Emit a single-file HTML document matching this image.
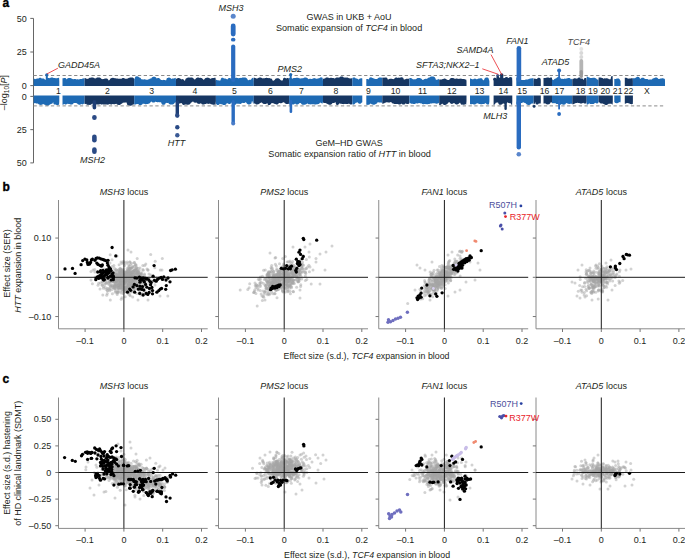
<!DOCTYPE html>
<html><head><meta charset="utf-8"><style>
html,body{margin:0;padding:0;background:#fff;width:685px;height:560px;overflow:hidden}
svg{display:block}
text{font-family:"Liberation Sans",sans-serif}
</style></head><body>
<svg width="685" height="560" viewBox="0 0 685 560" font-family="Liberation Sans, sans-serif">
<rect width="685" height="560" fill="#fff"/>
<text x="2.60" y="6.80" font-size="12" text-anchor="start" fill="#000" font-weight="bold" stroke="#000" stroke-width="0.35">a</text>
<line x1="33.50" y1="18.40" x2="33.50" y2="162.90" stroke="#666" stroke-width="1" />
<line x1="30.30" y1="85.60" x2="33.50" y2="85.60" stroke="#666" stroke-width="1" />
<line x1="30.30" y1="96.40" x2="33.50" y2="96.40" stroke="#666" stroke-width="1" />
<text x="26.80" y="88.70" font-size="9" text-anchor="end" fill="#231f20" >0</text>
<text x="26.80" y="99.50" font-size="9" text-anchor="end" fill="#231f20" >0</text>
<line x1="30.30" y1="52.00" x2="33.50" y2="52.00" stroke="#666" stroke-width="1" />
<line x1="30.30" y1="129.65" x2="33.50" y2="129.65" stroke="#666" stroke-width="1" />
<text x="26.80" y="55.10" font-size="9" text-anchor="end" fill="#231f20" >25</text>
<text x="26.80" y="132.75" font-size="9" text-anchor="end" fill="#231f20" >25</text>
<line x1="30.30" y1="18.40" x2="33.50" y2="18.40" stroke="#666" stroke-width="1" />
<line x1="30.30" y1="162.90" x2="33.50" y2="162.90" stroke="#666" stroke-width="1" />
<text x="26.80" y="21.50" font-size="9" text-anchor="end" fill="#231f20" >50</text>
<text x="26.80" y="166.00" font-size="9" text-anchor="end" fill="#231f20" >50</text>
<text transform="translate(7.4,92.5) rotate(-90)" font-size="9" text-anchor="middle" fill="#231f20">–log<tspan font-size="6.5" dy="2">10</tspan><tspan dy="-2">[</tspan><tspan font-style="italic">P</tspan>]</text>
<path d="M33.6 85.9L33.6 78.4L34.1 78.6L34.6 78.9L35.1 79.3L35.6 79.0L36.1 78.8L36.6 78.7L37.1 78.6L37.6 78.6L38.1 78.6L38.6 78.4L39.1 77.9L39.6 77.8L40.1 77.7L40.6 77.8L41.1 78.1L41.6 78.5L42.1 78.4L42.6 78.4L43.1 78.4L43.6 78.6L44.1 78.8L44.6 79.2L45.1 79.8L45.6 79.6L46.1 79.5L46.6 78.5L47.1 78.2L47.6 78.0L48.1 77.9L48.6 77.9L49.1 78.1L49.6 78.3L50.1 78.1L50.6 77.7L51.1 77.5L51.6 77.4L52.1 77.4L52.6 77.5L53.1 77.7L53.6 78.1L54.1 78.0L54.6 78.0L55.1 78.0L55.6 78.2L56.1 78.3L56.6 78.2L57.1 78.2L57.6 78.0L58.1 77.9L58.6 77.8L59.1 77.8L59.3 80.9L59.3 85.9Z" fill="#1e6ab4"/>
<path d="M33.6 95.6L33.6 103.9L34.1 103.6L34.6 103.1L35.1 103.0L35.6 103.3L36.1 103.5L36.6 103.5L37.1 103.5L37.6 103.4L38.1 103.8L38.6 104.3L39.1 104.5L39.6 104.7L40.1 104.8L40.6 104.9L41.1 104.9L41.6 104.8L42.1 104.6L42.6 104.4L43.1 104.0L43.6 104.2L44.1 104.5L44.6 104.7L45.1 104.8L45.6 105.3L46.1 105.5L46.6 105.7L47.1 105.8L47.6 105.8L48.1 105.7L48.6 105.5L49.1 105.3L49.6 104.8L50.1 104.3L50.6 104.2L51.1 104.1L51.6 103.8L52.1 103.7L52.6 103.3L53.1 102.0L53.6 103.9L54.1 104.4L54.6 104.6L55.1 104.6L55.6 104.5L56.1 104.7L56.6 104.9L57.1 105.0L57.6 105.0L58.1 104.9L58.6 104.8L59.1 104.6L59.3 101.2L59.3 95.6Z" fill="#1e6ab4"/>
<path d="M62.5 85.9L62.5 78.2L63.0 78.2L63.5 78.2L64.0 78.1L64.5 78.0L65.0 78.0L65.5 78.1L66.0 78.4L66.5 79.5L67.0 78.8L67.5 78.4L68.0 78.2L68.5 78.0L69.0 77.9L69.5 77.9L70.0 77.9L70.5 78.0L71.0 78.2L71.5 78.4L72.0 78.8L72.5 78.9L73.0 79.2L73.5 79.2L74.0 79.1L74.5 79.0L75.0 79.0L75.5 79.1L76.0 79.2L76.5 79.4L77.0 79.3L77.5 79.3L78.0 79.3L78.5 79.4L79.0 79.6L79.5 79.3L80.0 79.1L80.5 79.0L81.0 78.9L81.5 78.9L82.0 79.0L82.5 78.6L83.0 78.4L83.5 78.3L84.0 78.4L84.5 78.6L84.6 80.9L84.6 85.9Z" fill="#1e6ab4"/>
<path d="M62.5 95.6L62.5 104.8L63.0 104.7L63.5 104.5L64.0 104.1L64.5 104.1L65.0 104.4L65.5 104.5L66.0 104.4L66.5 104.3L67.0 104.0L67.5 103.7L68.0 103.8L68.5 103.9L69.0 103.9L69.5 104.0L70.0 104.3L70.5 104.5L71.0 104.6L71.5 104.6L72.0 104.5L72.5 104.3L73.0 104.0L73.5 103.3L74.0 103.0L74.5 103.1L75.0 103.1L75.5 102.9L76.0 103.0L76.5 103.2L77.0 103.2L77.5 103.9L78.0 104.3L78.5 104.6L79.0 104.7L79.5 104.7L80.0 104.7L80.5 104.5L81.0 104.3L81.5 104.0L82.0 104.3L82.5 104.4L83.0 104.3L83.5 104.1L84.0 103.6L84.5 103.8L84.6 101.2L84.6 95.6Z" fill="#1e6ab4"/>
<text x="58.30" y="94.30" font-size="8.7" text-anchor="middle" fill="#231f20" >1</text>
<path d="M84.6 85.9L84.6 78.0L85.1 78.1L85.6 78.2L86.1 78.5L86.6 78.8L87.1 78.9L87.6 78.8L88.1 78.7L88.6 78.4L89.1 78.1L89.6 77.8L90.1 77.7L90.6 77.7L91.1 77.6L91.6 77.5L92.1 77.5L92.6 77.5L93.1 77.6L93.6 77.8L94.1 78.2L94.6 78.3L95.1 78.3L95.6 78.5L96.1 78.2L96.6 77.8L97.1 77.6L97.6 77.5L98.1 77.4L98.6 77.4L99.1 77.5L99.6 77.6L100.1 77.8L100.6 78.1L101.1 78.5L101.6 79.0L102.1 79.1L102.6 79.2L103.1 79.1L103.6 79.1L104.1 78.9L104.6 78.6L105.1 78.5L105.6 78.4L106.1 78.4L106.6 78.5L107.1 78.6L107.6 78.9L108.1 79.4L108.6 80.6L109.1 80.3L109.6 79.9L110.1 79.0L110.6 78.5L111.1 78.2L111.6 78.0L112.1 77.9L112.6 77.8L113.1 77.8L113.6 77.9L114.1 78.0L114.6 78.2L115.1 78.2L115.6 78.3L116.1 78.4L116.6 78.4L117.1 78.5L117.6 78.6L118.1 78.8L118.6 78.7L119.1 78.7L119.6 78.7L120.1 78.8L120.6 78.7L121.1 78.8L121.6 78.7L122.1 78.3L122.6 78.1L123.1 78.0L123.6 78.0L124.1 78.1L124.6 78.4L125.1 78.8L125.6 78.7L126.1 78.7L126.6 78.7L127.1 78.8L127.6 78.6L128.1 78.2L128.6 77.9L129.1 77.8L129.6 77.8L130.1 77.6L130.6 77.4L131.1 77.4L131.6 77.4L132.1 77.4L132.6 77.6L133.1 77.8L133.6 78.2L134.1 78.4L134.2 80.9L134.2 85.9Z" fill="#163662"/>
<path d="M84.6 95.6L84.6 103.9L85.1 104.0L85.6 103.9L86.1 103.8L86.6 104.4L87.1 104.7L87.6 104.8L88.1 104.9L88.6 104.8L89.1 104.8L89.6 104.9L90.1 104.9L90.6 104.8L91.1 104.6L91.6 104.2L92.1 103.6L92.6 103.8L93.1 103.9L93.6 103.9L94.1 103.8L94.6 103.5L95.1 103.4L95.6 103.8L96.1 104.2L96.6 104.4L97.1 104.5L97.6 104.6L98.1 104.6L98.6 104.6L99.1 104.4L99.6 104.2L100.1 103.9L100.6 104.3L101.1 104.5L101.6 104.5L102.1 104.4L102.6 104.3L103.1 104.4L103.6 104.4L104.1 104.4L104.6 104.4L105.1 104.5L105.6 104.5L106.1 104.4L106.6 104.5L107.1 104.6L107.6 104.7L108.1 104.6L108.6 104.5L109.1 104.3L109.6 103.9L110.1 104.1L110.6 104.4L111.1 104.5L111.6 104.5L112.1 104.3L112.6 104.0L113.1 104.0L113.6 104.2L114.1 104.2L114.6 104.2L115.1 104.1L115.6 104.0L116.1 103.7L116.6 104.1L117.1 104.5L117.6 104.7L118.1 104.8L118.6 104.9L119.1 104.9L119.6 104.9L120.1 104.7L120.6 104.5L121.1 104.1L121.6 103.8L122.1 103.5L122.6 103.0L123.1 102.6L123.6 102.7L124.1 102.7L124.6 102.6L125.1 102.5L125.6 102.4L126.1 102.5L126.6 102.6L127.1 104.4L127.6 104.9L128.1 105.2L128.6 105.5L129.1 105.6L129.6 105.7L130.1 105.7L130.6 105.7L131.1 105.6L131.6 105.4L132.1 105.2L132.6 104.8L133.1 104.3L133.6 104.6L134.1 104.7L134.2 101.2L134.2 95.6Z" fill="#163662"/>
<text x="107.50" y="94.30" font-size="8.7" text-anchor="middle" fill="#231f20" >2</text>
<path d="M134.2 85.9L134.2 78.4L134.7 79.0L135.2 77.0L135.7 76.6L136.2 76.4L136.7 76.3L137.2 76.3L137.7 76.4L138.2 76.6L138.7 77.0L139.2 77.5L139.7 77.6L140.2 77.7L140.7 78.1L141.2 79.3L141.7 79.3L142.2 79.3L142.7 79.5L143.2 79.5L143.7 79.4L144.2 79.3L144.7 79.3L145.2 79.4L145.7 79.6L146.2 79.8L146.7 79.7L147.2 79.7L147.7 79.7L148.2 79.4L148.7 79.3L149.2 79.2L149.7 78.8L150.2 78.6L150.7 78.5L151.2 78.4L151.7 77.7L152.2 77.2L152.7 76.9L153.2 76.8L153.7 76.7L154.2 76.7L154.7 76.8L155.2 76.9L155.7 77.2L156.2 77.7L156.7 78.5L157.2 78.3L157.7 78.1L158.2 78.1L158.7 78.1L159.2 78.2L159.7 78.5L160.2 79.1L160.7 79.7L161.2 79.9L161.7 80.1L162.2 80.2L162.7 80.0L163.2 79.9L163.7 79.8L164.2 79.9L164.7 80.0L165.2 80.2L165.7 80.2L166.2 80.2L166.7 78.6L167.2 78.1L167.7 77.9L168.2 77.7L168.7 77.6L169.2 77.6L169.7 77.7L170.2 77.9L170.7 78.2L171.2 78.7L171.7 78.9L172.2 78.6L172.7 78.5L173.2 78.4L173.7 78.4L174.2 78.4L174.7 78.1L175.2 77.9L175.7 77.8L176.0 80.9L176.0 85.9Z" fill="#1e6ab4"/>
<path d="M134.2 95.6L134.2 104.5L134.7 104.6L135.2 104.5L135.7 104.4L136.2 104.2L136.7 104.0L137.2 104.0L137.7 104.1L138.2 104.1L138.7 104.6L139.2 104.9L139.7 105.0L140.2 105.1L140.7 105.1L141.2 105.0L141.7 104.8L142.2 104.5L142.7 103.8L143.2 103.8L143.7 103.7L144.2 103.7L144.7 104.1L145.2 104.3L145.7 104.3L146.2 104.3L146.7 104.1L147.2 103.9L147.7 103.9L148.2 103.8L148.7 103.7L149.2 103.5L149.7 103.2L150.2 102.8L150.7 102.1L151.2 101.4L151.7 101.8L152.2 102.2L152.7 102.4L153.2 102.5L153.7 102.5L154.2 102.4L154.7 102.2L155.2 101.9L155.7 101.6L156.2 101.9L156.7 102.1L157.2 102.2L157.7 102.2L158.2 102.2L158.7 102.1L159.2 102.2L159.7 102.3L160.2 102.2L160.7 102.3L161.2 102.4L161.7 104.0L162.2 104.5L162.7 104.7L163.2 104.8L163.7 104.8L164.2 104.8L164.7 104.6L165.2 104.2L165.7 102.9L166.2 102.7L166.7 102.9L167.2 103.0L167.7 103.0L168.2 102.8L168.7 103.4L169.2 103.9L169.7 104.2L170.2 104.4L170.7 104.6L171.2 104.6L171.7 104.6L172.2 104.6L172.7 104.5L173.2 104.3L173.7 104.0L174.2 103.6L174.7 102.7L175.2 102.6L175.7 102.5L176.0 101.2L176.0 95.6Z" fill="#1e6ab4"/>
<text x="151.60" y="94.30" font-size="8.7" text-anchor="middle" fill="#231f20" >3</text>
<path d="M176.0 85.9L176.0 79.1L176.5 78.7L177.0 78.4L177.5 78.2L178.0 78.1L178.5 78.1L179.0 78.1L179.5 78.2L180.0 78.4L180.5 78.7L181.0 79.1L181.5 79.5L182.0 79.2L182.5 79.1L183.0 79.2L183.5 79.4L184.0 79.9L184.5 80.7L185.0 80.7L185.5 78.9L186.0 78.4L186.5 78.2L187.0 78.1L187.5 77.8L188.0 77.5L188.5 77.4L189.0 77.4L189.5 77.5L190.0 77.7L190.5 77.6L191.0 77.5L191.5 77.6L192.0 77.6L192.5 77.8L193.0 78.0L193.5 78.4L194.0 79.0L194.5 79.6L195.0 79.4L195.5 79.1L196.0 78.3L196.5 77.9L197.0 77.7L197.5 77.5L198.0 77.5L198.5 77.6L199.0 77.7L199.5 77.9L200.0 77.8L200.5 77.8L201.0 77.9L201.5 78.0L202.0 78.3L202.5 78.7L203.0 79.3L203.5 79.8L204.0 79.8L204.5 78.9L205.0 78.4L205.5 78.1L206.0 77.9L206.5 77.7L207.0 77.7L207.5 77.6L208.0 77.7L208.5 77.8L209.0 78.0L209.5 78.2L210.0 78.6L210.5 79.1L211.0 78.6L211.5 78.3L212.0 78.2L212.5 78.1L213.0 78.0L213.5 78.1L214.0 78.0L214.5 77.8L215.0 77.8L215.5 77.8L215.9 80.9L215.9 85.9Z" fill="#163662"/>
<path d="M176.0 95.6L176.0 103.6L176.5 104.1L177.0 104.3L177.5 104.4L178.0 104.4L178.5 104.3L179.0 104.0L179.5 103.5L180.0 103.3L180.5 103.3L181.0 103.2L181.5 102.9L182.0 103.6L182.5 104.5L183.0 104.8L183.5 104.9L184.0 104.9L184.5 104.8L185.0 104.6L185.5 104.5L186.0 104.6L186.5 104.6L187.0 104.8L187.5 104.8L188.0 104.8L188.5 104.8L189.0 104.6L189.5 104.4L190.0 104.1L190.5 103.5L191.0 102.5L191.5 102.4L192.0 102.2L192.5 101.8L193.0 101.3L193.5 102.0L194.0 102.4L194.5 102.6L195.0 102.7L195.5 102.7L196.0 102.5L196.5 102.4L197.0 103.1L197.5 103.5L198.0 103.7L198.5 103.8L199.0 103.9L199.5 103.8L200.0 103.7L200.5 103.5L201.0 103.1L201.5 103.9L202.0 104.3L202.5 104.5L203.0 104.6L203.5 104.6L204.0 104.5L204.5 104.3L205.0 104.1L205.5 104.1L206.0 103.9L206.5 103.4L207.0 103.4L207.5 103.7L208.0 103.8L208.5 103.9L209.0 103.8L209.5 103.7L210.0 103.5L210.5 103.9L211.0 104.2L211.5 104.3L212.0 104.4L212.5 104.6L213.0 104.8L213.5 104.8L214.0 104.8L214.5 104.6L215.0 104.8L215.5 104.8L215.9 101.2L215.9 95.6Z" fill="#163662"/>
<text x="195.00" y="94.30" font-size="8.7" text-anchor="middle" fill="#231f20" >4</text>
<path d="M215.9 85.9L215.9 79.9L216.4 79.8L216.9 79.9L217.4 80.2L217.9 80.2L218.4 80.2L218.9 80.4L219.4 80.6L219.9 80.6L220.4 80.6L220.9 78.7L221.4 78.1L221.9 77.8L222.4 77.8L222.9 77.8L223.4 78.0L223.9 78.5L224.4 78.4L224.9 78.5L225.4 78.6L225.9 78.8L226.4 79.1L226.9 79.2L227.4 79.4L227.9 78.7L228.4 78.3L228.9 78.1L229.4 78.0L229.9 78.0L230.4 78.2L230.9 78.4L231.4 78.9L231.9 79.0L232.4 79.2L232.9 79.1L233.4 78.6L233.9 78.4L234.4 78.4L234.9 78.1L235.4 77.9L235.9 77.8L236.4 77.8L236.9 77.8L237.4 77.9L237.9 78.1L238.4 78.3L238.9 78.3L239.4 78.1L239.9 77.9L240.4 77.9L240.9 77.8L241.4 77.9L241.9 77.7L242.4 77.5L242.9 77.4L243.4 77.4L243.9 77.5L244.4 77.5L244.9 77.5L245.4 77.6L245.9 77.8L246.4 78.0L246.9 78.4L247.4 79.1L247.9 80.2L248.4 80.2L248.9 79.9L249.4 79.7L249.9 79.7L250.4 79.7L250.9 79.8L251.4 78.9L251.9 78.3L252.4 78.0L252.9 77.8L253.4 77.7L253.8 80.9L253.8 85.9Z" fill="#1e6ab4"/>
<path d="M215.9 95.6L215.9 103.6L216.4 104.3L216.9 104.7L217.4 104.9L217.9 105.0L218.4 104.9L218.9 104.7L219.4 104.2L219.9 103.8L220.4 104.1L220.9 104.2L221.4 104.3L221.9 104.2L222.4 104.5L222.9 104.7L223.4 104.9L223.9 104.9L224.4 104.9L224.9 104.9L225.4 104.7L225.9 104.4L226.4 104.0L226.9 103.1L227.4 103.3L227.9 103.4L228.4 103.7L228.9 103.9L229.4 103.9L229.9 103.9L230.4 103.7L230.9 103.3L231.4 102.8L231.9 102.6L232.4 102.2L232.9 103.6L233.4 104.4L233.9 104.7L234.4 104.8L234.9 104.8L235.4 104.7L235.9 104.4L236.4 103.8L236.9 103.6L237.4 103.7L237.9 103.8L238.4 103.8L238.9 103.7L239.4 103.8L239.9 103.9L240.4 103.9L240.9 103.7L241.4 103.5L241.9 103.1L242.4 102.8L242.9 103.0L243.4 103.0L243.9 103.0L244.4 102.9L244.9 102.8L245.4 102.5L245.9 101.9L246.4 102.9L246.9 103.6L247.4 104.0L247.9 104.2L248.4 104.4L248.9 104.4L249.4 104.4L249.9 104.3L250.4 104.1L250.9 103.8L251.4 103.4L251.9 101.2L252.4 101.2L252.9 103.3L253.4 103.7L253.8 101.2L253.8 95.6Z" fill="#1e6ab4"/>
<text x="234.30" y="94.30" font-size="8.7" text-anchor="middle" fill="#231f20" >5</text>
<path d="M253.8 85.9L253.8 77.8L254.3 77.8L254.8 77.8L255.3 78.0L255.8 78.3L256.3 78.6L256.8 78.4L257.3 78.4L257.8 78.2L258.3 77.9L258.8 77.7L259.3 77.5L259.8 77.5L260.3 77.5L260.8 77.6L261.3 77.7L261.8 78.0L262.3 78.3L262.8 78.4L263.3 78.3L263.8 78.2L264.3 78.2L264.8 78.3L265.3 78.0L265.8 77.9L266.3 77.8L266.8 77.8L267.3 77.9L267.8 78.1L268.3 78.2L268.8 78.1L269.3 78.1L269.8 78.3L270.3 78.4L270.8 78.5L271.3 78.6L271.8 78.9L272.3 79.8L272.8 80.7L273.3 80.7L273.8 80.6L274.3 80.3L274.8 79.8L275.3 79.0L275.8 78.6L276.3 78.4L276.8 78.3L277.3 78.2L277.8 78.2L278.3 78.3L278.8 78.5L279.3 78.8L279.8 79.3L280.3 79.8L280.8 80.3L281.3 80.5L281.8 80.6L282.3 80.4L282.8 80.3L283.3 78.2L283.8 77.9L284.3 77.8L284.8 77.8L285.3 77.9L285.8 78.3L286.3 78.4L286.8 78.2L287.3 78.1L287.8 78.0L288.3 78.1L288.8 78.4L289.1 80.9L289.1 85.9Z" fill="#163662"/>
<path d="M253.8 95.6L253.8 103.7L254.3 103.5L254.8 103.5L255.3 103.7L255.8 104.2L256.3 104.4L256.8 104.4L257.3 104.4L257.8 104.3L258.3 104.2L258.8 104.0L259.3 103.7L259.8 103.2L260.3 102.9L260.8 102.7L261.3 102.6L261.8 102.6L262.3 103.1L262.8 103.5L263.3 103.8L263.8 103.9L264.3 104.0L264.8 104.0L265.3 104.0L265.8 103.9L266.3 103.7L266.8 103.4L267.3 103.0L267.8 104.5L268.3 104.9L268.8 105.0L269.3 105.1L269.8 105.0L270.3 104.7L270.8 104.1L271.3 103.3L271.8 103.2L272.3 103.1L272.8 103.2L273.3 103.3L273.8 103.6L274.3 103.8L274.8 103.9L275.3 103.9L275.8 104.3L276.3 104.5L276.8 104.5L277.3 104.4L277.8 104.2L278.3 103.8L278.8 103.2L279.3 103.1L279.8 103.0L280.3 103.2L280.8 103.2L281.3 103.2L281.8 103.0L282.3 102.7L282.8 102.6L283.3 102.4L283.8 102.0L284.3 102.6L284.8 103.2L285.3 103.6L285.8 103.8L286.3 104.0L286.8 104.1L287.3 104.1L287.8 104.1L288.3 104.1L288.8 103.9L289.1 101.2L289.1 95.6Z" fill="#163662"/>
<text x="270.50" y="94.30" font-size="8.7" text-anchor="middle" fill="#231f20" >6</text>
<path d="M289.1 85.9L289.1 78.1L289.6 78.0L290.1 77.9L290.6 77.9L291.1 78.1L291.6 78.3L292.1 78.7L292.6 78.4L293.1 78.2L293.6 78.1L294.1 78.1L294.6 78.1L295.1 78.1L295.6 77.9L296.1 77.8L296.6 77.7L297.1 77.7L297.6 77.7L298.1 77.8L298.6 78.0L299.1 78.3L299.6 78.3L300.1 78.4L300.6 78.4L301.1 78.4L301.6 78.3L302.1 78.2L302.6 78.2L303.1 78.2L303.6 78.1L304.1 77.8L304.6 77.6L305.1 77.5L305.6 77.5L306.1 77.5L306.6 77.7L307.1 77.9L307.6 78.2L308.1 78.7L308.6 79.3L309.1 79.0L309.6 78.8L310.1 78.7L310.6 78.7L311.1 78.9L311.6 78.9L312.1 78.8L312.6 78.7L313.1 78.4L313.6 78.2L314.1 78.1L314.6 78.2L315.1 78.2L315.6 78.4L316.1 78.7L316.6 78.8L317.1 78.8L317.6 78.6L318.1 78.4L318.6 78.3L319.1 78.3L319.6 78.0L320.1 77.6L320.6 77.4L321.1 77.3L321.6 77.4L322.1 77.6L322.6 78.0L323.0 80.9L323.0 85.9Z" fill="#1e6ab4"/>
<path d="M289.1 95.6L289.1 104.4L289.6 104.4L290.1 104.4L290.6 104.3L291.1 104.1L291.6 104.1L292.1 104.3L292.6 104.4L293.1 104.4L293.6 104.4L294.1 104.2L294.6 104.0L295.1 103.6L295.6 104.1L296.1 104.4L296.6 104.5L297.1 104.5L297.6 104.5L298.1 104.3L298.6 104.0L299.1 103.4L299.6 102.9L300.1 102.9L300.6 103.1L301.1 103.6L301.6 104.2L302.1 104.5L302.6 104.7L303.1 104.8L303.6 104.8L304.1 104.7L304.6 104.7L305.1 104.6L305.6 104.5L306.1 104.3L306.6 103.9L307.1 103.5L307.6 103.6L308.1 104.0L308.6 104.2L309.1 104.3L309.6 104.3L310.1 104.3L310.6 104.4L311.1 104.3L311.6 104.2L312.1 104.2L312.6 104.3L313.1 104.3L313.6 104.3L314.1 104.3L314.6 104.4L315.1 104.5L315.6 104.5L316.1 104.4L316.6 104.3L317.1 104.2L317.6 104.2L318.1 104.1L318.6 104.0L319.1 103.7L319.6 103.3L320.1 102.5L320.6 102.8L321.1 103.1L321.6 103.3L322.1 103.4L322.6 103.4L323.0 101.2L323.0 95.6Z" fill="#1e6ab4"/>
<text x="301.50" y="94.30" font-size="8.7" text-anchor="middle" fill="#231f20" >7</text>
<path d="M323.0 85.9L323.0 78.4L323.5 78.9L324.0 78.6L324.5 78.5L325.0 78.5L325.5 78.0L326.0 77.6L326.5 77.4L327.0 77.4L327.5 77.4L328.0 77.5L328.5 77.7L329.0 78.2L329.5 78.1L330.0 77.9L330.5 77.7L331.0 77.7L331.5 77.8L332.0 77.9L332.5 78.0L333.0 78.0L333.5 78.1L334.0 78.3L334.5 78.6L335.0 78.6L335.5 78.0L336.0 77.7L336.5 77.5L337.0 77.4L337.5 77.4L338.0 77.4L338.5 77.6L339.0 77.8L339.5 77.2L340.0 76.9L340.5 76.6L341.0 76.5L341.5 76.5L342.0 76.5L342.5 76.6L343.0 76.8L343.5 77.2L344.0 77.7L344.5 77.6L345.0 77.5L345.5 77.6L346.0 77.7L346.5 77.6L347.0 77.6L347.5 77.6L348.0 77.7L348.5 77.9L349.0 78.2L349.5 78.2L350.0 78.4L350.5 78.4L351.0 78.3L351.5 78.3L352.0 78.5L352.3 80.9L352.3 85.9Z" fill="#163662"/>
<path d="M323.0 95.6L323.0 102.5L323.5 102.7L324.0 103.0L324.5 103.1L325.0 103.1L325.5 103.1L326.0 103.2L326.5 103.6L327.0 103.8L327.5 103.9L328.0 104.2L328.5 104.5L329.0 104.7L329.5 104.7L330.0 104.7L330.5 104.7L331.0 104.5L331.5 104.2L332.0 103.7L332.5 103.0L333.0 103.1L333.5 103.1L334.0 103.0L334.5 102.8L335.0 102.5L335.5 102.0L336.0 104.3L336.5 104.7L337.0 104.9L337.5 104.9L338.0 104.8L338.5 104.6L339.0 104.1L339.5 103.3L340.0 103.5L340.5 103.7L341.0 103.7L341.5 103.7L342.0 103.9L342.5 104.1L343.0 104.1L343.5 104.2L344.0 104.1L344.5 104.0L345.0 103.8L345.5 103.9L346.0 104.1L346.5 104.1L347.0 104.1L347.5 104.1L348.0 104.0L348.5 103.8L349.0 103.5L349.5 104.0L350.0 104.3L350.5 104.5L351.0 104.6L351.5 104.5L352.0 104.3L352.3 101.2L352.3 95.6Z" fill="#163662"/>
<text x="336.00" y="94.30" font-size="8.7" text-anchor="middle" fill="#231f20" >8</text>
<path d="M352.3 85.9L352.3 77.9L352.8 77.8L353.3 77.5L353.8 77.4L354.3 77.4L354.8 77.5L355.3 77.9L355.8 78.5L356.3 78.5L356.8 78.5L357.3 78.7L357.8 78.9L358.3 79.5L358.8 79.5L359.3 79.0L359.8 78.6L360.3 78.4L360.8 78.3L361.3 78.2L361.8 78.3L362.3 78.5L362.3 80.9L362.3 85.9Z" fill="#1e6ab4"/>
<path d="M352.3 95.6L352.3 104.3L352.8 104.5L353.3 104.5L353.8 104.5L354.3 104.3L354.8 104.0L355.3 103.2L355.8 102.8L356.3 102.7L356.8 102.6L357.3 102.3L357.8 102.4L358.3 103.2L358.8 103.6L359.3 103.7L359.8 103.7L360.3 103.7L360.8 103.5L361.3 103.1L361.8 102.5L362.3 102.3L362.3 101.2L362.3 95.6Z" fill="#1e6ab4"/>
<path d="M366.3 85.9L366.3 78.9L366.8 78.9L367.3 79.0L367.8 79.1L368.3 79.4L368.8 79.3L369.3 78.3L369.8 77.6L370.3 77.4L370.8 77.3L371.3 77.4L371.8 77.6L372.3 77.9L372.8 78.0L373.3 78.2L373.8 78.5L374.3 78.7L374.8 78.8L375.3 79.1L375.8 78.9L376.3 78.9L376.8 78.9L377.3 78.9L377.8 78.3L378.3 77.9L378.8 77.7L379.3 77.5L379.8 77.4L380.3 77.4L380.8 77.5L381.3 77.6L381.8 77.7L382.3 77.7L382.3 80.9L382.3 85.9Z" fill="#1e6ab4"/>
<path d="M366.3 95.6L366.3 104.8L366.8 104.7L367.3 104.8L367.8 104.9L368.3 104.8L368.8 104.7L369.3 104.5L369.8 104.2L370.3 103.7L370.8 103.4L371.3 103.9L371.8 104.3L372.3 104.5L372.8 104.6L373.3 104.7L373.8 104.7L374.3 104.7L374.8 104.5L375.3 104.3L375.8 104.0L376.3 103.7L376.8 103.4L377.3 102.9L377.8 102.0L378.3 102.3L378.8 102.5L379.3 102.6L379.8 102.6L380.3 102.6L380.8 102.5L381.3 102.6L381.8 102.7L382.3 102.7L382.3 101.2L382.3 95.6Z" fill="#1e6ab4"/>
<text x="368.50" y="94.30" font-size="8.7" text-anchor="middle" fill="#231f20" >9</text>
<path d="M382.3 85.9L382.3 77.6L382.8 77.8L383.3 77.7L383.8 77.6L384.3 77.6L384.8 77.7L385.3 77.6L385.8 77.5L386.3 77.6L386.8 77.8L387.3 78.2L387.8 79.4L388.3 79.4L388.8 79.2L389.3 78.9L389.8 78.8L390.3 78.7L390.8 78.7L391.3 78.7L391.8 78.8L392.3 79.0L392.8 79.1L393.3 79.1L393.8 79.2L394.3 78.7L394.8 78.1L395.3 77.8L395.8 77.6L396.3 77.6L396.8 77.6L397.3 77.8L397.8 77.9L398.3 77.7L398.8 77.6L399.3 77.7L399.8 77.8L400.3 77.6L400.8 77.4L401.3 77.3L401.8 77.3L402.3 77.4L402.8 77.6L403.3 78.0L403.8 79.6L404.3 79.6L404.8 79.6L405.3 79.2L405.8 79.0L406.3 78.8L406.8 78.8L407.3 78.7L407.8 78.8L408.3 78.9L408.8 78.4L409.3 78.1L409.4 80.9L409.4 85.9Z" fill="#163662"/>
<path d="M382.3 95.6L382.3 103.7L382.8 103.7L383.3 103.6L383.8 103.4L384.3 103.2L384.8 102.8L385.3 102.7L385.8 102.6L386.3 102.4L386.8 102.1L387.3 102.2L387.8 102.4L388.3 102.5L388.8 102.5L389.3 102.5L389.8 102.4L390.3 102.2L390.8 102.1L391.3 102.1L391.8 102.9L392.3 103.3L392.8 103.4L393.3 103.4L393.8 103.8L394.3 104.0L394.8 104.1L395.3 104.1L395.8 103.9L396.3 103.9L396.8 104.1L397.3 104.1L397.8 104.0L398.3 104.2L398.8 104.5L399.3 104.6L399.8 104.6L400.3 104.4L400.8 104.0L401.3 103.5L401.8 103.9L402.3 104.3L402.8 104.5L403.3 104.6L403.8 104.6L404.3 104.5L404.8 104.2L405.3 103.6L405.8 103.5L406.3 103.8L406.8 104.0L407.3 104.1L407.8 104.1L408.3 104.0L408.8 103.8L409.3 103.5L409.4 101.2L409.4 95.6Z" fill="#163662"/>
<text x="395.50" y="94.30" font-size="8.7" text-anchor="middle" fill="#231f20" >10</text>
<path d="M409.4 85.9L409.4 78.2L409.9 78.1L410.4 78.1L410.9 78.1L411.4 78.2L411.9 78.5L412.4 78.9L412.9 79.2L413.4 79.3L413.9 79.4L414.4 79.2L414.9 79.2L415.4 79.2L415.9 79.2L416.4 78.7L416.9 78.4L417.4 78.1L417.9 78.0L418.4 77.9L418.9 77.9L419.4 77.9L419.9 78.0L420.4 78.2L420.9 78.4L421.4 78.7L421.9 79.3L422.4 79.9L422.9 79.8L423.4 79.7L423.9 79.5L424.4 79.1L424.9 78.9L425.4 78.8L425.9 78.7L426.4 78.8L426.9 79.0L427.4 78.6L427.9 78.1L428.4 77.8L428.9 77.6L429.4 77.5L429.9 77.2L430.4 76.8L430.9 76.6L431.4 76.4L431.9 76.4L432.4 76.4L432.9 76.4L433.4 76.5L433.9 76.7L434.4 77.0L434.9 77.4L435.4 78.2L435.9 79.7L436.4 79.7L436.9 79.7L437.4 79.6L437.9 79.6L438.4 79.2L438.9 78.8L439.2 80.9L439.2 85.9Z" fill="#1e6ab4"/>
<path d="M409.4 95.6L409.4 102.5L409.9 103.0L410.4 103.3L410.9 103.5L411.4 103.7L411.9 103.8L412.4 103.8L412.9 103.7L413.4 103.9L413.9 104.1L414.4 104.1L414.9 104.0L415.4 103.8L415.9 103.3L416.4 103.3L416.9 103.4L417.4 103.4L417.9 103.4L418.4 103.2L418.9 102.9L419.4 103.0L419.9 103.2L420.4 103.3L420.9 103.4L421.4 103.3L421.9 103.8L422.4 104.1L422.9 104.2L423.4 104.3L423.9 104.2L424.4 104.1L424.9 103.9L425.4 104.1L425.9 104.2L426.4 104.2L426.9 104.1L427.4 104.2L427.9 104.2L428.4 104.1L428.9 104.0L429.4 103.9L429.9 103.8L430.4 103.6L430.9 103.4L431.4 103.4L431.9 103.4L432.4 103.3L432.9 103.2L433.4 103.3L433.9 103.3L434.4 103.2L434.9 103.2L435.4 103.4L435.9 103.6L436.4 103.7L436.9 103.7L437.4 103.6L437.9 103.5L438.4 103.3L438.9 103.1L439.2 101.2L439.2 95.6Z" fill="#1e6ab4"/>
<text x="422.50" y="94.30" font-size="8.7" text-anchor="middle" fill="#231f20" >11</text>
<path d="M439.2 85.9L439.2 79.6L439.7 79.6L440.2 79.5L440.7 79.4L441.2 79.5L441.7 79.4L442.2 79.2L442.7 79.1L443.2 79.0L443.7 78.8L444.2 78.6L444.7 78.6L445.2 78.7L445.7 78.8L446.2 79.3L446.7 79.5L447.2 79.7L447.7 79.9L448.2 79.9L448.7 79.9L449.2 79.9L449.7 79.1L450.2 78.6L450.7 78.3L451.2 78.1L451.7 78.0L452.2 78.0L452.7 78.0L453.2 78.0L453.7 78.2L454.2 78.4L454.7 78.7L455.2 78.8L455.7 78.7L456.2 78.6L456.7 78.5L457.2 78.6L457.7 78.7L458.2 78.9L458.7 78.8L459.2 78.7L459.7 78.8L460.2 78.7L460.7 78.6L461.2 78.7L461.7 78.8L462.2 79.0L462.7 78.9L463.2 78.9L463.7 78.9L464.2 79.0L464.7 79.2L465.2 79.4L465.7 79.4L466.2 79.5L466.5 80.9L466.5 85.9Z" fill="#163662"/>
<path d="M439.2 95.6L439.2 105.0L439.7 105.0L440.2 104.9L440.7 104.7L441.2 104.5L441.7 104.1L442.2 103.4L442.7 103.9L443.2 104.5L443.7 104.8L444.2 104.9L444.7 105.0L445.2 104.9L445.7 104.8L446.2 104.5L446.7 104.2L447.2 104.0L447.7 103.6L448.2 102.6L448.7 102.5L449.2 102.2L449.7 102.2L450.2 103.3L450.7 103.6L451.2 103.8L451.7 103.9L452.2 103.8L452.7 103.7L453.2 103.4L453.7 103.0L454.2 103.1L454.7 103.5L455.2 104.0L455.7 104.2L456.2 104.4L456.7 104.4L457.2 104.4L457.7 104.3L458.2 104.1L458.7 103.8L459.2 103.2L459.7 102.7L460.2 102.8L460.7 104.1L461.2 104.5L461.7 104.7L462.2 104.7L462.7 104.6L463.2 104.7L463.7 104.8L464.2 104.7L464.7 104.6L465.2 104.3L465.7 104.3L466.2 104.6L466.5 101.2L466.5 95.6Z" fill="#163662"/>
<text x="451.80" y="94.30" font-size="8.7" text-anchor="middle" fill="#231f20" >12</text>
<path d="M470.0 85.9L470.0 78.2L470.5 78.4L471.0 78.7L471.5 78.9L472.0 79.0L472.5 79.2L473.0 79.4L473.5 79.0L474.0 78.8L474.5 78.7L475.0 78.6L475.5 78.7L476.0 78.9L476.5 79.2L477.0 79.2L477.5 79.1L478.0 78.7L478.5 78.5L479.0 78.4L479.5 78.5L480.0 78.3L480.5 78.2L481.0 78.2L481.5 78.3L482.0 78.6L482.5 79.3L483.0 80.3L483.5 80.2L484.0 80.1L484.5 78.7L485.0 78.0L485.5 77.7L486.0 77.5L486.5 77.4L487.0 77.4L487.5 77.6L488.0 77.8L488.5 78.2L489.0 79.8L489.4 80.9L489.4 85.9Z" fill="#1e6ab4"/>
<path d="M470.0 95.6L470.0 104.0L470.5 104.2L471.0 104.3L471.5 104.3L472.0 104.2L472.5 103.9L473.0 104.0L473.5 104.4L474.0 104.5L474.5 104.5L475.0 104.5L475.5 104.2L476.0 103.8L476.5 103.6L477.0 103.5L477.5 103.3L478.0 103.2L478.5 103.8L479.0 104.0L479.5 104.1L480.0 104.1L480.5 104.2L481.0 104.3L481.5 104.3L482.0 104.2L482.5 104.1L483.0 103.9L483.5 103.9L484.0 103.9L484.5 103.7L485.0 103.4L485.5 103.1L486.0 103.6L486.5 104.1L487.0 104.4L487.5 104.5L488.0 104.5L488.5 104.4L489.0 104.2L489.4 101.2L489.4 95.6Z" fill="#1e6ab4"/>
<text x="479.60" y="94.30" font-size="8.7" text-anchor="middle" fill="#231f20" >13</text>
<path d="M493.6 85.9L493.6 78.2L494.1 77.9L494.6 77.8L495.1 77.8L495.6 77.9L496.1 78.1L496.6 78.6L497.1 79.1L497.6 78.1L498.1 77.9L498.6 77.8L499.1 77.8L499.6 77.8L500.1 77.7L500.6 77.8L501.1 78.0L501.6 78.1L502.1 78.1L502.6 78.0L503.1 78.1L503.6 78.2L504.1 78.1L504.6 78.0L505.1 77.7L505.6 77.5L506.1 77.5L506.6 77.5L507.1 77.7L507.6 78.2L508.1 78.1L508.6 78.1L509.1 78.1L509.6 78.2L510.1 78.4L510.6 78.0L511.1 77.7L511.6 77.6L512.1 77.5L512.3 80.9L512.3 85.9Z" fill="#163662"/>
<path d="M493.6 95.6L493.6 104.9L494.1 104.7L494.6 104.5L495.1 104.1L495.6 103.0L496.1 102.6L496.6 102.7L497.1 102.6L497.6 102.4L498.1 102.4L498.6 104.0L499.1 104.4L499.6 104.7L500.1 104.8L500.6 104.8L501.1 104.7L501.6 104.6L502.1 104.3L502.6 103.8L503.1 103.5L503.6 103.5L504.1 103.7L504.6 103.7L505.1 103.7L505.6 103.6L506.1 103.5L506.6 103.2L507.1 102.8L507.6 102.3L508.1 102.7L508.6 103.0L509.1 103.1L509.6 103.2L510.1 103.2L510.6 103.1L511.1 104.2L511.6 104.7L512.1 104.9L512.3 101.2L512.3 95.6Z" fill="#163662"/>
<text x="503.40" y="94.30" font-size="8.7" text-anchor="middle" fill="#231f20" >14</text>
<path d="M516.3 85.9L516.3 77.5L516.8 77.6L517.3 77.9L517.8 78.4L518.3 78.3L518.8 78.4L519.3 78.5L519.8 78.7L520.3 78.9L520.8 79.3L521.3 80.0L521.8 80.0L522.3 80.0L522.8 80.1L523.3 80.1L523.8 80.1L524.3 80.0L524.8 79.9L525.3 79.7L525.8 79.5L526.3 79.4L526.8 79.4L527.3 79.5L527.8 79.5L528.3 79.3L528.8 79.0L529.3 78.8L529.8 78.7L530.3 78.6L530.8 78.6L531.3 78.4L531.8 78.2L532.3 78.2L532.8 78.2L533.3 78.3L533.7 80.9L533.7 85.9Z" fill="#1e6ab4"/>
<path d="M516.3 95.6L516.3 104.8L516.8 104.6L517.3 104.5L517.8 104.5L518.3 104.5L518.8 104.4L519.3 104.2L519.8 103.9L520.3 103.7L520.8 103.4L521.3 103.1L521.8 103.0L522.3 102.8L522.8 102.4L523.3 102.3L523.8 102.6L524.3 102.8L524.8 102.9L525.3 103.1L525.8 103.6L526.3 104.1L526.8 104.5L527.3 104.7L527.8 104.8L528.3 104.9L528.8 104.9L529.3 104.9L529.8 104.7L530.3 104.5L530.8 104.2L531.3 103.8L531.8 103.5L532.3 103.6L532.8 103.6L533.3 103.5L533.7 101.2L533.7 95.6Z" fill="#1e6ab4"/>
<text x="522.20" y="94.30" font-size="8.7" text-anchor="middle" fill="#231f20" >15</text>
<path d="M533.7 85.9L533.7 78.3L534.2 78.5L534.7 78.8L535.2 78.7L535.7 78.8L536.2 78.9L536.7 79.1L537.2 78.7L537.7 78.1L538.2 77.8L538.7 77.7L539.2 77.7L539.7 77.9L540.2 78.2L540.7 78.9L540.8 80.9L540.8 85.9Z" fill="#163662"/>
<path d="M533.7 95.6L533.7 104.4L534.2 104.2L534.7 103.8L535.2 101.9L535.7 103.9L536.2 104.3L536.7 104.4L537.2 104.5L537.7 104.4L538.2 104.2L538.7 103.6L539.2 103.5L539.7 103.4L540.2 103.4L540.7 103.6L540.8 101.2L540.8 95.6Z" fill="#163662"/>
<path d="M543.5 85.9L543.5 78.1L544.0 78.1L544.5 78.1L545.0 78.0L545.5 77.9L546.0 77.8L546.5 77.7L547.0 77.5L547.5 77.5L548.0 77.5L548.5 77.5L549.0 77.7L549.5 77.9L550.0 77.8L550.5 77.6L551.0 77.5L551.5 77.6L552.0 77.7L552.0 80.9L552.0 85.9Z" fill="#163662"/>
<path d="M543.5 95.6L543.5 103.6L544.0 103.6L544.5 103.5L545.0 103.2L545.5 103.5L546.0 103.9L546.5 104.2L547.0 104.3L547.5 104.4L548.0 104.4L548.5 104.3L549.0 104.2L549.5 103.9L550.0 103.5L550.5 102.8L551.0 101.9L551.5 102.4L552.0 102.7L552.0 101.2L552.0 95.6Z" fill="#163662"/>
<text x="544.50" y="94.30" font-size="8.7" text-anchor="middle" fill="#231f20" >16</text>
<path d="M552.0 85.9L552.0 79.4L552.5 79.5L553.0 79.7L553.5 80.2L554.0 79.4L554.5 79.0L555.0 78.7L555.5 78.6L556.0 78.6L556.5 78.0L557.0 77.5L557.5 77.3L558.0 77.1L558.5 77.0L559.0 77.1L559.5 77.2L560.0 77.4L560.5 77.8L561.0 78.9L561.5 78.8L562.0 78.7L562.5 78.8L563.0 78.9L563.5 79.0L564.0 78.8L564.5 78.6L565.0 78.7L565.5 78.7L566.0 78.6L566.5 78.4L567.0 78.4L567.5 78.2L568.0 78.0L568.5 77.9L569.0 77.9L569.5 78.1L570.0 78.3L570.5 78.8L571.0 79.5L571.5 79.0L572.0 78.7L572.3 80.9L572.3 85.9Z" fill="#1e6ab4"/>
<path d="M552.0 95.6L552.0 103.3L552.5 103.2L553.0 103.1L553.5 103.2L554.0 103.2L554.5 103.2L555.0 103.1L555.5 103.3L556.0 103.8L556.5 104.0L557.0 104.1L557.5 104.1L558.0 104.1L558.5 104.4L559.0 104.6L559.5 104.7L560.0 104.8L560.5 104.7L561.0 104.5L561.5 104.1L562.0 104.2L562.5 104.5L563.0 104.6L563.5 104.7L564.0 104.7L564.5 104.6L565.0 104.4L565.5 104.0L566.0 103.2L566.5 102.9L567.0 103.2L567.5 103.5L568.0 103.7L568.5 103.8L569.0 103.9L569.5 103.9L570.0 103.8L570.5 103.7L571.0 103.7L571.5 103.7L572.0 103.7L572.3 101.2L572.3 95.6Z" fill="#1e6ab4"/>
<text x="559.40" y="94.30" font-size="8.7" text-anchor="middle" fill="#231f20" >17</text>
<path d="M572.3 85.9L572.3 78.4L572.8 79.2L573.3 78.7L573.8 78.4L574.3 78.3L574.8 78.3L575.3 78.3L575.8 78.4L576.3 78.7L576.8 78.6L577.3 78.5L577.8 78.2L578.3 77.7L578.8 77.6L579.3 77.5L579.8 77.6L580.3 77.9L580.8 78.7L581.3 78.5L581.8 78.5L582.3 78.5L582.8 78.8L583.3 79.4L583.8 80.1L584.3 78.3L584.8 78.0L585.3 77.9L585.8 77.9L586.3 78.0L586.7 80.9L586.7 85.9Z" fill="#163662"/>
<path d="M572.3 95.6L572.3 104.3L572.8 104.3L573.3 104.2L573.8 104.0L574.3 103.8L574.8 103.4L575.3 103.2L575.8 103.1L576.3 102.9L576.8 102.9L577.3 102.8L577.8 102.8L578.3 102.9L578.8 102.9L579.3 103.0L579.8 103.3L580.3 103.5L580.8 103.6L581.3 103.6L581.8 103.5L582.3 103.3L582.8 103.0L583.3 102.8L583.8 103.2L584.3 103.4L584.8 103.5L585.3 103.6L585.8 103.6L586.3 103.6L586.7 101.2L586.7 95.6Z" fill="#163662"/>
<text x="580.50" y="94.30" font-size="8.7" text-anchor="middle" fill="#231f20" >18</text>
<path d="M586.7 85.9L586.7 76.6L587.2 76.6L587.7 76.7L588.2 77.0L588.7 77.5L589.2 77.5L589.7 77.7L590.2 77.9L590.7 78.0L591.2 78.0L591.7 78.1L592.2 78.0L592.7 77.8L593.2 77.7L593.7 77.7L594.2 77.7L594.7 77.8L595.2 77.9L595.7 78.2L596.2 78.5L596.7 79.1L597.2 79.8L597.7 79.5L598.2 79.0L598.6 80.9L598.6 85.9Z" fill="#1e6ab4"/>
<path d="M586.7 95.6L586.7 104.5L587.2 104.6L587.7 104.5L588.2 104.3L588.7 103.8L589.2 103.3L589.7 103.7L590.2 103.9L590.7 104.0L591.2 104.0L591.7 104.1L592.2 104.1L592.7 104.1L593.2 104.0L593.7 103.9L594.2 103.6L594.7 103.3L595.2 102.7L595.7 102.9L596.2 103.3L596.7 103.4L597.2 103.4L597.7 103.2L598.2 102.9L598.6 101.2L598.6 95.6Z" fill="#1e6ab4"/>
<text x="592.90" y="94.30" font-size="8.7" text-anchor="middle" fill="#231f20" >19</text>
<path d="M598.6 85.9L598.6 77.6L599.1 77.6L599.6 77.5L600.1 77.6L600.6 77.6L601.1 77.7L601.6 77.7L602.1 77.9L602.6 78.1L603.1 78.4L603.6 78.7L604.1 78.4L604.6 78.2L605.1 78.2L605.6 78.4L606.1 78.3L606.6 78.2L607.1 78.2L607.6 78.4L608.1 78.5L608.6 78.9L609.1 79.2L609.6 79.2L610.1 79.3L610.6 79.2L611.1 76.6L611.6 76.3L612.1 76.1L612.6 76.1L612.8 80.9L612.8 85.9Z" fill="#163662"/>
<path d="M598.6 95.6L598.6 102.3L599.1 102.0L599.6 102.7L600.1 103.1L600.6 103.4L601.1 103.5L601.6 103.5L602.1 103.5L602.6 103.4L603.1 103.7L603.6 104.1L604.1 104.2L604.6 104.6L605.1 104.8L605.6 104.9L606.1 105.0L606.6 105.0L607.1 104.8L607.6 104.6L608.1 104.3L608.6 103.7L609.1 103.7L609.6 103.8L610.1 103.8L610.6 103.7L611.1 103.5L611.6 104.0L612.1 104.4L612.6 104.6L612.8 101.2L612.8 95.6Z" fill="#163662"/>
<text x="605.30" y="94.30" font-size="8.7" text-anchor="middle" fill="#231f20" >20</text>
<path d="M614.3 85.9L614.3 78.8L614.8 78.9L615.3 79.1L615.8 79.1L616.3 78.7L616.8 78.5L617.3 78.4L617.8 78.4L618.3 78.4L618.8 78.6L619.3 78.9L619.8 79.4L620.3 80.6L620.6 80.9L620.6 85.9Z" fill="#1e6ab4"/>
<path d="M614.3 95.6L614.3 102.1L614.8 102.6L615.3 102.9L615.8 103.1L616.3 103.2L616.8 103.2L617.3 103.2L617.8 103.0L618.3 102.8L618.8 102.5L619.3 102.1L619.8 102.3L620.3 102.4L620.6 101.2L620.6 95.6Z" fill="#1e6ab4"/>
<text x="617.70" y="94.30" font-size="8.7" text-anchor="middle" fill="#231f20" >21</text>
<path d="M624.8 85.9L624.8 77.8L625.3 77.7L625.8 77.7L626.3 77.8L626.8 78.0L627.3 78.3L627.8 78.5L628.3 78.7L628.8 78.5L629.3 78.4L629.8 78.4L630.3 78.4L630.8 78.5L631.3 78.3L631.8 78.2L632.3 78.2L632.8 78.2L632.9 80.9L632.9 85.9Z" fill="#163662"/>
<path d="M624.8 95.6L624.8 103.7L625.3 103.7L625.8 103.5L626.3 103.2L626.8 103.1L627.3 103.0L627.8 103.0L628.3 103.2L628.8 103.3L629.3 103.4L629.8 103.7L630.3 104.0L630.8 104.1L631.3 104.2L631.8 104.2L632.3 104.1L632.8 103.9L632.9 101.2L632.9 95.6Z" fill="#163662"/>
<text x="628.60" y="94.30" font-size="8.7" text-anchor="middle" fill="#231f20" >22</text>
<path d="M632.9 85.9L632.9 78.3L633.4 78.3L633.9 78.3L634.4 78.2L634.9 78.2L635.4 78.0L635.9 77.6L636.4 77.2L636.9 76.9L637.4 76.8L637.9 76.8L638.4 76.9L638.9 77.1L639.4 77.4L639.9 78.4L640.4 79.0L640.9 78.4L641.4 78.0L641.9 77.8L642.4 77.7L642.9 77.7L643.4 77.8L643.9 78.0L644.4 78.4L644.9 78.8L645.4 78.9L645.9 79.0L646.4 78.9L646.9 78.9L647.4 79.0L647.9 79.2L648.4 79.5L648.9 79.9L649.4 79.6L649.9 79.5L650.4 79.5L650.9 79.5L651.4 79.5L651.9 79.4L652.4 78.8L652.9 78.4L653.4 78.2L653.9 78.2L654.4 77.9L654.9 77.7L655.4 77.5L655.9 77.5L656.4 77.5L656.9 77.6L657.4 77.9L657.9 78.3L658.4 79.1L658.9 79.1L659.4 78.9L659.9 78.7L660.4 78.6L660.9 78.6L661.4 78.5L661.9 78.3L662.4 78.3L662.9 78.3L663.4 78.4L663.9 78.6L664.4 78.8L664.9 79.3L665.0 80.9L665.0 85.9Z" fill="#1e6ab4"/>
<text x="647.00" y="94.30" font-size="8.7" text-anchor="middle" fill="#231f20" >X</text>
<line x1="33.50" y1="75.50" x2="665.00" y2="75.50" stroke="#8a8a8a" stroke-width="1" stroke-dasharray="3.3 2.5"/>
<line x1="33.50" y1="105.90" x2="665.00" y2="105.90" stroke="#8a8a8a" stroke-width="1" stroke-dasharray="3.3 2.5"/>
<rect x="230.80" y="23.50" width="4.8" height="12.90" rx="2.4" fill="#2a6cc0"/>
<rect x="231.10" y="44.50" width="4.2" height="37.50" rx="2.1" fill="#2a6cc0"/>
<circle cx="233.2" cy="16.3" r="2.5" fill="#5a86cc" fill-opacity="1"/>
<rect x="230.90" y="37.80" width="4.6" height="3.70" rx="2.3" fill="#2a6cc0"/>
<rect x="516.60" y="46.00" width="4.6" height="36.00" rx="2.3" fill="#2a6cc0"/>
<circle cx="559.1" cy="70.5" r="2.0" fill="#2a6cc0" fill-opacity="1"/>
<rect x="558.20" y="70.50" width="1.8" height="9.50" rx="0.9" fill="#2a6cc0"/>
<circle cx="581.3" cy="49.0" r="2.0" fill="#e4e4e4" fill-opacity="1"/>
<circle cx="581.3" cy="53.0" r="2.0" fill="#d8d8d8" fill-opacity="1"/>
<circle cx="581.3" cy="57.0" r="2.0" fill="#d8d8d8" fill-opacity="1"/>
<rect x="579.40" y="59.00" width="3.8" height="17.00" rx="1.9" fill="#b5b5b5"/>
<rect x="579.70" y="70.00" width="3.2" height="8.00" rx="1.6" fill="#9a9a9a"/>
<circle cx="46.8" cy="74.8" r="1.6" fill="#1e6ab4" fill-opacity="1"/>
<rect x="45.80" y="74.80" width="2" height="5.20" rx="1.0" fill="#1e6ab4"/>
<circle cx="290.7" cy="74.6" r="1.6" fill="#1e6ab4" fill-opacity="1"/>
<rect x="289.70" y="74.60" width="2" height="5.40" rx="1.0" fill="#1e6ab4"/>
<circle cx="501.7" cy="75.0" r="1.7" fill="#163662" fill-opacity="1"/>
<rect x="500.10" y="75.00" width="3.2" height="5.00" rx="1.6" fill="#163662"/>
<circle cx="497.6" cy="75.4" r="1.5" fill="#3d5a92" fill-opacity="1"/>
<rect x="496.50" y="76.00" width="2.6" height="4.00" rx="1.3" fill="#163662"/>
<circle cx="506.6" cy="78.6" r="1.7" fill="#163662" fill-opacity="1"/>
<circle cx="510.3" cy="78.6" r="1.7" fill="#163662" fill-opacity="1"/>
<circle cx="494.8" cy="79.3" r="1.5" fill="#163662" fill-opacity="1"/>
<rect x="92.60" y="100.00" width="3.6" height="9.50" rx="1.8" fill="#1e3e75"/>
<rect x="92.10" y="115.00" width="4.6" height="5.00" rx="2.3" fill="#2a4a85"/>
<rect x="92.10" y="134.50" width="4.6" height="8.00" rx="2.3" fill="#2a4a85"/>
<rect x="92.10" y="147.20" width="4.6" height="6.80" rx="2.3" fill="#2a4a85"/>
<rect x="175.60" y="100.00" width="3.4" height="17.50" rx="1.7" fill="#1e3e75"/>
<circle cx="177.3" cy="115.5" r="2.2" fill="#2a4a85" fill-opacity="1"/>
<rect x="175.10" y="125.00" width="4.4" height="4.50" rx="2.2" fill="#2a4a85"/>
<circle cx="177.3" cy="135.3" r="2.2" fill="#3a5a95" fill-opacity="1"/>
<rect x="231.50" y="100.00" width="3.4" height="24.00" rx="1.7" fill="#2a6cc0"/>
<circle cx="233.2" cy="123.5" r="2.0" fill="#4a7cc8" fill-opacity="1"/>
<rect x="289.60" y="100.00" width="2.6" height="13.00" rx="1.3" fill="#2a6cc0"/>
<rect x="516.60" y="100.00" width="4.4" height="49.50" rx="2.2" fill="#2a6cc0"/>
<rect x="517.20" y="100.00" width="3.2" height="30.00" rx="1.6" fill="#2a6cc0"/>
<circle cx="518.8" cy="154.3" r="2.3" fill="#5a86cc" fill-opacity="1"/>
<rect x="558.20" y="100.00" width="1.8" height="9.60" rx="0.9" fill="#2a6cc0"/>
<circle cx="559.1" cy="114.0" r="1.9" fill="#2a6cc0" fill-opacity="1"/>
<circle cx="534.1" cy="106.4" r="1.4" fill="#163662" fill-opacity="1"/>
<rect x="504.40" y="100.00" width="2.4" height="9.90" rx="1.2" fill="#163662"/>
<line x1="46.80" y1="74.00" x2="57.90" y2="68.20" stroke="#e8232a" stroke-width="0.8" />
<line x1="491.00" y1="54.60" x2="502.00" y2="75.00" stroke="#e8232a" stroke-width="0.8" />
<line x1="482.30" y1="68.80" x2="498.30" y2="74.30" stroke="#e8232a" stroke-width="0.8" />
<text x="57.90" y="67.80" font-size="9" text-anchor="start" fill="#231f20" ><tspan font-style="italic">GADD45A</tspan></text>
<text x="231.00" y="10.70" font-size="9" text-anchor="middle" fill="#231f20" ><tspan font-style="italic">MSH3</tspan></text>
<text x="289.70" y="71.60" font-size="9" text-anchor="middle" fill="#231f20" ><tspan font-style="italic">PMS2</tspan></text>
<text x="475.10" y="52.80" font-size="9" text-anchor="middle" fill="#231f20" ><tspan font-style="italic">SAMD4A</tspan></text>
<text x="447.80" y="68.20" font-size="9" text-anchor="middle" fill="#231f20" ><tspan font-style="italic">SFTA3;NKX2–1</tspan></text>
<text x="517.40" y="43.90" font-size="9" text-anchor="middle" fill="#231f20" ><tspan font-style="italic">FAN1</tspan></text>
<text x="555.50" y="64.80" font-size="9" text-anchor="middle" fill="#231f20" ><tspan font-style="italic">ATAD5</tspan></text>
<text x="578.80" y="44.50" font-size="9" text-anchor="middle" fill="#4a4a4a" ><tspan font-style="italic">TCF4</tspan></text>
<text x="349.00" y="20.20" font-size="9" text-anchor="middle" fill="#231f20" >GWAS in UKB + AoU</text>
<text x="349.10" y="31.20" font-size="9" text-anchor="middle" fill="#231f20" textLength="146.2" lengthAdjust="spacingAndGlyphs">Somatic expansion of <tspan font-style="italic">TCF4</tspan> in blood</text>
<text x="349.10" y="145.90" font-size="9" text-anchor="middle" fill="#231f20" >GeM–HD GWAS</text>
<text x="349.60" y="156.90" font-size="9" text-anchor="middle" fill="#231f20" textLength="162.5" lengthAdjust="spacingAndGlyphs">Somatic expansion ratio of <tspan font-style="italic">HTT</tspan> in blood</text>
<text x="80.00" y="163.30" font-size="9" text-anchor="start" fill="#231f20" ><tspan font-style="italic">MSH2</tspan></text>
<text x="167.70" y="145.90" font-size="9" text-anchor="start" fill="#231f20" ><tspan font-style="italic">HTT</tspan></text>
<text x="483.30" y="119.10" font-size="9" text-anchor="start" fill="#231f20" ><tspan font-style="italic">MLH3</tspan></text>
<text x="2.60" y="190.60" font-size="12" text-anchor="start" fill="#000" font-weight="bold" stroke="#000" stroke-width="0.35">b</text>
<line x1="58.50" y1="200.00" x2="58.50" y2="328.80" stroke="#8a8a8a" stroke-width="1" />
<line x1="58.50" y1="328.80" x2="207.70" y2="328.80" stroke="#8a8a8a" stroke-width="1" />
<line x1="55.30" y1="238.05" x2="58.50" y2="238.05" stroke="#777" stroke-width="1" />
<line x1="55.30" y1="277.30" x2="58.50" y2="277.30" stroke="#777" stroke-width="1" />
<line x1="55.30" y1="316.55" x2="58.50" y2="316.55" stroke="#777" stroke-width="1" />
<line x1="85.10" y1="328.80" x2="85.10" y2="332.00" stroke="#777" stroke-width="1" />
<line x1="123.90" y1="328.80" x2="123.90" y2="332.00" stroke="#777" stroke-width="1" />
<line x1="162.70" y1="328.80" x2="162.70" y2="332.00" stroke="#777" stroke-width="1" />
<line x1="201.50" y1="328.80" x2="201.50" y2="332.00" stroke="#777" stroke-width="1" />
<text x="85.10" y="343.70" font-size="9" text-anchor="middle" fill="#231f20" >–0.1</text>
<text x="123.90" y="343.70" font-size="9" text-anchor="middle" fill="#231f20" >0</text>
<text x="162.70" y="343.70" font-size="9" text-anchor="middle" fill="#231f20" >0.1</text>
<text x="201.50" y="343.70" font-size="9" text-anchor="middle" fill="#231f20" >0.2</text>
<text x="51.20" y="241.15" font-size="9" text-anchor="end" fill="#231f20" >0.10</text>
<text x="51.20" y="280.40" font-size="9" text-anchor="end" fill="#231f20" >0</text>
<text x="51.20" y="319.65" font-size="9" text-anchor="end" fill="#231f20" >–0.10</text>
<text x="123.90" y="195.10" font-size="9" text-anchor="middle" fill="#231f20" ><tspan font-style="italic">MSH3</tspan> locus</text>
<line x1="218.50" y1="200.00" x2="218.50" y2="328.80" stroke="#8a8a8a" stroke-width="1" />
<line x1="218.50" y1="328.80" x2="368.00" y2="328.80" stroke="#8a8a8a" stroke-width="1" />
<line x1="215.30" y1="238.05" x2="218.50" y2="238.05" stroke="#777" stroke-width="1" />
<line x1="215.30" y1="277.30" x2="218.50" y2="277.30" stroke="#777" stroke-width="1" />
<line x1="215.30" y1="316.55" x2="218.50" y2="316.55" stroke="#777" stroke-width="1" />
<line x1="245.40" y1="328.80" x2="245.40" y2="332.00" stroke="#777" stroke-width="1" />
<line x1="284.20" y1="328.80" x2="284.20" y2="332.00" stroke="#777" stroke-width="1" />
<line x1="323.00" y1="328.80" x2="323.00" y2="332.00" stroke="#777" stroke-width="1" />
<line x1="361.80" y1="328.80" x2="361.80" y2="332.00" stroke="#777" stroke-width="1" />
<text x="245.40" y="343.70" font-size="9" text-anchor="middle" fill="#231f20" >–0.1</text>
<text x="284.20" y="343.70" font-size="9" text-anchor="middle" fill="#231f20" >0</text>
<text x="323.00" y="343.70" font-size="9" text-anchor="middle" fill="#231f20" >0.1</text>
<text x="361.80" y="343.70" font-size="9" text-anchor="middle" fill="#231f20" >0.2</text>
<text x="284.20" y="195.10" font-size="9" text-anchor="middle" fill="#231f20" ><tspan font-style="italic">PMS2</tspan> locus</text>
<line x1="378.75" y1="200.00" x2="378.75" y2="328.80" stroke="#8a8a8a" stroke-width="1" />
<line x1="378.75" y1="328.80" x2="528.20" y2="328.80" stroke="#8a8a8a" stroke-width="1" />
<line x1="375.55" y1="238.05" x2="378.75" y2="238.05" stroke="#777" stroke-width="1" />
<line x1="375.55" y1="277.30" x2="378.75" y2="277.30" stroke="#777" stroke-width="1" />
<line x1="375.55" y1="316.55" x2="378.75" y2="316.55" stroke="#777" stroke-width="1" />
<line x1="405.60" y1="328.80" x2="405.60" y2="332.00" stroke="#777" stroke-width="1" />
<line x1="444.40" y1="328.80" x2="444.40" y2="332.00" stroke="#777" stroke-width="1" />
<line x1="483.20" y1="328.80" x2="483.20" y2="332.00" stroke="#777" stroke-width="1" />
<line x1="522.00" y1="328.80" x2="522.00" y2="332.00" stroke="#777" stroke-width="1" />
<text x="405.60" y="343.70" font-size="9" text-anchor="middle" fill="#231f20" >–0.1</text>
<text x="444.40" y="343.70" font-size="9" text-anchor="middle" fill="#231f20" >0</text>
<text x="483.20" y="343.70" font-size="9" text-anchor="middle" fill="#231f20" >0.1</text>
<text x="522.00" y="343.70" font-size="9" text-anchor="middle" fill="#231f20" >0.2</text>
<text x="444.40" y="195.10" font-size="9" text-anchor="middle" fill="#231f20" ><tspan font-style="italic">FAN1</tspan> locus</text>
<line x1="536.00" y1="200.00" x2="536.00" y2="328.80" stroke="#8a8a8a" stroke-width="1" />
<line x1="536.00" y1="328.80" x2="685.10" y2="328.80" stroke="#8a8a8a" stroke-width="1" />
<line x1="532.80" y1="238.05" x2="536.00" y2="238.05" stroke="#777" stroke-width="1" />
<line x1="532.80" y1="277.30" x2="536.00" y2="277.30" stroke="#777" stroke-width="1" />
<line x1="532.80" y1="316.55" x2="536.00" y2="316.55" stroke="#777" stroke-width="1" />
<line x1="562.50" y1="328.80" x2="562.50" y2="332.00" stroke="#777" stroke-width="1" />
<line x1="601.30" y1="328.80" x2="601.30" y2="332.00" stroke="#777" stroke-width="1" />
<line x1="640.10" y1="328.80" x2="640.10" y2="332.00" stroke="#777" stroke-width="1" />
<line x1="678.90" y1="328.80" x2="678.90" y2="332.00" stroke="#777" stroke-width="1" />
<text x="562.50" y="343.70" font-size="9" text-anchor="middle" fill="#231f20" >–0.1</text>
<text x="601.30" y="343.70" font-size="9" text-anchor="middle" fill="#231f20" >0</text>
<text x="640.10" y="343.70" font-size="9" text-anchor="middle" fill="#231f20" >0.1</text>
<text x="678.90" y="343.70" font-size="9" text-anchor="middle" fill="#231f20" >0.2</text>
<text x="601.30" y="195.10" font-size="9" text-anchor="middle" fill="#231f20" ><tspan font-style="italic">ATAD5</tspan> locus</text>
<text transform="translate(9.9,263.5) rotate(-90)" font-size="9" text-anchor="middle" fill="#231f20">Effect size (SER)</text>
<text transform="translate(20.6,265.3) rotate(-90)" font-size="9" text-anchor="middle" fill="#231f20"><tspan font-style="italic">HTT</tspan> expansion in blood</text>
<text x="366.50" y="358.60" font-size="9" text-anchor="middle" fill="#231f20" textLength="166" lengthAdjust="spacingAndGlyphs">Effect size (s.d.), <tspan font-style="italic">TCF4</tspan> expansion in blood</text>
<g fill="#a5a5a5" fill-opacity="0.5">
<circle cx="137.7" cy="287.2" r="1.5"/>
<circle cx="126.1" cy="275.3" r="1.5"/>
<circle cx="115.1" cy="281.5" r="1.5"/>
<circle cx="115.8" cy="272.5" r="1.5"/>
<circle cx="127.4" cy="280.6" r="1.5"/>
<circle cx="130.7" cy="273.8" r="1.5"/>
<circle cx="125.5" cy="279.6" r="1.5"/>
<circle cx="111.2" cy="285.1" r="1.5"/>
<circle cx="128.5" cy="294.1" r="1.5"/>
<circle cx="127.4" cy="278.9" r="1.5"/>
<circle cx="137.2" cy="279.7" r="1.5"/>
<circle cx="134.1" cy="276.7" r="1.5"/>
<circle cx="127.6" cy="286.0" r="1.5"/>
<circle cx="132.1" cy="279.9" r="1.5"/>
<circle cx="115.2" cy="284.0" r="1.5"/>
<circle cx="126.2" cy="284.3" r="1.5"/>
<circle cx="127.6" cy="286.3" r="1.5"/>
<circle cx="125.0" cy="281.3" r="1.5"/>
<circle cx="131.8" cy="272.6" r="1.5"/>
<circle cx="121.7" cy="277.5" r="1.5"/>
<circle cx="144.3" cy="277.0" r="1.5"/>
<circle cx="131.7" cy="283.0" r="1.5"/>
<circle cx="122.8" cy="270.9" r="1.5"/>
<circle cx="134.7" cy="276.3" r="1.5"/>
<circle cx="132.3" cy="271.2" r="1.5"/>
<circle cx="121.3" cy="288.2" r="1.5"/>
<circle cx="139.1" cy="270.3" r="1.5"/>
<circle cx="112.8" cy="281.4" r="1.5"/>
<circle cx="132.4" cy="280.1" r="1.5"/>
<circle cx="128.4" cy="273.6" r="1.5"/>
<circle cx="131.1" cy="286.1" r="1.5"/>
<circle cx="121.4" cy="271.8" r="1.5"/>
<circle cx="118.3" cy="285.6" r="1.5"/>
<circle cx="109.0" cy="281.6" r="1.5"/>
<circle cx="116.1" cy="280.4" r="1.5"/>
<circle cx="123.2" cy="280.4" r="1.5"/>
<circle cx="139.8" cy="280.7" r="1.5"/>
<circle cx="138.2" cy="277.5" r="1.5"/>
<circle cx="120.9" cy="282.9" r="1.5"/>
<circle cx="98.6" cy="283.3" r="1.5"/>
<circle cx="127.0" cy="272.3" r="1.5"/>
<circle cx="129.9" cy="276.0" r="1.5"/>
<circle cx="102.1" cy="281.8" r="1.5"/>
<circle cx="116.2" cy="278.1" r="1.5"/>
<circle cx="124.1" cy="287.8" r="1.5"/>
<circle cx="126.5" cy="279.7" r="1.5"/>
<circle cx="129.2" cy="268.5" r="1.5"/>
<circle cx="137.3" cy="271.9" r="1.5"/>
<circle cx="129.7" cy="272.6" r="1.5"/>
<circle cx="116.2" cy="278.8" r="1.5"/>
<circle cx="143.5" cy="281.9" r="1.5"/>
<circle cx="119.8" cy="279.0" r="1.5"/>
<circle cx="114.6" cy="281.2" r="1.5"/>
<circle cx="120.1" cy="285.1" r="1.5"/>
<circle cx="112.6" cy="279.6" r="1.5"/>
<circle cx="117.5" cy="276.7" r="1.5"/>
<circle cx="132.3" cy="279.9" r="1.5"/>
<circle cx="131.1" cy="286.5" r="1.5"/>
<circle cx="136.4" cy="270.2" r="1.5"/>
<circle cx="130.6" cy="268.6" r="1.5"/>
<circle cx="124.9" cy="291.7" r="1.5"/>
<circle cx="123.7" cy="278.0" r="1.5"/>
<circle cx="127.1" cy="279.9" r="1.5"/>
<circle cx="125.8" cy="275.4" r="1.5"/>
<circle cx="135.8" cy="284.1" r="1.5"/>
<circle cx="123.5" cy="282.2" r="1.5"/>
<circle cx="131.8" cy="285.5" r="1.5"/>
<circle cx="129.2" cy="283.7" r="1.5"/>
<circle cx="123.0" cy="273.8" r="1.5"/>
<circle cx="120.8" cy="286.8" r="1.5"/>
<circle cx="134.8" cy="279.7" r="1.5"/>
<circle cx="120.1" cy="282.6" r="1.5"/>
<circle cx="141.3" cy="286.2" r="1.5"/>
<circle cx="119.0" cy="280.6" r="1.5"/>
<circle cx="111.7" cy="274.9" r="1.5"/>
<circle cx="127.3" cy="279.9" r="1.5"/>
<circle cx="134.7" cy="286.5" r="1.5"/>
<circle cx="133.4" cy="287.0" r="1.5"/>
<circle cx="120.3" cy="273.8" r="1.5"/>
<circle cx="130.3" cy="295.7" r="1.5"/>
<circle cx="128.9" cy="272.6" r="1.5"/>
<circle cx="127.8" cy="288.4" r="1.5"/>
<circle cx="115.7" cy="286.2" r="1.5"/>
<circle cx="119.7" cy="288.5" r="1.5"/>
<circle cx="133.0" cy="280.9" r="1.5"/>
<circle cx="144.5" cy="275.0" r="1.5"/>
<circle cx="119.0" cy="292.1" r="1.5"/>
<circle cx="117.2" cy="294.4" r="1.5"/>
<circle cx="125.1" cy="273.8" r="1.5"/>
<circle cx="125.5" cy="280.8" r="1.5"/>
<circle cx="127.4" cy="278.6" r="1.5"/>
<circle cx="135.8" cy="264.6" r="1.5"/>
<circle cx="120.2" cy="279.1" r="1.5"/>
<circle cx="142.8" cy="265.6" r="1.5"/>
<circle cx="122.3" cy="273.5" r="1.5"/>
<circle cx="119.2" cy="284.7" r="1.5"/>
<circle cx="129.4" cy="288.2" r="1.5"/>
<circle cx="119.8" cy="282.4" r="1.5"/>
<circle cx="136.6" cy="284.0" r="1.5"/>
<circle cx="122.3" cy="287.3" r="1.5"/>
<circle cx="116.7" cy="292.1" r="1.5"/>
<circle cx="127.0" cy="279.1" r="1.5"/>
<circle cx="128.1" cy="284.8" r="1.5"/>
<circle cx="142.0" cy="277.0" r="1.5"/>
<circle cx="122.0" cy="284.0" r="1.5"/>
<circle cx="117.2" cy="270.8" r="1.5"/>
<circle cx="133.4" cy="276.7" r="1.5"/>
<circle cx="136.2" cy="272.4" r="1.5"/>
<circle cx="98.0" cy="285.3" r="1.5"/>
<circle cx="127.0" cy="289.5" r="1.5"/>
<circle cx="130.5" cy="281.2" r="1.5"/>
<circle cx="131.1" cy="277.0" r="1.5"/>
<circle cx="126.2" cy="271.7" r="1.5"/>
<circle cx="130.4" cy="274.5" r="1.5"/>
<circle cx="121.3" cy="284.8" r="1.5"/>
<circle cx="134.2" cy="272.7" r="1.5"/>
<circle cx="144.5" cy="273.9" r="1.5"/>
<circle cx="133.4" cy="284.7" r="1.5"/>
<circle cx="127.6" cy="280.8" r="1.5"/>
<circle cx="142.6" cy="283.2" r="1.5"/>
<circle cx="129.7" cy="268.4" r="1.5"/>
<circle cx="118.4" cy="288.0" r="1.5"/>
<circle cx="127.3" cy="274.0" r="1.5"/>
<circle cx="119.4" cy="278.9" r="1.5"/>
<circle cx="132.0" cy="281.5" r="1.5"/>
<circle cx="135.0" cy="273.8" r="1.5"/>
<circle cx="134.9" cy="275.7" r="1.5"/>
<circle cx="122.7" cy="290.9" r="1.5"/>
<circle cx="126.2" cy="279.1" r="1.5"/>
<circle cx="123.5" cy="277.9" r="1.5"/>
<circle cx="140.3" cy="286.4" r="1.5"/>
<circle cx="132.3" cy="280.2" r="1.5"/>
<circle cx="135.4" cy="278.2" r="1.5"/>
<circle cx="129.8" cy="281.9" r="1.5"/>
<circle cx="126.3" cy="289.9" r="1.5"/>
<circle cx="142.2" cy="285.9" r="1.5"/>
<circle cx="107.3" cy="293.5" r="1.5"/>
<circle cx="132.2" cy="276.4" r="1.5"/>
<circle cx="125.3" cy="286.9" r="1.5"/>
<circle cx="136.7" cy="283.7" r="1.5"/>
<circle cx="126.8" cy="280.0" r="1.5"/>
<circle cx="133.4" cy="278.4" r="1.5"/>
<circle cx="117.0" cy="277.3" r="1.5"/>
<circle cx="124.2" cy="282.2" r="1.5"/>
<circle cx="147.0" cy="268.9" r="1.5"/>
<circle cx="130.0" cy="278.9" r="1.5"/>
<circle cx="128.4" cy="287.9" r="1.5"/>
<circle cx="137.3" cy="277.5" r="1.5"/>
<circle cx="120.2" cy="272.4" r="1.5"/>
<circle cx="124.8" cy="287.7" r="1.5"/>
<circle cx="123.0" cy="284.6" r="1.5"/>
<circle cx="132.2" cy="281.5" r="1.5"/>
<circle cx="135.8" cy="278.0" r="1.5"/>
<circle cx="117.6" cy="273.9" r="1.5"/>
<circle cx="134.3" cy="276.7" r="1.5"/>
<circle cx="122.5" cy="285.5" r="1.5"/>
<circle cx="118.0" cy="291.7" r="1.5"/>
<circle cx="131.8" cy="276.0" r="1.5"/>
<circle cx="119.5" cy="287.4" r="1.5"/>
<circle cx="114.3" cy="277.6" r="1.5"/>
<circle cx="125.6" cy="281.2" r="1.5"/>
<circle cx="125.6" cy="282.3" r="1.5"/>
<circle cx="122.0" cy="279.7" r="1.5"/>
<circle cx="137.5" cy="282.4" r="1.5"/>
<circle cx="121.2" cy="291.0" r="1.5"/>
<circle cx="106.6" cy="283.0" r="1.5"/>
<circle cx="131.8" cy="285.1" r="1.5"/>
<circle cx="126.6" cy="277.5" r="1.5"/>
<circle cx="131.1" cy="278.1" r="1.5"/>
<circle cx="130.0" cy="262.1" r="1.5"/>
<circle cx="129.1" cy="274.7" r="1.5"/>
<circle cx="134.4" cy="283.4" r="1.5"/>
<circle cx="132.4" cy="276.6" r="1.5"/>
<circle cx="129.6" cy="277.4" r="1.5"/>
<circle cx="127.5" cy="278.9" r="1.5"/>
<circle cx="117.2" cy="293.1" r="1.5"/>
<circle cx="132.4" cy="266.6" r="1.5"/>
<circle cx="134.0" cy="270.4" r="1.5"/>
<circle cx="123.3" cy="276.8" r="1.5"/>
<circle cx="120.4" cy="282.1" r="1.5"/>
<circle cx="122.4" cy="271.6" r="1.5"/>
<circle cx="125.4" cy="282.2" r="1.5"/>
<circle cx="142.3" cy="275.3" r="1.5"/>
<circle cx="114.2" cy="279.2" r="1.5"/>
<circle cx="131.7" cy="273.8" r="1.5"/>
<circle cx="118.7" cy="284.3" r="1.5"/>
<circle cx="125.4" cy="281.4" r="1.5"/>
<circle cx="119.5" cy="275.8" r="1.5"/>
<circle cx="122.4" cy="279.5" r="1.5"/>
<circle cx="122.3" cy="283.0" r="1.5"/>
<circle cx="130.7" cy="282.7" r="1.5"/>
<circle cx="130.1" cy="274.0" r="1.5"/>
<circle cx="114.9" cy="286.3" r="1.5"/>
<circle cx="125.6" cy="280.7" r="1.5"/>
<circle cx="114.5" cy="280.2" r="1.5"/>
<circle cx="119.4" cy="275.5" r="1.5"/>
<circle cx="119.5" cy="271.7" r="1.5"/>
<circle cx="126.3" cy="287.0" r="1.5"/>
<circle cx="118.8" cy="281.5" r="1.5"/>
<circle cx="115.1" cy="285.4" r="1.5"/>
<circle cx="143.2" cy="270.2" r="1.5"/>
<circle cx="123.3" cy="288.9" r="1.5"/>
<circle cx="129.0" cy="280.2" r="1.5"/>
<circle cx="106.1" cy="281.6" r="1.5"/>
<circle cx="134.2" cy="287.6" r="1.5"/>
<circle cx="131.6" cy="275.7" r="1.5"/>
<circle cx="119.0" cy="269.8" r="1.5"/>
<circle cx="115.3" cy="288.2" r="1.5"/>
<circle cx="124.4" cy="272.0" r="1.5"/>
<circle cx="138.0" cy="268.2" r="1.5"/>
<circle cx="137.5" cy="276.5" r="1.5"/>
<circle cx="128.7" cy="283.7" r="1.5"/>
<circle cx="128.0" cy="287.4" r="1.5"/>
<circle cx="125.7" cy="278.0" r="1.5"/>
<circle cx="119.2" cy="272.0" r="1.5"/>
<circle cx="118.9" cy="286.8" r="1.5"/>
<circle cx="133.3" cy="287.4" r="1.5"/>
<circle cx="151.4" cy="281.0" r="1.5"/>
<circle cx="130.3" cy="271.4" r="1.5"/>
<circle cx="123.2" cy="293.6" r="1.5"/>
<circle cx="130.5" cy="278.5" r="1.5"/>
<circle cx="128.4" cy="268.1" r="1.5"/>
<circle cx="117.6" cy="273.1" r="1.5"/>
<circle cx="105.2" cy="287.3" r="1.5"/>
<circle cx="134.7" cy="277.7" r="1.5"/>
<circle cx="128.8" cy="273.5" r="1.5"/>
<circle cx="129.8" cy="284.1" r="1.5"/>
<circle cx="140.1" cy="287.6" r="1.5"/>
<circle cx="130.1" cy="278.6" r="1.5"/>
<circle cx="117.7" cy="277.3" r="1.5"/>
<circle cx="131.4" cy="282.7" r="1.5"/>
<circle cx="125.7" cy="290.1" r="1.5"/>
<circle cx="131.7" cy="279.3" r="1.5"/>
<circle cx="123.7" cy="280.7" r="1.5"/>
<circle cx="116.5" cy="275.2" r="1.5"/>
<circle cx="128.8" cy="276.0" r="1.5"/>
<circle cx="122.9" cy="287.8" r="1.5"/>
<circle cx="123.7" cy="288.2" r="1.5"/>
<circle cx="125.4" cy="289.2" r="1.5"/>
<circle cx="129.9" cy="268.7" r="1.5"/>
<circle cx="137.3" cy="277.2" r="1.5"/>
<circle cx="106.8" cy="283.1" r="1.5"/>
<circle cx="127.0" cy="272.0" r="1.5"/>
<circle cx="119.7" cy="284.1" r="1.5"/>
<circle cx="138.9" cy="285.2" r="1.5"/>
<circle cx="137.1" cy="285.3" r="1.5"/>
<circle cx="101.9" cy="278.7" r="1.5"/>
<circle cx="127.3" cy="263.4" r="1.5"/>
<circle cx="132.8" cy="284.5" r="1.5"/>
<circle cx="118.1" cy="278.7" r="1.5"/>
<circle cx="116.6" cy="281.1" r="1.5"/>
<circle cx="125.1" cy="280.0" r="1.5"/>
<circle cx="115.8" cy="283.6" r="1.5"/>
<circle cx="122.3" cy="286.2" r="1.5"/>
<circle cx="128.5" cy="270.6" r="1.5"/>
<circle cx="111.8" cy="282.2" r="1.5"/>
<circle cx="120.9" cy="283.5" r="1.5"/>
<circle cx="133.2" cy="279.1" r="1.5"/>
<circle cx="109.5" cy="274.8" r="1.5"/>
<circle cx="130.9" cy="272.9" r="1.5"/>
<circle cx="136.0" cy="278.1" r="1.5"/>
<circle cx="130.4" cy="274.0" r="1.5"/>
<circle cx="124.6" cy="262.1" r="1.5"/>
<circle cx="123.5" cy="283.7" r="1.5"/>
<circle cx="117.0" cy="276.0" r="1.5"/>
<circle cx="125.0" cy="280.5" r="1.5"/>
<circle cx="117.8" cy="285.1" r="1.5"/>
<circle cx="109.9" cy="288.8" r="1.5"/>
<circle cx="112.2" cy="276.7" r="1.5"/>
<circle cx="138.2" cy="272.3" r="1.5"/>
<circle cx="109.8" cy="282.5" r="1.5"/>
<circle cx="116.8" cy="274.4" r="1.5"/>
<circle cx="118.8" cy="276.4" r="1.5"/>
<circle cx="116.2" cy="275.0" r="1.5"/>
<circle cx="140.8" cy="273.9" r="1.5"/>
<circle cx="134.7" cy="270.3" r="1.5"/>
<circle cx="130.7" cy="271.7" r="1.5"/>
<circle cx="121.1" cy="284.4" r="1.5"/>
<circle cx="120.5" cy="268.7" r="1.5"/>
<circle cx="120.3" cy="279.7" r="1.5"/>
<circle cx="130.9" cy="273.2" r="1.5"/>
<circle cx="122.7" cy="280.7" r="1.5"/>
<circle cx="109.8" cy="281.4" r="1.5"/>
<circle cx="117.6" cy="283.7" r="1.5"/>
<circle cx="124.5" cy="279.1" r="1.5"/>
<circle cx="102.6" cy="282.3" r="1.5"/>
<circle cx="122.0" cy="274.7" r="1.5"/>
<circle cx="120.7" cy="273.0" r="1.5"/>
<circle cx="127.2" cy="283.8" r="1.5"/>
<circle cx="131.2" cy="276.1" r="1.5"/>
<circle cx="141.5" cy="283.1" r="1.5"/>
<circle cx="116.5" cy="280.3" r="1.5"/>
<circle cx="110.0" cy="281.3" r="1.5"/>
<circle cx="132.3" cy="286.8" r="1.5"/>
<circle cx="121.5" cy="269.7" r="1.5"/>
<circle cx="123.9" cy="288.5" r="1.5"/>
<circle cx="126.9" cy="287.6" r="1.5"/>
<circle cx="133.4" cy="288.5" r="1.5"/>
<circle cx="131.2" cy="275.2" r="1.5"/>
<circle cx="129.7" cy="294.9" r="1.5"/>
<circle cx="120.6" cy="269.4" r="1.5"/>
<circle cx="145.5" cy="279.9" r="1.5"/>
<circle cx="119.5" cy="277.1" r="1.5"/>
<circle cx="110.9" cy="286.2" r="1.5"/>
<circle cx="126.9" cy="276.0" r="1.5"/>
<circle cx="121.5" cy="277.9" r="1.5"/>
<circle cx="135.6" cy="277.6" r="1.5"/>
<circle cx="138.6" cy="273.2" r="1.5"/>
<circle cx="119.7" cy="277.8" r="1.5"/>
<circle cx="120.4" cy="280.1" r="1.5"/>
<circle cx="135.2" cy="286.1" r="1.5"/>
<circle cx="115.3" cy="289.1" r="1.5"/>
<circle cx="126.4" cy="289.5" r="1.5"/>
<circle cx="123.9" cy="275.1" r="1.5"/>
<circle cx="133.0" cy="282.8" r="1.5"/>
<circle cx="121.1" cy="280.7" r="1.5"/>
<circle cx="126.7" cy="281.7" r="1.5"/>
<circle cx="109.2" cy="274.8" r="1.5"/>
<circle cx="126.0" cy="281.5" r="1.5"/>
<circle cx="120.5" cy="270.0" r="1.5"/>
<circle cx="138.3" cy="276.5" r="1.5"/>
<circle cx="115.6" cy="291.0" r="1.5"/>
<circle cx="136.3" cy="284.9" r="1.5"/>
<circle cx="133.4" cy="282.4" r="1.5"/>
<circle cx="116.2" cy="281.4" r="1.5"/>
<circle cx="128.9" cy="283.4" r="1.5"/>
<circle cx="130.0" cy="273.3" r="1.5"/>
<circle cx="119.8" cy="278.7" r="1.5"/>
<circle cx="123.6" cy="274.9" r="1.5"/>
<circle cx="108.2" cy="274.9" r="1.5"/>
<circle cx="128.4" cy="279.6" r="1.5"/>
<circle cx="131.0" cy="267.8" r="1.5"/>
<circle cx="121.5" cy="285.9" r="1.5"/>
<circle cx="106.9" cy="275.9" r="1.5"/>
<circle cx="109.7" cy="289.4" r="1.5"/>
<circle cx="125.8" cy="276.5" r="1.5"/>
<circle cx="126.9" cy="279.3" r="1.5"/>
<circle cx="134.1" cy="286.0" r="1.5"/>
<circle cx="134.2" cy="281.0" r="1.5"/>
<circle cx="132.8" cy="284.0" r="1.5"/>
<circle cx="136.6" cy="267.4" r="1.5"/>
<circle cx="128.8" cy="280.0" r="1.5"/>
<circle cx="127.0" cy="278.3" r="1.5"/>
<circle cx="124.8" cy="283.1" r="1.5"/>
<circle cx="127.4" cy="280.5" r="1.5"/>
<circle cx="115.3" cy="273.7" r="1.5"/>
<circle cx="118.4" cy="270.1" r="1.5"/>
<circle cx="120.6" cy="275.5" r="1.5"/>
<circle cx="108.4" cy="270.4" r="1.5"/>
<circle cx="121.0" cy="277.1" r="1.5"/>
<circle cx="146.2" cy="282.6" r="1.5"/>
<circle cx="118.1" cy="277.9" r="1.5"/>
<circle cx="115.9" cy="276.5" r="1.5"/>
<circle cx="122.2" cy="280.1" r="1.5"/>
<circle cx="119.6" cy="285.8" r="1.5"/>
<circle cx="131.6" cy="291.1" r="1.5"/>
<circle cx="113.1" cy="285.7" r="1.5"/>
<circle cx="121.9" cy="270.7" r="1.5"/>
<circle cx="122.6" cy="270.4" r="1.5"/>
<circle cx="125.2" cy="296.7" r="1.5"/>
<circle cx="137.9" cy="289.4" r="1.5"/>
<circle cx="136.8" cy="269.1" r="1.5"/>
<circle cx="129.4" cy="280.4" r="1.5"/>
<circle cx="129.6" cy="273.2" r="1.5"/>
<circle cx="106.7" cy="295.2" r="1.5"/>
<circle cx="136.8" cy="280.4" r="1.5"/>
<circle cx="120.8" cy="281.7" r="1.5"/>
<circle cx="113.7" cy="287.4" r="1.5"/>
<circle cx="127.1" cy="278.9" r="1.5"/>
<circle cx="121.4" cy="280.1" r="1.5"/>
<circle cx="126.8" cy="277.4" r="1.5"/>
<circle cx="134.6" cy="280.1" r="1.5"/>
<circle cx="124.6" cy="274.9" r="1.5"/>
<circle cx="137.1" cy="286.4" r="1.5"/>
<circle cx="132.0" cy="267.9" r="1.5"/>
<circle cx="122.2" cy="286.5" r="1.5"/>
<circle cx="125.9" cy="287.7" r="1.5"/>
<circle cx="121.3" cy="285.4" r="1.5"/>
<circle cx="130.5" cy="264.5" r="1.5"/>
<circle cx="121.6" cy="279.1" r="1.5"/>
<circle cx="119.5" cy="275.4" r="1.5"/>
<circle cx="140.6" cy="277.3" r="1.5"/>
<circle cx="133.0" cy="270.9" r="1.5"/>
<circle cx="105.8" cy="279.7" r="1.5"/>
<circle cx="129.4" cy="275.1" r="1.5"/>
<circle cx="130.5" cy="284.2" r="1.5"/>
<circle cx="121.2" cy="280.2" r="1.5"/>
<circle cx="118.5" cy="287.5" r="1.5"/>
<circle cx="142.3" cy="280.8" r="1.5"/>
<circle cx="120.7" cy="276.3" r="1.5"/>
<circle cx="122.9" cy="285.8" r="1.5"/>
<circle cx="118.3" cy="289.9" r="1.5"/>
<circle cx="113.9" cy="281.5" r="1.5"/>
<circle cx="138.0" cy="289.2" r="1.5"/>
<circle cx="121.6" cy="285.3" r="1.5"/>
<circle cx="149.5" cy="284.0" r="1.5"/>
<circle cx="104.7" cy="284.4" r="1.5"/>
<circle cx="148.1" cy="270.0" r="1.5"/>
<circle cx="134.2" cy="266.2" r="1.5"/>
<circle cx="140.6" cy="272.9" r="1.5"/>
<circle cx="133.2" cy="284.5" r="1.5"/>
<circle cx="99.1" cy="274.8" r="1.5"/>
<circle cx="128.6" cy="270.3" r="1.5"/>
<circle cx="125.3" cy="274.3" r="1.5"/>
<circle cx="138.3" cy="275.2" r="1.5"/>
<circle cx="116.8" cy="285.0" r="1.5"/>
<circle cx="137.1" cy="277.5" r="1.5"/>
<circle cx="128.2" cy="282.6" r="1.5"/>
<circle cx="120.8" cy="273.4" r="1.5"/>
<circle cx="130.6" cy="277.2" r="1.5"/>
<circle cx="112.5" cy="286.9" r="1.5"/>
<circle cx="129.6" cy="280.3" r="1.5"/>
<circle cx="118.3" cy="279.6" r="1.5"/>
<circle cx="131.3" cy="282.2" r="1.5"/>
<circle cx="117.7" cy="275.5" r="1.5"/>
<circle cx="128.8" cy="280.7" r="1.5"/>
<circle cx="133.6" cy="271.9" r="1.5"/>
<circle cx="134.3" cy="289.6" r="1.5"/>
<circle cx="134.5" cy="279.6" r="1.5"/>
<circle cx="134.1" cy="271.1" r="1.5"/>
<circle cx="121.3" cy="293.1" r="1.5"/>
<circle cx="110.0" cy="275.0" r="1.5"/>
<circle cx="133.3" cy="275.0" r="1.5"/>
<circle cx="120.1" cy="273.9" r="1.5"/>
<circle cx="141.5" cy="274.2" r="1.5"/>
<circle cx="122.9" cy="269.3" r="1.5"/>
<circle cx="132.8" cy="279.0" r="1.5"/>
<circle cx="130.2" cy="289.0" r="1.5"/>
<circle cx="127.0" cy="272.6" r="1.5"/>
<circle cx="115.9" cy="281.8" r="1.5"/>
<circle cx="138.0" cy="271.1" r="1.5"/>
<circle cx="123.2" cy="279.4" r="1.5"/>
<circle cx="131.7" cy="273.8" r="1.5"/>
<circle cx="128.5" cy="284.4" r="1.5"/>
<circle cx="125.1" cy="279.5" r="1.5"/>
<circle cx="131.4" cy="282.8" r="1.5"/>
<circle cx="137.5" cy="271.9" r="1.5"/>
<circle cx="137.2" cy="277.1" r="1.5"/>
<circle cx="114.7" cy="278.1" r="1.5"/>
<circle cx="113.8" cy="280.3" r="1.5"/>
<circle cx="135.3" cy="265.1" r="1.5"/>
<circle cx="114.3" cy="286.1" r="1.5"/>
<circle cx="122.6" cy="285.2" r="1.5"/>
<circle cx="112.9" cy="281.3" r="1.5"/>
<circle cx="100.7" cy="278.1" r="1.5"/>
<circle cx="132.5" cy="286.5" r="1.5"/>
<circle cx="141.0" cy="277.6" r="1.5"/>
<circle cx="117.2" cy="278.7" r="1.5"/>
<circle cx="107.3" cy="290.6" r="1.5"/>
<circle cx="136.7" cy="273.0" r="1.5"/>
<circle cx="142.9" cy="269.5" r="1.5"/>
<circle cx="130.8" cy="274.4" r="1.5"/>
<circle cx="109.0" cy="284.6" r="1.5"/>
<circle cx="114.5" cy="288.7" r="1.5"/>
<circle cx="117.0" cy="281.8" r="1.5"/>
<circle cx="120.9" cy="281.4" r="1.5"/>
<circle cx="119.5" cy="285.8" r="1.5"/>
<circle cx="131.3" cy="279.7" r="1.5"/>
<circle cx="124.3" cy="292.1" r="1.5"/>
<circle cx="118.9" cy="278.2" r="1.5"/>
<circle cx="132.8" cy="279.0" r="1.5"/>
<circle cx="110.0" cy="281.2" r="1.5"/>
<circle cx="121.8" cy="274.4" r="1.5"/>
<circle cx="127.3" cy="272.9" r="1.5"/>
<circle cx="123.1" cy="273.4" r="1.5"/>
<circle cx="140.3" cy="276.3" r="1.5"/>
<circle cx="129.7" cy="281.2" r="1.5"/>
<circle cx="132.2" cy="278.2" r="1.5"/>
<circle cx="132.7" cy="279.8" r="1.5"/>
<circle cx="102.3" cy="284.9" r="1.5"/>
<circle cx="113.2" cy="287.4" r="1.5"/>
<circle cx="127.6" cy="277.5" r="1.5"/>
<circle cx="101.5" cy="270.1" r="1.5"/>
<circle cx="114.3" cy="279.2" r="1.5"/>
<circle cx="112.4" cy="293.8" r="1.5"/>
<circle cx="129.9" cy="278.9" r="1.5"/>
<circle cx="116.1" cy="279.2" r="1.5"/>
<circle cx="123.2" cy="277.6" r="1.5"/>
<circle cx="124.8" cy="285.0" r="1.5"/>
<circle cx="108.8" cy="283.6" r="1.5"/>
<circle cx="136.0" cy="270.3" r="1.5"/>
<circle cx="123.7" cy="277.9" r="1.5"/>
<circle cx="114.6" cy="287.2" r="1.5"/>
<circle cx="122.4" cy="287.4" r="1.5"/>
<circle cx="129.4" cy="277.8" r="1.5"/>
<circle cx="128.2" cy="277.4" r="1.5"/>
<circle cx="109.9" cy="290.7" r="1.5"/>
<circle cx="129.0" cy="286.6" r="1.5"/>
<circle cx="108.3" cy="288.6" r="1.5"/>
<circle cx="133.3" cy="278.7" r="1.5"/>
<circle cx="105.4" cy="283.2" r="1.5"/>
<circle cx="119.2" cy="279.7" r="1.5"/>
<circle cx="126.0" cy="274.4" r="1.5"/>
<circle cx="124.3" cy="280.2" r="1.5"/>
<circle cx="139.4" cy="277.6" r="1.5"/>
<circle cx="147.8" cy="269.9" r="1.5"/>
<circle cx="124.2" cy="287.7" r="1.5"/>
<circle cx="110.6" cy="285.7" r="1.5"/>
<circle cx="129.3" cy="275.9" r="1.5"/>
<circle cx="123.2" cy="289.7" r="1.5"/>
<circle cx="121.2" cy="282.2" r="1.5"/>
<circle cx="129.6" cy="286.8" r="1.5"/>
<circle cx="105.9" cy="273.6" r="1.5"/>
<circle cx="112.8" cy="280.0" r="1.5"/>
<circle cx="131.3" cy="284.3" r="1.5"/>
<circle cx="122.8" cy="289.6" r="1.5"/>
<circle cx="124.8" cy="284.3" r="1.5"/>
<circle cx="118.3" cy="286.0" r="1.5"/>
<circle cx="118.7" cy="287.9" r="1.5"/>
<circle cx="133.7" cy="290.3" r="1.5"/>
<circle cx="121.5" cy="273.5" r="1.5"/>
<circle cx="133.4" cy="280.9" r="1.5"/>
<circle cx="120.5" cy="272.5" r="1.5"/>
<circle cx="133.1" cy="267.2" r="1.5"/>
<circle cx="121.1" cy="287.1" r="1.5"/>
<circle cx="123.1" cy="283.1" r="1.5"/>
<circle cx="130.2" cy="283.0" r="1.5"/>
<circle cx="135.6" cy="282.7" r="1.5"/>
<circle cx="121.9" cy="273.0" r="1.5"/>
<circle cx="122.8" cy="276.4" r="1.5"/>
<circle cx="129.3" cy="287.0" r="1.5"/>
<circle cx="132.9" cy="274.8" r="1.5"/>
<circle cx="127.4" cy="279.8" r="1.5"/>
<circle cx="121.0" cy="288.5" r="1.5"/>
<circle cx="131.3" cy="281.4" r="1.5"/>
<circle cx="113.9" cy="265.6" r="1.5"/>
<circle cx="118.5" cy="287.8" r="1.5"/>
<circle cx="123.5" cy="280.1" r="1.5"/>
<circle cx="123.0" cy="283.2" r="1.5"/>
<circle cx="125.4" cy="290.4" r="1.5"/>
<circle cx="124.3" cy="278.6" r="1.5"/>
<circle cx="139.0" cy="282.8" r="1.5"/>
<circle cx="132.1" cy="282.3" r="1.5"/>
<circle cx="125.1" cy="282.0" r="1.5"/>
<circle cx="130.6" cy="280.0" r="1.5"/>
<circle cx="107.7" cy="290.7" r="1.5"/>
<circle cx="120.9" cy="277.1" r="1.5"/>
<circle cx="122.3" cy="276.0" r="1.5"/>
<circle cx="117.2" cy="280.6" r="1.5"/>
<circle cx="133.9" cy="277.1" r="1.5"/>
<circle cx="130.0" cy="271.2" r="1.5"/>
<circle cx="132.7" cy="272.2" r="1.5"/>
<circle cx="132.1" cy="274.6" r="1.5"/>
<circle cx="119.8" cy="273.1" r="1.5"/>
<circle cx="113.4" cy="280.2" r="1.5"/>
<circle cx="116.2" cy="279.9" r="1.5"/>
<circle cx="136.3" cy="273.5" r="1.5"/>
<circle cx="122.5" cy="279.8" r="1.5"/>
<circle cx="119.6" cy="280.6" r="1.5"/>
<circle cx="127.7" cy="286.0" r="1.5"/>
<circle cx="118.6" cy="279.6" r="1.5"/>
<circle cx="124.0" cy="287.6" r="1.5"/>
<circle cx="116.0" cy="282.3" r="1.5"/>
<circle cx="132.8" cy="282.6" r="1.5"/>
<circle cx="118.8" cy="274.6" r="1.5"/>
<circle cx="107.9" cy="279.0" r="1.5"/>
<circle cx="123.1" cy="271.2" r="1.5"/>
<circle cx="133.5" cy="279.9" r="1.5"/>
<circle cx="123.2" cy="277.1" r="1.5"/>
<circle cx="130.0" cy="277.7" r="1.5"/>
<circle cx="130.3" cy="276.5" r="1.5"/>
<circle cx="135.5" cy="268.8" r="1.5"/>
<circle cx="115.3" cy="292.3" r="1.5"/>
<circle cx="135.4" cy="288.7" r="1.5"/>
<circle cx="118.0" cy="285.4" r="1.5"/>
<circle cx="135.0" cy="284.3" r="1.5"/>
<circle cx="123.8" cy="289.2" r="1.5"/>
<circle cx="129.4" cy="271.6" r="1.5"/>
<circle cx="148.9" cy="277.7" r="1.5"/>
<circle cx="137.4" cy="274.2" r="1.5"/>
<circle cx="116.6" cy="286.5" r="1.5"/>
<circle cx="133.3" cy="274.5" r="1.5"/>
<circle cx="127.8" cy="271.6" r="1.5"/>
<circle cx="106.0" cy="289.2" r="1.5"/>
<circle cx="114.6" cy="285.9" r="1.5"/>
<circle cx="135.6" cy="280.9" r="1.5"/>
<circle cx="139.9" cy="280.3" r="1.5"/>
<circle cx="128.3" cy="279.6" r="1.5"/>
<circle cx="129.5" cy="281.6" r="1.5"/>
<circle cx="116.6" cy="280.9" r="1.5"/>
<circle cx="121.9" cy="297.7" r="1.5"/>
<circle cx="137.2" cy="273.7" r="1.5"/>
<circle cx="131.2" cy="268.6" r="1.5"/>
<circle cx="126.0" cy="291.0" r="1.5"/>
<circle cx="126.3" cy="287.7" r="1.5"/>
<circle cx="122.0" cy="283.2" r="1.5"/>
<circle cx="129.1" cy="266.2" r="1.5"/>
<circle cx="117.9" cy="292.5" r="1.5"/>
<circle cx="117.6" cy="288.3" r="1.5"/>
<circle cx="141.8" cy="277.6" r="1.5"/>
<circle cx="135.0" cy="281.0" r="1.5"/>
<circle cx="119.8" cy="284.3" r="1.5"/>
<circle cx="129.6" cy="273.5" r="1.5"/>
<circle cx="121.3" cy="272.4" r="1.5"/>
<circle cx="122.3" cy="280.2" r="1.5"/>
<circle cx="116.2" cy="269.9" r="1.5"/>
<circle cx="131.9" cy="286.9" r="1.5"/>
<circle cx="116.9" cy="281.6" r="1.5"/>
<circle cx="119.1" cy="264.8" r="1.5"/>
<circle cx="145.6" cy="279.1" r="1.5"/>
<circle cx="112.1" cy="289.5" r="1.5"/>
<circle cx="132.4" cy="287.7" r="1.5"/>
<circle cx="132.5" cy="282.3" r="1.5"/>
<circle cx="139.1" cy="276.5" r="1.5"/>
<circle cx="127.8" cy="273.1" r="1.5"/>
<circle cx="114.6" cy="282.7" r="1.5"/>
<circle cx="127.7" cy="270.1" r="1.5"/>
<circle cx="129.0" cy="285.7" r="1.5"/>
<circle cx="113.6" cy="279.5" r="1.5"/>
<circle cx="141.8" cy="272.7" r="1.5"/>
<circle cx="130.9" cy="284.1" r="1.5"/>
<circle cx="127.2" cy="280.7" r="1.5"/>
<circle cx="130.9" cy="281.0" r="1.5"/>
<circle cx="126.9" cy="270.8" r="1.5"/>
<circle cx="127.8" cy="274.9" r="1.5"/>
<circle cx="139.7" cy="291.6" r="1.5"/>
<circle cx="136.1" cy="265.6" r="1.5"/>
<circle cx="135.0" cy="279.5" r="1.5"/>
<circle cx="115.2" cy="274.0" r="1.5"/>
<circle cx="135.6" cy="274.7" r="1.5"/>
<circle cx="124.7" cy="280.5" r="1.5"/>
<circle cx="134.5" cy="262.6" r="1.5"/>
<circle cx="137.2" cy="273.5" r="1.5"/>
<circle cx="121.6" cy="284.3" r="1.5"/>
<circle cx="129.0" cy="265.5" r="1.5"/>
<circle cx="131.2" cy="278.3" r="1.5"/>
<circle cx="115.7" cy="277.6" r="1.5"/>
<circle cx="110.3" cy="286.7" r="1.5"/>
<circle cx="139.5" cy="274.3" r="1.5"/>
<circle cx="121.0" cy="271.7" r="1.5"/>
<circle cx="118.8" cy="274.7" r="1.5"/>
<circle cx="125.7" cy="290.5" r="1.5"/>
<circle cx="135.5" cy="284.6" r="1.5"/>
<circle cx="116.3" cy="286.3" r="1.5"/>
<circle cx="118.7" cy="275.5" r="1.5"/>
<circle cx="132.5" cy="278.5" r="1.5"/>
<circle cx="149.1" cy="278.1" r="1.5"/>
<circle cx="122.6" cy="284.9" r="1.5"/>
<circle cx="114.5" cy="285.6" r="1.5"/>
<circle cx="140.3" cy="277.2" r="1.5"/>
<circle cx="120.6" cy="287.5" r="1.5"/>
<circle cx="114.9" cy="283.7" r="1.5"/>
<circle cx="120.5" cy="282.5" r="1.5"/>
<circle cx="118.0" cy="284.7" r="1.5"/>
<circle cx="130.8" cy="290.0" r="1.5"/>
<circle cx="122.0" cy="283.1" r="1.5"/>
<circle cx="108.8" cy="277.4" r="1.5"/>
<circle cx="128.0" cy="271.4" r="1.5"/>
<circle cx="124.5" cy="274.7" r="1.5"/>
<circle cx="130.1" cy="283.0" r="1.5"/>
</g>
<g fill="#a5a5a5" fill-opacity="0.5">
<circle cx="118.5" cy="283.9" r="1.5"/>
<circle cx="144.8" cy="294.5" r="1.5"/>
<circle cx="105.4" cy="273.6" r="1.5"/>
<circle cx="112.1" cy="276.7" r="1.5"/>
<circle cx="124.6" cy="265.5" r="1.5"/>
<circle cx="131.6" cy="263.3" r="1.5"/>
<circle cx="136.2" cy="267.9" r="1.5"/>
<circle cx="132.1" cy="282.0" r="1.5"/>
<circle cx="125.4" cy="272.4" r="1.5"/>
<circle cx="114.4" cy="268.3" r="1.5"/>
<circle cx="153.1" cy="281.0" r="1.5"/>
<circle cx="158.4" cy="278.1" r="1.5"/>
<circle cx="133.0" cy="271.5" r="1.5"/>
<circle cx="123.1" cy="262.8" r="1.5"/>
<circle cx="143.8" cy="286.2" r="1.5"/>
<circle cx="152.2" cy="290.0" r="1.5"/>
<circle cx="110.2" cy="254.7" r="1.5"/>
<circle cx="140.2" cy="279.2" r="1.5"/>
<circle cx="111.0" cy="270.8" r="1.5"/>
<circle cx="140.8" cy="294.9" r="1.5"/>
<circle cx="134.7" cy="270.2" r="1.5"/>
<circle cx="141.4" cy="287.7" r="1.5"/>
<circle cx="107.3" cy="288.4" r="1.5"/>
<circle cx="111.0" cy="280.4" r="1.5"/>
<circle cx="135.5" cy="277.6" r="1.5"/>
<circle cx="102.1" cy="285.2" r="1.5"/>
<circle cx="103.4" cy="288.2" r="1.5"/>
<circle cx="95.1" cy="277.0" r="1.5"/>
<circle cx="119.1" cy="271.8" r="1.5"/>
<circle cx="130.8" cy="280.3" r="1.5"/>
<circle cx="157.9" cy="278.9" r="1.5"/>
<circle cx="145.8" cy="264.1" r="1.5"/>
<circle cx="145.2" cy="284.9" r="1.5"/>
<circle cx="150.3" cy="289.9" r="1.5"/>
<circle cx="112.1" cy="266.4" r="1.5"/>
<circle cx="114.1" cy="273.2" r="1.5"/>
<circle cx="150.7" cy="254.6" r="1.5"/>
<circle cx="127.9" cy="288.4" r="1.5"/>
<circle cx="124.5" cy="263.6" r="1.5"/>
<circle cx="112.2" cy="285.6" r="1.5"/>
<circle cx="139.6" cy="274.8" r="1.5"/>
<circle cx="132.8" cy="291.8" r="1.5"/>
<circle cx="121.2" cy="299.3" r="1.5"/>
<circle cx="110.3" cy="299.9" r="1.5"/>
<circle cx="102.8" cy="295.0" r="1.5"/>
<circle cx="127.2" cy="262.1" r="1.5"/>
<circle cx="129.1" cy="283.5" r="1.5"/>
<circle cx="136.9" cy="278.0" r="1.5"/>
<circle cx="124.1" cy="275.3" r="1.5"/>
<circle cx="128.7" cy="290.4" r="1.5"/>
<circle cx="135.0" cy="284.2" r="1.5"/>
<circle cx="130.3" cy="292.2" r="1.5"/>
<circle cx="167.8" cy="295.9" r="1.5"/>
<circle cx="106.4" cy="271.6" r="1.5"/>
<circle cx="109.2" cy="276.5" r="1.5"/>
<circle cx="160.3" cy="270.0" r="1.5"/>
<circle cx="128.7" cy="275.6" r="1.5"/>
<circle cx="94.7" cy="269.6" r="1.5"/>
<circle cx="114.6" cy="270.6" r="1.5"/>
<circle cx="121.1" cy="273.8" r="1.5"/>
<circle cx="123.1" cy="261.5" r="1.5"/>
<circle cx="144.2" cy="280.9" r="1.5"/>
<circle cx="114.7" cy="274.4" r="1.5"/>
<circle cx="112.0" cy="259.8" r="1.5"/>
<circle cx="138.4" cy="271.9" r="1.5"/>
<circle cx="145.2" cy="291.4" r="1.5"/>
<circle cx="104.0" cy="268.9" r="1.5"/>
<circle cx="135.8" cy="271.1" r="1.5"/>
<circle cx="115.4" cy="275.1" r="1.5"/>
<circle cx="134.2" cy="262.7" r="1.5"/>
<circle cx="128.3" cy="289.3" r="1.5"/>
<circle cx="117.3" cy="275.2" r="1.5"/>
<circle cx="134.5" cy="287.2" r="1.5"/>
<circle cx="143.8" cy="280.9" r="1.5"/>
<circle cx="154.8" cy="267.8" r="1.5"/>
<circle cx="155.2" cy="280.6" r="1.5"/>
<circle cx="121.7" cy="263.6" r="1.5"/>
<circle cx="153.6" cy="277.4" r="1.5"/>
<circle cx="136.7" cy="293.4" r="1.5"/>
<circle cx="120.3" cy="287.3" r="1.5"/>
<circle cx="142.1" cy="293.5" r="1.5"/>
<circle cx="132.7" cy="296.9" r="1.5"/>
<circle cx="118.0" cy="278.6" r="1.5"/>
<circle cx="116.0" cy="269.4" r="1.5"/>
<circle cx="156.4" cy="277.4" r="1.5"/>
<circle cx="126.5" cy="280.2" r="1.5"/>
<circle cx="129.6" cy="262.0" r="1.5"/>
<circle cx="119.3" cy="283.1" r="1.5"/>
<circle cx="106.0" cy="278.4" r="1.5"/>
<circle cx="120.1" cy="268.3" r="1.5"/>
<circle cx="103.7" cy="274.4" r="1.5"/>
<circle cx="130.7" cy="283.3" r="1.5"/>
<circle cx="100.3" cy="282.9" r="1.5"/>
<circle cx="137.2" cy="258.6" r="1.5"/>
<circle cx="103.5" cy="286.7" r="1.5"/>
<circle cx="139.5" cy="282.5" r="1.5"/>
<circle cx="154.8" cy="282.1" r="1.5"/>
<circle cx="150.8" cy="275.0" r="1.5"/>
<circle cx="127.2" cy="268.5" r="1.5"/>
<circle cx="128.9" cy="273.8" r="1.5"/>
<circle cx="116.8" cy="285.9" r="1.5"/>
<circle cx="133.5" cy="272.6" r="1.5"/>
<circle cx="130.7" cy="281.1" r="1.5"/>
<circle cx="134.7" cy="269.9" r="1.5"/>
<circle cx="138.4" cy="271.7" r="1.5"/>
<circle cx="132.5" cy="271.8" r="1.5"/>
<circle cx="162.3" cy="258.4" r="1.5"/>
<circle cx="144.7" cy="265.4" r="1.5"/>
<circle cx="155.2" cy="261.3" r="1.5"/>
<circle cx="139.5" cy="274.7" r="1.5"/>
</g>
<g fill="#a5a5a5" fill-opacity="0.5">
<circle cx="93.0" cy="270.0" r="1.5"/>
<circle cx="91.0" cy="271.5" r="1.5"/>
<circle cx="92.4" cy="283.7" r="1.5"/>
<circle cx="91.0" cy="280.0" r="1.5"/>
<circle cx="94.9" cy="271.9" r="1.5"/>
<circle cx="117.0" cy="256.0" r="1.5"/>
<circle cx="128.0" cy="250.0" r="1.5"/>
<circle cx="131.0" cy="252.0" r="1.5"/>
<circle cx="121.0" cy="262.0" r="1.5"/>
<circle cx="110.0" cy="263.0" r="1.5"/>
<circle cx="140.0" cy="268.0" r="1.5"/>
<circle cx="149.0" cy="274.0" r="1.5"/>
<circle cx="162.0" cy="270.0" r="1.5"/>
<circle cx="155.0" cy="285.0" r="1.5"/>
<circle cx="160.0" cy="296.0" r="1.5"/>
<circle cx="138.0" cy="300.0" r="1.5"/>
<circle cx="148.0" cy="300.0" r="1.5"/>
<circle cx="100.0" cy="289.0" r="1.5"/>
</g>
<g fill="#a5a5a5" fill-opacity="0.5">
<circle cx="308.9" cy="265.3" r="1.5"/>
<circle cx="286.5" cy="278.1" r="1.5"/>
<circle cx="291.6" cy="265.5" r="1.5"/>
<circle cx="277.2" cy="274.6" r="1.5"/>
<circle cx="269.6" cy="276.3" r="1.5"/>
<circle cx="276.1" cy="278.3" r="1.5"/>
<circle cx="271.6" cy="284.8" r="1.5"/>
<circle cx="275.7" cy="257.6" r="1.5"/>
<circle cx="295.7" cy="271.4" r="1.5"/>
<circle cx="273.5" cy="283.1" r="1.5"/>
<circle cx="284.6" cy="278.0" r="1.5"/>
<circle cx="272.2" cy="282.9" r="1.5"/>
<circle cx="264.3" cy="294.3" r="1.5"/>
<circle cx="267.4" cy="281.6" r="1.5"/>
<circle cx="282.2" cy="280.0" r="1.5"/>
<circle cx="279.2" cy="282.8" r="1.5"/>
<circle cx="240.2" cy="289.9" r="1.5"/>
<circle cx="278.7" cy="275.5" r="1.5"/>
<circle cx="298.1" cy="265.6" r="1.5"/>
<circle cx="279.5" cy="263.8" r="1.5"/>
<circle cx="283.6" cy="265.4" r="1.5"/>
<circle cx="262.4" cy="300.6" r="1.5"/>
<circle cx="288.6" cy="275.4" r="1.5"/>
<circle cx="282.5" cy="267.0" r="1.5"/>
<circle cx="268.3" cy="284.9" r="1.5"/>
<circle cx="255.9" cy="287.7" r="1.5"/>
<circle cx="260.3" cy="285.2" r="1.5"/>
<circle cx="267.5" cy="294.8" r="1.5"/>
<circle cx="292.3" cy="270.6" r="1.5"/>
<circle cx="258.4" cy="279.2" r="1.5"/>
<circle cx="279.8" cy="271.0" r="1.5"/>
<circle cx="283.8" cy="284.2" r="1.5"/>
<circle cx="279.8" cy="275.1" r="1.5"/>
<circle cx="289.6" cy="273.0" r="1.5"/>
<circle cx="290.4" cy="272.6" r="1.5"/>
<circle cx="299.4" cy="270.1" r="1.5"/>
<circle cx="268.1" cy="282.6" r="1.5"/>
<circle cx="273.1" cy="273.5" r="1.5"/>
<circle cx="279.0" cy="283.9" r="1.5"/>
<circle cx="255.3" cy="285.6" r="1.5"/>
<circle cx="278.7" cy="277.5" r="1.5"/>
<circle cx="289.9" cy="265.6" r="1.5"/>
<circle cx="288.3" cy="274.0" r="1.5"/>
<circle cx="281.9" cy="276.1" r="1.5"/>
<circle cx="276.7" cy="275.5" r="1.5"/>
<circle cx="285.4" cy="291.9" r="1.5"/>
<circle cx="293.0" cy="280.4" r="1.5"/>
<circle cx="287.2" cy="272.6" r="1.5"/>
<circle cx="287.8" cy="291.0" r="1.5"/>
<circle cx="265.8" cy="288.8" r="1.5"/>
<circle cx="292.7" cy="276.5" r="1.5"/>
<circle cx="290.1" cy="285.4" r="1.5"/>
<circle cx="306.8" cy="279.6" r="1.5"/>
<circle cx="300.4" cy="274.6" r="1.5"/>
<circle cx="290.8" cy="276.5" r="1.5"/>
<circle cx="284.6" cy="273.8" r="1.5"/>
<circle cx="289.1" cy="286.3" r="1.5"/>
<circle cx="279.4" cy="280.7" r="1.5"/>
<circle cx="288.6" cy="276.2" r="1.5"/>
<circle cx="292.3" cy="276.8" r="1.5"/>
<circle cx="267.8" cy="275.1" r="1.5"/>
<circle cx="289.9" cy="280.3" r="1.5"/>
<circle cx="294.3" cy="276.1" r="1.5"/>
<circle cx="283.9" cy="266.2" r="1.5"/>
<circle cx="297.8" cy="266.6" r="1.5"/>
<circle cx="293.7" cy="266.4" r="1.5"/>
<circle cx="273.9" cy="281.9" r="1.5"/>
<circle cx="276.7" cy="274.9" r="1.5"/>
<circle cx="292.0" cy="280.0" r="1.5"/>
<circle cx="286.2" cy="274.5" r="1.5"/>
<circle cx="272.1" cy="278.0" r="1.5"/>
<circle cx="275.6" cy="280.1" r="1.5"/>
<circle cx="290.6" cy="274.4" r="1.5"/>
<circle cx="272.6" cy="276.8" r="1.5"/>
<circle cx="296.6" cy="275.0" r="1.5"/>
<circle cx="284.5" cy="279.6" r="1.5"/>
<circle cx="288.7" cy="277.3" r="1.5"/>
<circle cx="295.5" cy="280.0" r="1.5"/>
<circle cx="249.1" cy="287.7" r="1.5"/>
<circle cx="316.0" cy="258.6" r="1.5"/>
<circle cx="283.4" cy="285.8" r="1.5"/>
<circle cx="281.9" cy="288.1" r="1.5"/>
<circle cx="267.3" cy="274.1" r="1.5"/>
<circle cx="279.8" cy="273.9" r="1.5"/>
<circle cx="269.6" cy="286.5" r="1.5"/>
<circle cx="285.1" cy="277.6" r="1.5"/>
<circle cx="277.3" cy="281.9" r="1.5"/>
<circle cx="280.6" cy="273.7" r="1.5"/>
<circle cx="287.9" cy="279.3" r="1.5"/>
<circle cx="282.9" cy="283.2" r="1.5"/>
<circle cx="269.3" cy="281.5" r="1.5"/>
<circle cx="276.0" cy="289.9" r="1.5"/>
<circle cx="287.9" cy="291.8" r="1.5"/>
<circle cx="300.1" cy="270.2" r="1.5"/>
<circle cx="269.4" cy="285.9" r="1.5"/>
<circle cx="278.7" cy="278.4" r="1.5"/>
<circle cx="269.8" cy="286.6" r="1.5"/>
<circle cx="284.1" cy="280.7" r="1.5"/>
<circle cx="285.6" cy="270.9" r="1.5"/>
<circle cx="256.2" cy="284.6" r="1.5"/>
<circle cx="274.7" cy="277.0" r="1.5"/>
<circle cx="293.0" cy="274.3" r="1.5"/>
<circle cx="299.4" cy="274.4" r="1.5"/>
<circle cx="289.9" cy="279.6" r="1.5"/>
<circle cx="291.3" cy="266.6" r="1.5"/>
<circle cx="294.5" cy="275.3" r="1.5"/>
<circle cx="270.8" cy="286.4" r="1.5"/>
<circle cx="286.0" cy="286.5" r="1.5"/>
<circle cx="290.4" cy="278.5" r="1.5"/>
<circle cx="263.2" cy="296.4" r="1.5"/>
<circle cx="299.1" cy="278.7" r="1.5"/>
<circle cx="287.3" cy="285.5" r="1.5"/>
<circle cx="272.0" cy="286.6" r="1.5"/>
<circle cx="282.3" cy="271.3" r="1.5"/>
<circle cx="286.2" cy="279.7" r="1.5"/>
<circle cx="301.6" cy="279.1" r="1.5"/>
<circle cx="263.6" cy="270.3" r="1.5"/>
<circle cx="281.1" cy="277.3" r="1.5"/>
<circle cx="271.2" cy="271.5" r="1.5"/>
<circle cx="279.8" cy="270.9" r="1.5"/>
<circle cx="274.0" cy="287.1" r="1.5"/>
<circle cx="284.7" cy="272.2" r="1.5"/>
<circle cx="269.1" cy="281.2" r="1.5"/>
<circle cx="301.9" cy="268.6" r="1.5"/>
<circle cx="301.9" cy="266.6" r="1.5"/>
<circle cx="279.6" cy="284.2" r="1.5"/>
<circle cx="273.1" cy="281.7" r="1.5"/>
<circle cx="266.4" cy="288.1" r="1.5"/>
<circle cx="295.3" cy="269.7" r="1.5"/>
<circle cx="284.1" cy="274.9" r="1.5"/>
<circle cx="257.2" cy="305.9" r="1.5"/>
<circle cx="289.2" cy="282.1" r="1.5"/>
<circle cx="286.5" cy="278.3" r="1.5"/>
<circle cx="309.3" cy="256.9" r="1.5"/>
<circle cx="278.4" cy="276.6" r="1.5"/>
<circle cx="279.6" cy="284.2" r="1.5"/>
<circle cx="273.7" cy="271.6" r="1.5"/>
<circle cx="269.0" cy="285.8" r="1.5"/>
<circle cx="292.9" cy="280.8" r="1.5"/>
<circle cx="300.4" cy="269.0" r="1.5"/>
<circle cx="293.4" cy="279.8" r="1.5"/>
<circle cx="280.1" cy="273.7" r="1.5"/>
<circle cx="292.1" cy="270.5" r="1.5"/>
<circle cx="278.6" cy="272.6" r="1.5"/>
<circle cx="302.1" cy="271.8" r="1.5"/>
<circle cx="276.2" cy="278.5" r="1.5"/>
<circle cx="279.4" cy="280.0" r="1.5"/>
<circle cx="262.4" cy="276.3" r="1.5"/>
<circle cx="287.8" cy="284.4" r="1.5"/>
<circle cx="270.4" cy="282.9" r="1.5"/>
<circle cx="275.4" cy="264.3" r="1.5"/>
<circle cx="278.4" cy="271.9" r="1.5"/>
<circle cx="292.0" cy="273.9" r="1.5"/>
<circle cx="281.5" cy="268.2" r="1.5"/>
<circle cx="283.6" cy="264.1" r="1.5"/>
<circle cx="284.5" cy="287.5" r="1.5"/>
<circle cx="268.0" cy="289.0" r="1.5"/>
<circle cx="298.2" cy="272.0" r="1.5"/>
<circle cx="294.8" cy="275.1" r="1.5"/>
<circle cx="276.3" cy="265.9" r="1.5"/>
<circle cx="269.6" cy="271.8" r="1.5"/>
<circle cx="309.4" cy="271.8" r="1.5"/>
<circle cx="280.0" cy="269.5" r="1.5"/>
<circle cx="301.8" cy="264.0" r="1.5"/>
<circle cx="299.1" cy="280.9" r="1.5"/>
<circle cx="282.8" cy="273.5" r="1.5"/>
<circle cx="281.4" cy="269.2" r="1.5"/>
<circle cx="289.5" cy="288.2" r="1.5"/>
<circle cx="292.3" cy="282.8" r="1.5"/>
<circle cx="273.9" cy="283.2" r="1.5"/>
<circle cx="270.2" cy="279.0" r="1.5"/>
<circle cx="290.4" cy="293.8" r="1.5"/>
<circle cx="282.8" cy="278.5" r="1.5"/>
<circle cx="260.2" cy="286.6" r="1.5"/>
<circle cx="271.5" cy="271.7" r="1.5"/>
<circle cx="264.8" cy="284.9" r="1.5"/>
<circle cx="277.4" cy="284.8" r="1.5"/>
<circle cx="279.3" cy="279.3" r="1.5"/>
<circle cx="298.9" cy="279.0" r="1.5"/>
<circle cx="290.8" cy="286.3" r="1.5"/>
<circle cx="284.5" cy="270.6" r="1.5"/>
<circle cx="272.8" cy="270.2" r="1.5"/>
<circle cx="286.1" cy="274.3" r="1.5"/>
<circle cx="287.9" cy="282.6" r="1.5"/>
<circle cx="272.6" cy="282.8" r="1.5"/>
<circle cx="296.7" cy="274.5" r="1.5"/>
<circle cx="292.8" cy="273.7" r="1.5"/>
<circle cx="271.0" cy="280.3" r="1.5"/>
<circle cx="260.2" cy="290.4" r="1.5"/>
<circle cx="276.0" cy="290.0" r="1.5"/>
<circle cx="267.8" cy="283.9" r="1.5"/>
<circle cx="286.0" cy="275.8" r="1.5"/>
<circle cx="286.4" cy="271.7" r="1.5"/>
<circle cx="269.6" cy="272.3" r="1.5"/>
<circle cx="275.4" cy="274.7" r="1.5"/>
<circle cx="284.7" cy="275.0" r="1.5"/>
<circle cx="274.3" cy="275.6" r="1.5"/>
<circle cx="260.0" cy="282.7" r="1.5"/>
<circle cx="286.8" cy="267.4" r="1.5"/>
<circle cx="279.0" cy="284.3" r="1.5"/>
<circle cx="273.9" cy="282.4" r="1.5"/>
<circle cx="277.0" cy="297.8" r="1.5"/>
<circle cx="298.2" cy="282.0" r="1.5"/>
<circle cx="274.1" cy="285.7" r="1.5"/>
<circle cx="280.1" cy="281.7" r="1.5"/>
<circle cx="275.3" cy="281.7" r="1.5"/>
<circle cx="273.1" cy="283.4" r="1.5"/>
<circle cx="302.5" cy="262.2" r="1.5"/>
<circle cx="266.6" cy="286.9" r="1.5"/>
<circle cx="291.2" cy="272.9" r="1.5"/>
<circle cx="288.9" cy="279.4" r="1.5"/>
<circle cx="288.4" cy="286.5" r="1.5"/>
<circle cx="274.4" cy="285.6" r="1.5"/>
<circle cx="284.3" cy="272.8" r="1.5"/>
<circle cx="287.9" cy="267.2" r="1.5"/>
<circle cx="264.7" cy="291.7" r="1.5"/>
<circle cx="269.1" cy="294.8" r="1.5"/>
<circle cx="294.1" cy="270.9" r="1.5"/>
<circle cx="271.7" cy="265.5" r="1.5"/>
<circle cx="281.1" cy="266.9" r="1.5"/>
<circle cx="300.4" cy="260.5" r="1.5"/>
<circle cx="282.7" cy="258.4" r="1.5"/>
<circle cx="277.9" cy="289.4" r="1.5"/>
<circle cx="276.7" cy="274.1" r="1.5"/>
<circle cx="276.4" cy="283.0" r="1.5"/>
<circle cx="292.4" cy="273.5" r="1.5"/>
<circle cx="257.9" cy="288.3" r="1.5"/>
<circle cx="293.4" cy="291.7" r="1.5"/>
<circle cx="283.9" cy="279.1" r="1.5"/>
<circle cx="275.6" cy="285.9" r="1.5"/>
<circle cx="302.7" cy="264.7" r="1.5"/>
<circle cx="282.9" cy="270.6" r="1.5"/>
<circle cx="273.8" cy="279.7" r="1.5"/>
<circle cx="287.7" cy="270.6" r="1.5"/>
<circle cx="278.5" cy="289.5" r="1.5"/>
<circle cx="287.9" cy="281.7" r="1.5"/>
<circle cx="286.6" cy="275.6" r="1.5"/>
<circle cx="286.9" cy="280.7" r="1.5"/>
<circle cx="281.9" cy="286.0" r="1.5"/>
<circle cx="282.0" cy="285.0" r="1.5"/>
<circle cx="282.2" cy="283.7" r="1.5"/>
<circle cx="274.0" cy="276.9" r="1.5"/>
<circle cx="268.3" cy="291.5" r="1.5"/>
<circle cx="287.9" cy="278.1" r="1.5"/>
<circle cx="289.2" cy="270.1" r="1.5"/>
<circle cx="283.1" cy="274.4" r="1.5"/>
<circle cx="260.0" cy="283.4" r="1.5"/>
<circle cx="271.7" cy="292.1" r="1.5"/>
<circle cx="273.1" cy="276.7" r="1.5"/>
<circle cx="293.5" cy="274.8" r="1.5"/>
<circle cx="266.2" cy="285.1" r="1.5"/>
<circle cx="273.1" cy="293.7" r="1.5"/>
<circle cx="269.5" cy="276.9" r="1.5"/>
<circle cx="249.7" cy="283.7" r="1.5"/>
<circle cx="304.0" cy="270.7" r="1.5"/>
<circle cx="270.6" cy="284.1" r="1.5"/>
<circle cx="278.5" cy="279.3" r="1.5"/>
<circle cx="311.2" cy="284.0" r="1.5"/>
<circle cx="300.8" cy="284.8" r="1.5"/>
<circle cx="271.1" cy="267.6" r="1.5"/>
<circle cx="290.7" cy="278.6" r="1.5"/>
<circle cx="282.5" cy="277.4" r="1.5"/>
<circle cx="290.4" cy="280.0" r="1.5"/>
<circle cx="285.0" cy="281.1" r="1.5"/>
<circle cx="279.6" cy="276.5" r="1.5"/>
<circle cx="298.4" cy="271.5" r="1.5"/>
<circle cx="305.4" cy="275.9" r="1.5"/>
<circle cx="282.7" cy="286.5" r="1.5"/>
<circle cx="276.1" cy="278.9" r="1.5"/>
<circle cx="277.9" cy="279.7" r="1.5"/>
<circle cx="290.0" cy="291.2" r="1.5"/>
<circle cx="288.1" cy="268.8" r="1.5"/>
<circle cx="272.3" cy="268.3" r="1.5"/>
<circle cx="290.5" cy="282.2" r="1.5"/>
<circle cx="285.9" cy="279.9" r="1.5"/>
<circle cx="288.2" cy="279.7" r="1.5"/>
<circle cx="289.6" cy="277.8" r="1.5"/>
<circle cx="270.4" cy="289.0" r="1.5"/>
<circle cx="297.7" cy="261.6" r="1.5"/>
<circle cx="279.2" cy="271.0" r="1.5"/>
<circle cx="287.9" cy="274.5" r="1.5"/>
<circle cx="298.7" cy="281.4" r="1.5"/>
<circle cx="276.5" cy="276.7" r="1.5"/>
<circle cx="275.1" cy="284.9" r="1.5"/>
<circle cx="271.0" cy="285.1" r="1.5"/>
<circle cx="265.5" cy="291.3" r="1.5"/>
<circle cx="287.6" cy="268.2" r="1.5"/>
<circle cx="272.7" cy="282.4" r="1.5"/>
<circle cx="285.3" cy="256.5" r="1.5"/>
<circle cx="284.3" cy="288.8" r="1.5"/>
<circle cx="276.7" cy="270.2" r="1.5"/>
<circle cx="296.3" cy="275.8" r="1.5"/>
<circle cx="284.2" cy="282.3" r="1.5"/>
<circle cx="267.5" cy="278.1" r="1.5"/>
<circle cx="268.6" cy="274.3" r="1.5"/>
<circle cx="278.2" cy="271.9" r="1.5"/>
<circle cx="300.9" cy="276.2" r="1.5"/>
<circle cx="291.7" cy="263.3" r="1.5"/>
<circle cx="279.4" cy="278.2" r="1.5"/>
<circle cx="283.8" cy="281.2" r="1.5"/>
<circle cx="272.5" cy="274.7" r="1.5"/>
<circle cx="293.2" cy="291.4" r="1.5"/>
<circle cx="306.4" cy="268.7" r="1.5"/>
<circle cx="272.7" cy="282.7" r="1.5"/>
<circle cx="287.5" cy="289.7" r="1.5"/>
<circle cx="279.2" cy="273.9" r="1.5"/>
<circle cx="294.2" cy="269.3" r="1.5"/>
<circle cx="271.8" cy="285.5" r="1.5"/>
<circle cx="279.7" cy="271.5" r="1.5"/>
<circle cx="278.8" cy="276.4" r="1.5"/>
<circle cx="279.3" cy="273.9" r="1.5"/>
<circle cx="288.8" cy="273.7" r="1.5"/>
<circle cx="274.9" cy="288.4" r="1.5"/>
<circle cx="271.0" cy="287.4" r="1.5"/>
<circle cx="288.8" cy="274.2" r="1.5"/>
<circle cx="284.5" cy="266.9" r="1.5"/>
<circle cx="284.8" cy="270.0" r="1.5"/>
<circle cx="271.8" cy="283.5" r="1.5"/>
<circle cx="273.3" cy="282.1" r="1.5"/>
<circle cx="286.7" cy="284.6" r="1.5"/>
<circle cx="286.6" cy="284.6" r="1.5"/>
<circle cx="273.1" cy="278.5" r="1.5"/>
<circle cx="289.5" cy="284.7" r="1.5"/>
<circle cx="287.2" cy="273.0" r="1.5"/>
<circle cx="269.4" cy="275.5" r="1.5"/>
<circle cx="295.0" cy="267.3" r="1.5"/>
<circle cx="279.2" cy="283.9" r="1.5"/>
<circle cx="287.0" cy="271.8" r="1.5"/>
<circle cx="305.2" cy="272.4" r="1.5"/>
<circle cx="285.2" cy="283.4" r="1.5"/>
<circle cx="278.3" cy="284.6" r="1.5"/>
<circle cx="280.3" cy="272.6" r="1.5"/>
<circle cx="270.8" cy="284.7" r="1.5"/>
<circle cx="283.1" cy="277.0" r="1.5"/>
<circle cx="276.6" cy="278.4" r="1.5"/>
<circle cx="291.2" cy="283.5" r="1.5"/>
<circle cx="279.0" cy="281.3" r="1.5"/>
<circle cx="260.3" cy="277.0" r="1.5"/>
<circle cx="273.8" cy="274.5" r="1.5"/>
<circle cx="290.0" cy="260.9" r="1.5"/>
<circle cx="287.6" cy="281.6" r="1.5"/>
<circle cx="307.6" cy="266.9" r="1.5"/>
<circle cx="287.2" cy="287.5" r="1.5"/>
<circle cx="292.8" cy="268.3" r="1.5"/>
<circle cx="277.9" cy="271.5" r="1.5"/>
<circle cx="282.8" cy="283.2" r="1.5"/>
<circle cx="297.8" cy="277.6" r="1.5"/>
<circle cx="292.3" cy="282.9" r="1.5"/>
<circle cx="272.5" cy="286.3" r="1.5"/>
<circle cx="293.3" cy="273.7" r="1.5"/>
<circle cx="270.9" cy="283.1" r="1.5"/>
<circle cx="283.8" cy="282.9" r="1.5"/>
<circle cx="261.2" cy="282.3" r="1.5"/>
<circle cx="305.4" cy="280.5" r="1.5"/>
<circle cx="280.3" cy="276.9" r="1.5"/>
<circle cx="278.9" cy="272.5" r="1.5"/>
<circle cx="276.7" cy="279.9" r="1.5"/>
<circle cx="268.1" cy="282.3" r="1.5"/>
<circle cx="285.1" cy="268.3" r="1.5"/>
<circle cx="276.8" cy="269.0" r="1.5"/>
<circle cx="282.5" cy="279.9" r="1.5"/>
<circle cx="276.0" cy="280.9" r="1.5"/>
<circle cx="288.4" cy="281.4" r="1.5"/>
<circle cx="266.5" cy="281.0" r="1.5"/>
<circle cx="265.3" cy="270.1" r="1.5"/>
<circle cx="293.8" cy="280.3" r="1.5"/>
<circle cx="296.7" cy="279.4" r="1.5"/>
<circle cx="276.2" cy="281.8" r="1.5"/>
<circle cx="275.7" cy="290.2" r="1.5"/>
<circle cx="254.7" cy="289.9" r="1.5"/>
<circle cx="275.6" cy="285.7" r="1.5"/>
<circle cx="295.9" cy="269.6" r="1.5"/>
<circle cx="297.8" cy="281.4" r="1.5"/>
<circle cx="263.7" cy="297.3" r="1.5"/>
<circle cx="268.3" cy="273.0" r="1.5"/>
<circle cx="292.9" cy="269.9" r="1.5"/>
<circle cx="284.6" cy="277.4" r="1.5"/>
<circle cx="270.2" cy="293.7" r="1.5"/>
<circle cx="299.2" cy="273.7" r="1.5"/>
<circle cx="300.2" cy="272.7" r="1.5"/>
<circle cx="285.0" cy="275.4" r="1.5"/>
<circle cx="266.7" cy="280.8" r="1.5"/>
<circle cx="271.0" cy="284.9" r="1.5"/>
<circle cx="283.7" cy="273.8" r="1.5"/>
<circle cx="296.8" cy="276.5" r="1.5"/>
<circle cx="303.1" cy="269.1" r="1.5"/>
<circle cx="277.5" cy="274.6" r="1.5"/>
<circle cx="284.7" cy="276.5" r="1.5"/>
<circle cx="282.4" cy="290.9" r="1.5"/>
<circle cx="291.2" cy="271.2" r="1.5"/>
<circle cx="286.7" cy="275.2" r="1.5"/>
<circle cx="278.5" cy="278.1" r="1.5"/>
<circle cx="282.8" cy="282.9" r="1.5"/>
<circle cx="293.7" cy="275.1" r="1.5"/>
<circle cx="272.7" cy="281.4" r="1.5"/>
<circle cx="279.8" cy="277.3" r="1.5"/>
<circle cx="268.0" cy="281.9" r="1.5"/>
<circle cx="261.1" cy="294.1" r="1.5"/>
<circle cx="290.5" cy="281.2" r="1.5"/>
<circle cx="271.2" cy="283.6" r="1.5"/>
<circle cx="296.8" cy="272.3" r="1.5"/>
<circle cx="269.7" cy="281.6" r="1.5"/>
<circle cx="255.9" cy="293.4" r="1.5"/>
<circle cx="287.0" cy="267.1" r="1.5"/>
<circle cx="290.1" cy="284.2" r="1.5"/>
<circle cx="289.4" cy="281.0" r="1.5"/>
<circle cx="299.8" cy="274.5" r="1.5"/>
<circle cx="298.2" cy="272.0" r="1.5"/>
<circle cx="274.1" cy="278.7" r="1.5"/>
<circle cx="270.0" cy="285.1" r="1.5"/>
<circle cx="273.9" cy="283.7" r="1.5"/>
<circle cx="285.7" cy="289.0" r="1.5"/>
<circle cx="302.4" cy="268.2" r="1.5"/>
<circle cx="280.0" cy="277.9" r="1.5"/>
<circle cx="274.9" cy="293.7" r="1.5"/>
<circle cx="296.3" cy="272.5" r="1.5"/>
<circle cx="266.1" cy="278.9" r="1.5"/>
<circle cx="282.3" cy="289.7" r="1.5"/>
<circle cx="267.3" cy="293.5" r="1.5"/>
<circle cx="265.5" cy="286.2" r="1.5"/>
<circle cx="268.6" cy="279.6" r="1.5"/>
<circle cx="254.5" cy="291.4" r="1.5"/>
<circle cx="282.4" cy="270.9" r="1.5"/>
<circle cx="257.4" cy="285.7" r="1.5"/>
<circle cx="281.7" cy="268.2" r="1.5"/>
<circle cx="287.6" cy="275.9" r="1.5"/>
<circle cx="268.9" cy="276.8" r="1.5"/>
<circle cx="253.6" cy="292.5" r="1.5"/>
<circle cx="293.2" cy="273.5" r="1.5"/>
<circle cx="267.4" cy="274.9" r="1.5"/>
<circle cx="278.4" cy="273.2" r="1.5"/>
<circle cx="285.2" cy="271.2" r="1.5"/>
<circle cx="292.3" cy="283.7" r="1.5"/>
<circle cx="275.0" cy="274.8" r="1.5"/>
<circle cx="247.8" cy="289.4" r="1.5"/>
<circle cx="286.2" cy="270.4" r="1.5"/>
<circle cx="294.7" cy="269.6" r="1.5"/>
<circle cx="268.3" cy="288.6" r="1.5"/>
<circle cx="287.1" cy="262.0" r="1.5"/>
<circle cx="273.8" cy="271.8" r="1.5"/>
<circle cx="279.3" cy="280.5" r="1.5"/>
<circle cx="276.6" cy="281.2" r="1.5"/>
<circle cx="292.2" cy="272.9" r="1.5"/>
<circle cx="267.2" cy="276.0" r="1.5"/>
<circle cx="291.4" cy="287.7" r="1.5"/>
<circle cx="279.8" cy="281.8" r="1.5"/>
<circle cx="272.6" cy="277.2" r="1.5"/>
<circle cx="292.9" cy="271.3" r="1.5"/>
<circle cx="283.8" cy="278.7" r="1.5"/>
<circle cx="295.2" cy="276.0" r="1.5"/>
<circle cx="281.2" cy="276.5" r="1.5"/>
<circle cx="275.7" cy="287.6" r="1.5"/>
<circle cx="306.4" cy="259.5" r="1.5"/>
<circle cx="293.6" cy="267.7" r="1.5"/>
<circle cx="274.7" cy="278.5" r="1.5"/>
<circle cx="276.7" cy="277.4" r="1.5"/>
<circle cx="274.9" cy="293.4" r="1.5"/>
<circle cx="265.2" cy="279.0" r="1.5"/>
<circle cx="272.9" cy="282.6" r="1.5"/>
<circle cx="267.0" cy="283.0" r="1.5"/>
<circle cx="283.2" cy="291.9" r="1.5"/>
<circle cx="289.2" cy="275.7" r="1.5"/>
<circle cx="283.0" cy="291.2" r="1.5"/>
<circle cx="280.6" cy="273.9" r="1.5"/>
<circle cx="274.7" cy="278.1" r="1.5"/>
<circle cx="292.0" cy="268.2" r="1.5"/>
<circle cx="275.2" cy="280.3" r="1.5"/>
<circle cx="271.2" cy="286.4" r="1.5"/>
<circle cx="277.3" cy="283.4" r="1.5"/>
<circle cx="287.7" cy="287.2" r="1.5"/>
<circle cx="301.7" cy="266.1" r="1.5"/>
<circle cx="266.8" cy="274.9" r="1.5"/>
<circle cx="287.3" cy="280.5" r="1.5"/>
<circle cx="281.8" cy="278.2" r="1.5"/>
<circle cx="299.3" cy="279.3" r="1.5"/>
<circle cx="284.4" cy="282.1" r="1.5"/>
<circle cx="264.7" cy="292.2" r="1.5"/>
<circle cx="305.5" cy="272.1" r="1.5"/>
<circle cx="276.9" cy="288.8" r="1.5"/>
<circle cx="276.2" cy="280.9" r="1.5"/>
<circle cx="288.9" cy="275.2" r="1.5"/>
<circle cx="290.0" cy="262.2" r="1.5"/>
<circle cx="254.0" cy="292.4" r="1.5"/>
<circle cx="288.0" cy="278.2" r="1.5"/>
<circle cx="277.5" cy="280.2" r="1.5"/>
<circle cx="287.0" cy="268.8" r="1.5"/>
<circle cx="284.9" cy="272.0" r="1.5"/>
<circle cx="305.8" cy="273.6" r="1.5"/>
<circle cx="285.1" cy="284.7" r="1.5"/>
<circle cx="292.8" cy="281.9" r="1.5"/>
<circle cx="274.6" cy="281.9" r="1.5"/>
<circle cx="292.1" cy="276.9" r="1.5"/>
<circle cx="283.4" cy="274.0" r="1.5"/>
<circle cx="284.2" cy="287.7" r="1.5"/>
<circle cx="268.3" cy="273.1" r="1.5"/>
<circle cx="268.3" cy="271.8" r="1.5"/>
<circle cx="296.6" cy="287.3" r="1.5"/>
<circle cx="287.7" cy="277.4" r="1.5"/>
<circle cx="297.8" cy="281.0" r="1.5"/>
<circle cx="256.1" cy="286.1" r="1.5"/>
<circle cx="310.0" cy="267.0" r="1.5"/>
<circle cx="273.9" cy="276.7" r="1.5"/>
<circle cx="300.0" cy="269.8" r="1.5"/>
<circle cx="286.9" cy="285.5" r="1.5"/>
<circle cx="284.1" cy="278.0" r="1.5"/>
<circle cx="270.2" cy="273.5" r="1.5"/>
<circle cx="294.4" cy="265.5" r="1.5"/>
<circle cx="294.3" cy="283.5" r="1.5"/>
<circle cx="299.2" cy="271.9" r="1.5"/>
<circle cx="272.5" cy="282.2" r="1.5"/>
<circle cx="296.8" cy="277.8" r="1.5"/>
<circle cx="287.5" cy="275.9" r="1.5"/>
<circle cx="292.6" cy="261.4" r="1.5"/>
<circle cx="268.7" cy="293.7" r="1.5"/>
<circle cx="287.4" cy="281.8" r="1.5"/>
<circle cx="260.4" cy="279.3" r="1.5"/>
<circle cx="277.2" cy="279.3" r="1.5"/>
<circle cx="295.5" cy="270.3" r="1.5"/>
<circle cx="283.5" cy="273.0" r="1.5"/>
<circle cx="279.5" cy="282.0" r="1.5"/>
<circle cx="286.8" cy="284.1" r="1.5"/>
<circle cx="267.7" cy="288.5" r="1.5"/>
<circle cx="287.2" cy="271.3" r="1.5"/>
<circle cx="296.9" cy="269.1" r="1.5"/>
<circle cx="277.9" cy="283.6" r="1.5"/>
<circle cx="298.2" cy="270.6" r="1.5"/>
<circle cx="298.8" cy="276.1" r="1.5"/>
<circle cx="273.3" cy="286.4" r="1.5"/>
<circle cx="282.8" cy="273.2" r="1.5"/>
<circle cx="280.4" cy="287.9" r="1.5"/>
<circle cx="286.0" cy="275.5" r="1.5"/>
<circle cx="291.3" cy="265.7" r="1.5"/>
<circle cx="289.5" cy="285.6" r="1.5"/>
<circle cx="268.9" cy="274.8" r="1.5"/>
<circle cx="272.3" cy="280.1" r="1.5"/>
<circle cx="273.5" cy="281.1" r="1.5"/>
<circle cx="270.7" cy="284.1" r="1.5"/>
<circle cx="288.5" cy="279.7" r="1.5"/>
<circle cx="275.6" cy="286.4" r="1.5"/>
<circle cx="264.4" cy="279.4" r="1.5"/>
<circle cx="281.2" cy="287.8" r="1.5"/>
<circle cx="277.7" cy="284.2" r="1.5"/>
<circle cx="300.6" cy="286.6" r="1.5"/>
<circle cx="301.7" cy="266.8" r="1.5"/>
<circle cx="285.1" cy="281.1" r="1.5"/>
<circle cx="289.7" cy="279.8" r="1.5"/>
<circle cx="280.7" cy="279.3" r="1.5"/>
<circle cx="266.5" cy="288.5" r="1.5"/>
<circle cx="285.8" cy="273.3" r="1.5"/>
<circle cx="302.5" cy="272.2" r="1.5"/>
<circle cx="274.7" cy="285.0" r="1.5"/>
<circle cx="287.1" cy="281.6" r="1.5"/>
<circle cx="281.1" cy="284.3" r="1.5"/>
<circle cx="283.5" cy="286.6" r="1.5"/>
<circle cx="285.8" cy="271.6" r="1.5"/>
<circle cx="270.6" cy="286.2" r="1.5"/>
<circle cx="292.7" cy="264.9" r="1.5"/>
<circle cx="289.1" cy="275.9" r="1.5"/>
<circle cx="285.3" cy="271.9" r="1.5"/>
<circle cx="269.5" cy="278.4" r="1.5"/>
<circle cx="273.0" cy="278.5" r="1.5"/>
<circle cx="283.3" cy="278.5" r="1.5"/>
<circle cx="303.5" cy="265.2" r="1.5"/>
<circle cx="277.2" cy="280.8" r="1.5"/>
<circle cx="289.1" cy="269.1" r="1.5"/>
<circle cx="265.9" cy="285.4" r="1.5"/>
<circle cx="286.4" cy="281.3" r="1.5"/>
<circle cx="289.4" cy="265.5" r="1.5"/>
<circle cx="294.2" cy="273.9" r="1.5"/>
<circle cx="305.7" cy="268.4" r="1.5"/>
<circle cx="257.8" cy="285.4" r="1.5"/>
<circle cx="284.3" cy="280.1" r="1.5"/>
<circle cx="284.5" cy="274.1" r="1.5"/>
<circle cx="263.3" cy="283.2" r="1.5"/>
<circle cx="278.5" cy="275.0" r="1.5"/>
<circle cx="282.8" cy="276.2" r="1.5"/>
<circle cx="259.3" cy="279.8" r="1.5"/>
<circle cx="272.6" cy="279.7" r="1.5"/>
<circle cx="300.5" cy="272.5" r="1.5"/>
<circle cx="288.3" cy="261.8" r="1.5"/>
<circle cx="295.8" cy="270.5" r="1.5"/>
<circle cx="288.1" cy="269.1" r="1.5"/>
<circle cx="281.7" cy="284.4" r="1.5"/>
<circle cx="281.8" cy="280.2" r="1.5"/>
<circle cx="273.5" cy="276.2" r="1.5"/>
<circle cx="285.1" cy="276.3" r="1.5"/>
<circle cx="283.6" cy="273.4" r="1.5"/>
<circle cx="277.7" cy="285.2" r="1.5"/>
<circle cx="298.0" cy="270.8" r="1.5"/>
<circle cx="274.8" cy="281.7" r="1.5"/>
<circle cx="292.5" cy="277.2" r="1.5"/>
<circle cx="294.3" cy="273.4" r="1.5"/>
<circle cx="271.3" cy="268.7" r="1.5"/>
<circle cx="291.7" cy="277.3" r="1.5"/>
<circle cx="274.8" cy="283.3" r="1.5"/>
<circle cx="269.1" cy="289.8" r="1.5"/>
<circle cx="293.7" cy="283.1" r="1.5"/>
<circle cx="277.1" cy="290.0" r="1.5"/>
<circle cx="291.4" cy="286.8" r="1.5"/>
<circle cx="263.0" cy="291.0" r="1.5"/>
</g>
<g fill="#a5a5a5" fill-opacity="0.5">
<circle cx="305.0" cy="247.0" r="1.5"/>
<circle cx="310.0" cy="244.0" r="1.5"/>
<circle cx="320.0" cy="254.0" r="1.5"/>
<circle cx="326.0" cy="252.0" r="1.5"/>
<circle cx="332.0" cy="246.0" r="1.5"/>
<circle cx="316.0" cy="262.0" r="1.5"/>
<circle cx="313.0" cy="270.0" r="1.5"/>
<circle cx="325.0" cy="270.0" r="1.5"/>
<circle cx="320.0" cy="284.0" r="1.5"/>
<circle cx="300.0" cy="298.0" r="1.5"/>
<circle cx="265.0" cy="300.0" r="1.5"/>
<circle cx="262.0" cy="296.0" r="1.5"/>
<circle cx="270.0" cy="253.0" r="1.5"/>
<circle cx="275.0" cy="258.0" r="1.5"/>
<circle cx="255.0" cy="283.0" r="1.5"/>
<circle cx="258.0" cy="290.0" r="1.5"/>
<circle cx="300.0" cy="290.0" r="1.5"/>
<circle cx="309.0" cy="252.0" r="1.5"/>
<circle cx="293.0" cy="247.0" r="1.5"/>
</g>
<g fill="#a5a5a5" fill-opacity="0.5">
<circle cx="442.9" cy="283.2" r="1.5"/>
<circle cx="433.2" cy="289.5" r="1.5"/>
<circle cx="439.5" cy="278.1" r="1.5"/>
<circle cx="460.0" cy="264.3" r="1.5"/>
<circle cx="441.6" cy="281.6" r="1.5"/>
<circle cx="452.7" cy="269.0" r="1.5"/>
<circle cx="447.6" cy="268.1" r="1.5"/>
<circle cx="438.5" cy="278.0" r="1.5"/>
<circle cx="429.3" cy="279.6" r="1.5"/>
<circle cx="426.5" cy="288.3" r="1.5"/>
<circle cx="440.4" cy="277.1" r="1.5"/>
<circle cx="442.7" cy="270.1" r="1.5"/>
<circle cx="441.2" cy="279.3" r="1.5"/>
<circle cx="449.1" cy="267.6" r="1.5"/>
<circle cx="438.2" cy="270.1" r="1.5"/>
<circle cx="437.2" cy="269.9" r="1.5"/>
<circle cx="428.5" cy="293.6" r="1.5"/>
<circle cx="421.1" cy="297.9" r="1.5"/>
<circle cx="445.1" cy="273.5" r="1.5"/>
<circle cx="446.4" cy="276.8" r="1.5"/>
<circle cx="451.9" cy="268.6" r="1.5"/>
<circle cx="436.4" cy="278.8" r="1.5"/>
<circle cx="432.6" cy="284.5" r="1.5"/>
<circle cx="434.5" cy="288.8" r="1.5"/>
<circle cx="424.2" cy="285.7" r="1.5"/>
<circle cx="432.9" cy="273.8" r="1.5"/>
<circle cx="460.1" cy="251.1" r="1.5"/>
<circle cx="439.3" cy="276.9" r="1.5"/>
<circle cx="457.7" cy="255.1" r="1.5"/>
<circle cx="452.2" cy="265.8" r="1.5"/>
<circle cx="440.5" cy="275.2" r="1.5"/>
<circle cx="448.1" cy="266.9" r="1.5"/>
<circle cx="441.3" cy="279.9" r="1.5"/>
<circle cx="459.5" cy="251.5" r="1.5"/>
<circle cx="456.5" cy="271.1" r="1.5"/>
<circle cx="437.4" cy="282.6" r="1.5"/>
<circle cx="437.6" cy="289.4" r="1.5"/>
<circle cx="444.0" cy="274.8" r="1.5"/>
<circle cx="439.8" cy="278.2" r="1.5"/>
<circle cx="440.3" cy="274.3" r="1.5"/>
<circle cx="461.6" cy="252.5" r="1.5"/>
<circle cx="407.7" cy="303.5" r="1.5"/>
<circle cx="440.6" cy="280.5" r="1.5"/>
<circle cx="440.1" cy="278.2" r="1.5"/>
<circle cx="445.2" cy="280.0" r="1.5"/>
<circle cx="437.7" cy="278.9" r="1.5"/>
<circle cx="460.4" cy="265.9" r="1.5"/>
<circle cx="432.6" cy="296.7" r="1.5"/>
<circle cx="449.4" cy="268.7" r="1.5"/>
<circle cx="430.8" cy="287.7" r="1.5"/>
<circle cx="434.1" cy="278.2" r="1.5"/>
<circle cx="429.7" cy="284.5" r="1.5"/>
<circle cx="452.5" cy="267.1" r="1.5"/>
<circle cx="428.2" cy="291.6" r="1.5"/>
<circle cx="442.6" cy="281.4" r="1.5"/>
<circle cx="453.4" cy="267.8" r="1.5"/>
<circle cx="440.6" cy="278.3" r="1.5"/>
<circle cx="431.2" cy="289.3" r="1.5"/>
<circle cx="455.0" cy="268.3" r="1.5"/>
<circle cx="439.7" cy="277.9" r="1.5"/>
<circle cx="434.6" cy="279.1" r="1.5"/>
<circle cx="438.2" cy="276.1" r="1.5"/>
<circle cx="437.8" cy="272.6" r="1.5"/>
<circle cx="445.3" cy="275.2" r="1.5"/>
<circle cx="431.1" cy="274.2" r="1.5"/>
<circle cx="441.9" cy="283.2" r="1.5"/>
<circle cx="435.0" cy="280.4" r="1.5"/>
<circle cx="436.6" cy="285.1" r="1.5"/>
<circle cx="433.3" cy="289.3" r="1.5"/>
<circle cx="439.1" cy="284.5" r="1.5"/>
<circle cx="442.3" cy="276.1" r="1.5"/>
<circle cx="428.0" cy="284.9" r="1.5"/>
<circle cx="439.5" cy="282.8" r="1.5"/>
<circle cx="444.3" cy="272.1" r="1.5"/>
<circle cx="445.9" cy="279.6" r="1.5"/>
<circle cx="440.6" cy="276.3" r="1.5"/>
<circle cx="438.3" cy="284.6" r="1.5"/>
<circle cx="447.1" cy="268.7" r="1.5"/>
<circle cx="445.6" cy="272.3" r="1.5"/>
<circle cx="434.9" cy="289.4" r="1.5"/>
<circle cx="449.8" cy="267.7" r="1.5"/>
<circle cx="442.8" cy="279.5" r="1.5"/>
<circle cx="435.9" cy="281.6" r="1.5"/>
<circle cx="448.3" cy="263.4" r="1.5"/>
<circle cx="445.1" cy="278.9" r="1.5"/>
<circle cx="446.8" cy="266.9" r="1.5"/>
<circle cx="445.0" cy="270.7" r="1.5"/>
<circle cx="447.4" cy="276.4" r="1.5"/>
<circle cx="444.1" cy="272.0" r="1.5"/>
<circle cx="436.4" cy="286.3" r="1.5"/>
<circle cx="433.5" cy="286.7" r="1.5"/>
<circle cx="446.9" cy="272.3" r="1.5"/>
<circle cx="464.7" cy="260.2" r="1.5"/>
<circle cx="462.4" cy="251.3" r="1.5"/>
<circle cx="420.7" cy="299.1" r="1.5"/>
<circle cx="448.0" cy="271.2" r="1.5"/>
<circle cx="441.5" cy="268.1" r="1.5"/>
<circle cx="436.0" cy="276.8" r="1.5"/>
<circle cx="439.9" cy="283.7" r="1.5"/>
<circle cx="442.5" cy="279.0" r="1.5"/>
<circle cx="435.4" cy="280.4" r="1.5"/>
<circle cx="443.1" cy="275.2" r="1.5"/>
<circle cx="454.0" cy="263.7" r="1.5"/>
<circle cx="460.0" cy="258.5" r="1.5"/>
<circle cx="452.1" cy="265.7" r="1.5"/>
<circle cx="457.7" cy="266.0" r="1.5"/>
<circle cx="445.8" cy="278.4" r="1.5"/>
<circle cx="436.0" cy="276.8" r="1.5"/>
<circle cx="422.7" cy="298.7" r="1.5"/>
<circle cx="435.4" cy="279.6" r="1.5"/>
<circle cx="441.7" cy="288.0" r="1.5"/>
<circle cx="425.6" cy="291.5" r="1.5"/>
<circle cx="438.2" cy="283.2" r="1.5"/>
<circle cx="424.9" cy="288.7" r="1.5"/>
<circle cx="450.0" cy="279.3" r="1.5"/>
<circle cx="457.2" cy="261.3" r="1.5"/>
<circle cx="442.5" cy="276.5" r="1.5"/>
<circle cx="428.9" cy="280.2" r="1.5"/>
<circle cx="449.2" cy="273.2" r="1.5"/>
<circle cx="440.6" cy="284.8" r="1.5"/>
<circle cx="432.5" cy="287.6" r="1.5"/>
<circle cx="442.1" cy="277.1" r="1.5"/>
<circle cx="446.7" cy="274.8" r="1.5"/>
<circle cx="444.5" cy="276.9" r="1.5"/>
<circle cx="460.4" cy="261.6" r="1.5"/>
<circle cx="451.6" cy="273.2" r="1.5"/>
<circle cx="438.7" cy="284.2" r="1.5"/>
<circle cx="433.9" cy="289.8" r="1.5"/>
<circle cx="434.3" cy="281.0" r="1.5"/>
<circle cx="445.1" cy="279.4" r="1.5"/>
<circle cx="450.6" cy="275.4" r="1.5"/>
<circle cx="440.0" cy="274.1" r="1.5"/>
<circle cx="447.2" cy="275.0" r="1.5"/>
<circle cx="433.0" cy="289.5" r="1.5"/>
<circle cx="443.9" cy="271.1" r="1.5"/>
<circle cx="446.2" cy="267.4" r="1.5"/>
<circle cx="433.7" cy="286.0" r="1.5"/>
<circle cx="427.2" cy="289.2" r="1.5"/>
<circle cx="429.2" cy="291.3" r="1.5"/>
<circle cx="435.1" cy="283.8" r="1.5"/>
<circle cx="427.7" cy="286.8" r="1.5"/>
<circle cx="451.0" cy="272.9" r="1.5"/>
<circle cx="424.5" cy="295.8" r="1.5"/>
<circle cx="450.5" cy="269.0" r="1.5"/>
<circle cx="455.5" cy="261.6" r="1.5"/>
<circle cx="441.2" cy="283.9" r="1.5"/>
<circle cx="454.4" cy="274.4" r="1.5"/>
<circle cx="431.6" cy="276.4" r="1.5"/>
<circle cx="445.7" cy="267.2" r="1.5"/>
<circle cx="440.8" cy="271.9" r="1.5"/>
<circle cx="452.1" cy="273.8" r="1.5"/>
<circle cx="447.3" cy="273.5" r="1.5"/>
<circle cx="442.4" cy="275.6" r="1.5"/>
<circle cx="445.6" cy="276.0" r="1.5"/>
<circle cx="446.4" cy="271.9" r="1.5"/>
<circle cx="460.0" cy="264.9" r="1.5"/>
<circle cx="455.2" cy="274.1" r="1.5"/>
<circle cx="433.6" cy="275.3" r="1.5"/>
<circle cx="453.9" cy="266.2" r="1.5"/>
<circle cx="442.8" cy="275.6" r="1.5"/>
<circle cx="443.2" cy="270.4" r="1.5"/>
<circle cx="441.0" cy="275.9" r="1.5"/>
<circle cx="441.9" cy="265.6" r="1.5"/>
<circle cx="449.8" cy="273.2" r="1.5"/>
<circle cx="425.6" cy="286.5" r="1.5"/>
<circle cx="442.3" cy="280.5" r="1.5"/>
<circle cx="442.0" cy="284.6" r="1.5"/>
<circle cx="442.2" cy="272.2" r="1.5"/>
<circle cx="435.6" cy="286.3" r="1.5"/>
<circle cx="436.2" cy="286.4" r="1.5"/>
<circle cx="451.7" cy="273.0" r="1.5"/>
<circle cx="451.7" cy="269.1" r="1.5"/>
<circle cx="441.9" cy="274.5" r="1.5"/>
<circle cx="436.2" cy="273.9" r="1.5"/>
<circle cx="436.7" cy="276.1" r="1.5"/>
<circle cx="428.4" cy="288.8" r="1.5"/>
<circle cx="446.3" cy="272.4" r="1.5"/>
<circle cx="455.0" cy="272.2" r="1.5"/>
<circle cx="451.9" cy="266.7" r="1.5"/>
<circle cx="427.8" cy="291.4" r="1.5"/>
<circle cx="444.9" cy="279.0" r="1.5"/>
<circle cx="446.0" cy="280.9" r="1.5"/>
<circle cx="439.3" cy="283.1" r="1.5"/>
<circle cx="433.5" cy="272.2" r="1.5"/>
<circle cx="437.8" cy="288.5" r="1.5"/>
<circle cx="426.1" cy="295.1" r="1.5"/>
<circle cx="435.5" cy="280.5" r="1.5"/>
<circle cx="442.4" cy="278.3" r="1.5"/>
<circle cx="432.7" cy="285.3" r="1.5"/>
<circle cx="446.2" cy="278.5" r="1.5"/>
<circle cx="434.8" cy="291.1" r="1.5"/>
<circle cx="460.1" cy="275.9" r="1.5"/>
<circle cx="429.3" cy="288.3" r="1.5"/>
<circle cx="424.3" cy="293.2" r="1.5"/>
<circle cx="447.3" cy="267.5" r="1.5"/>
<circle cx="426.9" cy="290.2" r="1.5"/>
<circle cx="448.0" cy="268.8" r="1.5"/>
<circle cx="439.5" cy="266.4" r="1.5"/>
<circle cx="435.3" cy="283.5" r="1.5"/>
<circle cx="443.4" cy="284.5" r="1.5"/>
<circle cx="431.2" cy="274.3" r="1.5"/>
<circle cx="446.3" cy="271.1" r="1.5"/>
<circle cx="444.7" cy="279.1" r="1.5"/>
<circle cx="447.7" cy="280.5" r="1.5"/>
<circle cx="454.8" cy="258.9" r="1.5"/>
<circle cx="441.4" cy="288.3" r="1.5"/>
<circle cx="438.1" cy="285.5" r="1.5"/>
<circle cx="441.5" cy="275.7" r="1.5"/>
<circle cx="457.0" cy="271.2" r="1.5"/>
<circle cx="439.7" cy="284.0" r="1.5"/>
<circle cx="429.5" cy="283.5" r="1.5"/>
<circle cx="450.6" cy="271.0" r="1.5"/>
<circle cx="431.9" cy="287.7" r="1.5"/>
<circle cx="445.1" cy="281.7" r="1.5"/>
<circle cx="451.1" cy="269.0" r="1.5"/>
<circle cx="437.4" cy="280.4" r="1.5"/>
<circle cx="439.8" cy="286.7" r="1.5"/>
<circle cx="457.1" cy="272.8" r="1.5"/>
<circle cx="445.6" cy="273.4" r="1.5"/>
<circle cx="450.6" cy="269.0" r="1.5"/>
<circle cx="444.2" cy="267.2" r="1.5"/>
<circle cx="438.0" cy="288.0" r="1.5"/>
<circle cx="432.2" cy="277.4" r="1.5"/>
<circle cx="440.4" cy="287.3" r="1.5"/>
<circle cx="455.8" cy="264.9" r="1.5"/>
<circle cx="437.5" cy="280.5" r="1.5"/>
<circle cx="433.2" cy="284.6" r="1.5"/>
<circle cx="439.1" cy="272.1" r="1.5"/>
<circle cx="436.5" cy="280.5" r="1.5"/>
<circle cx="433.8" cy="278.1" r="1.5"/>
<circle cx="450.6" cy="280.6" r="1.5"/>
<circle cx="439.3" cy="277.4" r="1.5"/>
<circle cx="446.8" cy="272.6" r="1.5"/>
<circle cx="434.6" cy="290.4" r="1.5"/>
<circle cx="432.1" cy="281.4" r="1.5"/>
<circle cx="435.7" cy="277.8" r="1.5"/>
<circle cx="439.7" cy="282.2" r="1.5"/>
<circle cx="455.7" cy="270.3" r="1.5"/>
<circle cx="442.3" cy="270.8" r="1.5"/>
<circle cx="441.4" cy="273.1" r="1.5"/>
<circle cx="441.1" cy="283.3" r="1.5"/>
<circle cx="443.9" cy="274.9" r="1.5"/>
<circle cx="434.8" cy="282.9" r="1.5"/>
<circle cx="443.1" cy="271.9" r="1.5"/>
<circle cx="437.2" cy="285.8" r="1.5"/>
<circle cx="426.2" cy="287.5" r="1.5"/>
<circle cx="430.9" cy="294.1" r="1.5"/>
<circle cx="447.7" cy="275.7" r="1.5"/>
<circle cx="445.8" cy="276.1" r="1.5"/>
<circle cx="444.8" cy="267.2" r="1.5"/>
<circle cx="444.4" cy="278.7" r="1.5"/>
<circle cx="428.4" cy="292.3" r="1.5"/>
<circle cx="448.3" cy="264.7" r="1.5"/>
<circle cx="437.5" cy="279.4" r="1.5"/>
<circle cx="437.0" cy="283.4" r="1.5"/>
<circle cx="429.9" cy="285.8" r="1.5"/>
<circle cx="444.1" cy="279.6" r="1.5"/>
<circle cx="442.5" cy="275.9" r="1.5"/>
<circle cx="448.6" cy="262.2" r="1.5"/>
<circle cx="450.9" cy="269.0" r="1.5"/>
<circle cx="430.1" cy="284.5" r="1.5"/>
<circle cx="424.6" cy="280.5" r="1.5"/>
<circle cx="438.9" cy="275.9" r="1.5"/>
<circle cx="449.0" cy="267.5" r="1.5"/>
<circle cx="429.7" cy="282.1" r="1.5"/>
<circle cx="458.3" cy="265.0" r="1.5"/>
<circle cx="436.2" cy="276.9" r="1.5"/>
<circle cx="431.6" cy="284.8" r="1.5"/>
<circle cx="446.1" cy="280.3" r="1.5"/>
<circle cx="452.9" cy="270.4" r="1.5"/>
<circle cx="435.7" cy="277.9" r="1.5"/>
<circle cx="420.0" cy="289.3" r="1.5"/>
<circle cx="446.0" cy="272.7" r="1.5"/>
<circle cx="445.5" cy="267.8" r="1.5"/>
<circle cx="450.5" cy="272.4" r="1.5"/>
<circle cx="442.4" cy="279.3" r="1.5"/>
<circle cx="420.8" cy="291.1" r="1.5"/>
<circle cx="433.5" cy="293.5" r="1.5"/>
<circle cx="440.3" cy="276.2" r="1.5"/>
<circle cx="450.1" cy="265.8" r="1.5"/>
<circle cx="455.5" cy="263.4" r="1.5"/>
<circle cx="441.4" cy="273.2" r="1.5"/>
<circle cx="449.7" cy="260.4" r="1.5"/>
<circle cx="448.6" cy="268.2" r="1.5"/>
<circle cx="442.5" cy="271.2" r="1.5"/>
<circle cx="444.2" cy="276.8" r="1.5"/>
<circle cx="447.6" cy="274.8" r="1.5"/>
<circle cx="447.9" cy="278.0" r="1.5"/>
<circle cx="438.3" cy="274.3" r="1.5"/>
<circle cx="429.9" cy="290.4" r="1.5"/>
<circle cx="438.4" cy="285.7" r="1.5"/>
<circle cx="442.4" cy="272.0" r="1.5"/>
<circle cx="450.6" cy="280.8" r="1.5"/>
<circle cx="440.3" cy="274.0" r="1.5"/>
<circle cx="434.0" cy="288.3" r="1.5"/>
<circle cx="436.4" cy="279.7" r="1.5"/>
<circle cx="448.5" cy="272.5" r="1.5"/>
<circle cx="443.1" cy="273.8" r="1.5"/>
<circle cx="435.9" cy="283.1" r="1.5"/>
<circle cx="443.5" cy="279.4" r="1.5"/>
<circle cx="437.3" cy="283.0" r="1.5"/>
<circle cx="446.5" cy="274.4" r="1.5"/>
<circle cx="447.4" cy="278.5" r="1.5"/>
<circle cx="443.9" cy="276.4" r="1.5"/>
<circle cx="432.8" cy="286.3" r="1.5"/>
<circle cx="441.1" cy="276.6" r="1.5"/>
<circle cx="434.2" cy="286.5" r="1.5"/>
<circle cx="466.3" cy="260.8" r="1.5"/>
<circle cx="442.8" cy="279.1" r="1.5"/>
<circle cx="436.4" cy="282.4" r="1.5"/>
<circle cx="435.7" cy="279.1" r="1.5"/>
<circle cx="444.2" cy="277.0" r="1.5"/>
<circle cx="440.9" cy="274.2" r="1.5"/>
<circle cx="444.5" cy="270.0" r="1.5"/>
<circle cx="449.3" cy="270.0" r="1.5"/>
<circle cx="442.0" cy="281.5" r="1.5"/>
<circle cx="447.3" cy="266.7" r="1.5"/>
<circle cx="439.6" cy="281.2" r="1.5"/>
<circle cx="431.7" cy="273.1" r="1.5"/>
<circle cx="441.3" cy="277.8" r="1.5"/>
<circle cx="446.1" cy="274.8" r="1.5"/>
<circle cx="443.2" cy="277.8" r="1.5"/>
<circle cx="455.1" cy="269.9" r="1.5"/>
<circle cx="447.2" cy="271.5" r="1.5"/>
<circle cx="452.7" cy="268.3" r="1.5"/>
<circle cx="449.0" cy="261.2" r="1.5"/>
<circle cx="444.3" cy="275.2" r="1.5"/>
<circle cx="437.6" cy="287.5" r="1.5"/>
<circle cx="445.8" cy="273.8" r="1.5"/>
<circle cx="437.0" cy="291.0" r="1.5"/>
<circle cx="449.1" cy="275.4" r="1.5"/>
<circle cx="434.8" cy="289.8" r="1.5"/>
<circle cx="447.3" cy="272.0" r="1.5"/>
<circle cx="441.0" cy="269.9" r="1.5"/>
<circle cx="448.2" cy="267.1" r="1.5"/>
<circle cx="450.0" cy="269.0" r="1.5"/>
<circle cx="436.1" cy="284.0" r="1.5"/>
<circle cx="444.0" cy="270.1" r="1.5"/>
<circle cx="441.3" cy="281.2" r="1.5"/>
<circle cx="439.6" cy="272.4" r="1.5"/>
<circle cx="439.7" cy="274.3" r="1.5"/>
<circle cx="436.5" cy="282.0" r="1.5"/>
<circle cx="441.5" cy="276.8" r="1.5"/>
<circle cx="426.3" cy="291.5" r="1.5"/>
<circle cx="440.1" cy="276.9" r="1.5"/>
<circle cx="443.5" cy="286.2" r="1.5"/>
<circle cx="429.8" cy="278.7" r="1.5"/>
<circle cx="449.2" cy="267.8" r="1.5"/>
<circle cx="454.3" cy="262.9" r="1.5"/>
<circle cx="437.4" cy="285.3" r="1.5"/>
<circle cx="450.6" cy="273.1" r="1.5"/>
<circle cx="446.3" cy="273.5" r="1.5"/>
<circle cx="437.8" cy="279.7" r="1.5"/>
<circle cx="454.0" cy="271.8" r="1.5"/>
<circle cx="442.2" cy="279.0" r="1.5"/>
<circle cx="449.8" cy="277.5" r="1.5"/>
<circle cx="440.8" cy="278.1" r="1.5"/>
<circle cx="445.1" cy="288.4" r="1.5"/>
<circle cx="444.3" cy="282.2" r="1.5"/>
<circle cx="427.5" cy="293.1" r="1.5"/>
<circle cx="428.7" cy="282.3" r="1.5"/>
<circle cx="436.0" cy="281.4" r="1.5"/>
<circle cx="443.7" cy="278.1" r="1.5"/>
<circle cx="444.1" cy="273.6" r="1.5"/>
<circle cx="466.5" cy="260.5" r="1.5"/>
<circle cx="448.3" cy="283.0" r="1.5"/>
<circle cx="451.1" cy="273.4" r="1.5"/>
<circle cx="445.0" cy="284.7" r="1.5"/>
<circle cx="431.8" cy="280.5" r="1.5"/>
<circle cx="443.4" cy="266.0" r="1.5"/>
<circle cx="434.7" cy="289.0" r="1.5"/>
<circle cx="437.7" cy="281.7" r="1.5"/>
<circle cx="448.5" cy="266.5" r="1.5"/>
<circle cx="444.6" cy="272.3" r="1.5"/>
<circle cx="431.7" cy="284.1" r="1.5"/>
<circle cx="441.5" cy="275.9" r="1.5"/>
<circle cx="435.8" cy="287.2" r="1.5"/>
<circle cx="452.9" cy="271.9" r="1.5"/>
<circle cx="441.1" cy="272.8" r="1.5"/>
<circle cx="434.3" cy="277.9" r="1.5"/>
<circle cx="444.0" cy="280.6" r="1.5"/>
<circle cx="450.6" cy="270.7" r="1.5"/>
<circle cx="438.4" cy="281.2" r="1.5"/>
<circle cx="443.1" cy="279.6" r="1.5"/>
<circle cx="455.9" cy="263.2" r="1.5"/>
<circle cx="461.7" cy="251.5" r="1.5"/>
<circle cx="425.2" cy="282.8" r="1.5"/>
<circle cx="432.4" cy="283.8" r="1.5"/>
<circle cx="461.4" cy="258.8" r="1.5"/>
<circle cx="452.4" cy="267.6" r="1.5"/>
<circle cx="443.4" cy="271.2" r="1.5"/>
<circle cx="463.4" cy="260.7" r="1.5"/>
<circle cx="436.2" cy="293.6" r="1.5"/>
<circle cx="443.7" cy="278.3" r="1.5"/>
<circle cx="440.6" cy="274.3" r="1.5"/>
<circle cx="428.5" cy="287.1" r="1.5"/>
<circle cx="457.2" cy="267.8" r="1.5"/>
<circle cx="440.4" cy="284.2" r="1.5"/>
<circle cx="433.2" cy="291.3" r="1.5"/>
<circle cx="441.8" cy="273.4" r="1.5"/>
<circle cx="448.4" cy="275.2" r="1.5"/>
<circle cx="438.8" cy="281.1" r="1.5"/>
<circle cx="451.2" cy="277.5" r="1.5"/>
<circle cx="434.0" cy="270.3" r="1.5"/>
<circle cx="461.3" cy="261.2" r="1.5"/>
<circle cx="438.1" cy="282.7" r="1.5"/>
<circle cx="438.0" cy="285.9" r="1.5"/>
<circle cx="430.3" cy="285.6" r="1.5"/>
<circle cx="430.2" cy="294.5" r="1.5"/>
<circle cx="439.7" cy="284.9" r="1.5"/>
<circle cx="455.1" cy="261.3" r="1.5"/>
<circle cx="439.9" cy="282.8" r="1.5"/>
<circle cx="442.5" cy="276.4" r="1.5"/>
<circle cx="449.9" cy="276.0" r="1.5"/>
<circle cx="436.4" cy="281.1" r="1.5"/>
<circle cx="448.1" cy="273.8" r="1.5"/>
<circle cx="443.3" cy="270.7" r="1.5"/>
<circle cx="458.5" cy="263.5" r="1.5"/>
<circle cx="444.5" cy="275.4" r="1.5"/>
<circle cx="442.6" cy="277.8" r="1.5"/>
<circle cx="434.1" cy="285.5" r="1.5"/>
<circle cx="453.3" cy="270.8" r="1.5"/>
<circle cx="448.8" cy="274.7" r="1.5"/>
<circle cx="442.3" cy="286.5" r="1.5"/>
<circle cx="435.6" cy="284.5" r="1.5"/>
<circle cx="451.7" cy="271.5" r="1.5"/>
<circle cx="432.1" cy="279.7" r="1.5"/>
<circle cx="456.7" cy="261.2" r="1.5"/>
<circle cx="442.1" cy="280.2" r="1.5"/>
<circle cx="442.9" cy="267.7" r="1.5"/>
<circle cx="424.1" cy="290.9" r="1.5"/>
<circle cx="434.7" cy="281.8" r="1.5"/>
<circle cx="442.9" cy="277.7" r="1.5"/>
<circle cx="429.4" cy="278.7" r="1.5"/>
<circle cx="450.9" cy="267.4" r="1.5"/>
<circle cx="430.9" cy="275.9" r="1.5"/>
<circle cx="447.1" cy="267.1" r="1.5"/>
<circle cx="432.1" cy="288.4" r="1.5"/>
<circle cx="444.9" cy="278.1" r="1.5"/>
<circle cx="430.1" cy="272.1" r="1.5"/>
</g>
<g fill="#a5a5a5" fill-opacity="0.5">
<circle cx="420.0" cy="268.0" r="1.5"/>
<circle cx="425.0" cy="270.0" r="1.5"/>
<circle cx="417.0" cy="265.0" r="1.5"/>
<circle cx="432.0" cy="262.0" r="1.5"/>
<circle cx="448.0" cy="255.0" r="1.5"/>
<circle cx="452.0" cy="252.0" r="1.5"/>
<circle cx="460.0" cy="256.0" r="1.5"/>
<circle cx="470.0" cy="262.0" r="1.5"/>
<circle cx="478.0" cy="263.0" r="1.5"/>
<circle cx="480.0" cy="270.0" r="1.5"/>
<circle cx="475.0" cy="280.0" r="1.5"/>
<circle cx="466.0" cy="282.0" r="1.5"/>
<circle cx="460.0" cy="290.0" r="1.5"/>
<circle cx="455.0" cy="292.0" r="1.5"/>
<circle cx="448.0" cy="296.0" r="1.5"/>
<circle cx="430.0" cy="300.0" r="1.5"/>
<circle cx="425.0" cy="282.0" r="1.5"/>
<circle cx="415.0" cy="290.0" r="1.5"/>
</g>
<g fill="#a5a5a5" fill-opacity="0.5">
<circle cx="598.3" cy="281.6" r="1.5"/>
<circle cx="594.1" cy="281.8" r="1.5"/>
<circle cx="605.9" cy="279.7" r="1.5"/>
<circle cx="611.3" cy="271.1" r="1.5"/>
<circle cx="598.6" cy="274.8" r="1.5"/>
<circle cx="591.3" cy="279.4" r="1.5"/>
<circle cx="599.9" cy="281.0" r="1.5"/>
<circle cx="602.3" cy="290.9" r="1.5"/>
<circle cx="605.3" cy="268.3" r="1.5"/>
<circle cx="599.7" cy="275.1" r="1.5"/>
<circle cx="593.6" cy="287.4" r="1.5"/>
<circle cx="596.1" cy="268.2" r="1.5"/>
<circle cx="600.6" cy="276.8" r="1.5"/>
<circle cx="588.0" cy="275.8" r="1.5"/>
<circle cx="592.7" cy="280.0" r="1.5"/>
<circle cx="594.4" cy="280.2" r="1.5"/>
<circle cx="613.6" cy="271.1" r="1.5"/>
<circle cx="591.1" cy="279.0" r="1.5"/>
<circle cx="607.3" cy="273.0" r="1.5"/>
<circle cx="610.2" cy="268.9" r="1.5"/>
<circle cx="589.2" cy="280.5" r="1.5"/>
<circle cx="590.7" cy="277.0" r="1.5"/>
<circle cx="601.8" cy="282.3" r="1.5"/>
<circle cx="599.0" cy="277.2" r="1.5"/>
<circle cx="609.4" cy="278.9" r="1.5"/>
<circle cx="596.0" cy="286.4" r="1.5"/>
<circle cx="590.3" cy="281.6" r="1.5"/>
<circle cx="603.6" cy="277.7" r="1.5"/>
<circle cx="593.1" cy="282.0" r="1.5"/>
<circle cx="593.4" cy="276.6" r="1.5"/>
<circle cx="589.3" cy="288.3" r="1.5"/>
<circle cx="593.3" cy="286.6" r="1.5"/>
<circle cx="601.2" cy="276.8" r="1.5"/>
<circle cx="603.7" cy="279.4" r="1.5"/>
<circle cx="599.1" cy="270.9" r="1.5"/>
<circle cx="598.6" cy="284.0" r="1.5"/>
<circle cx="602.1" cy="283.8" r="1.5"/>
<circle cx="610.7" cy="278.7" r="1.5"/>
<circle cx="614.8" cy="266.8" r="1.5"/>
<circle cx="596.0" cy="265.0" r="1.5"/>
<circle cx="605.0" cy="278.1" r="1.5"/>
<circle cx="612.4" cy="273.9" r="1.5"/>
<circle cx="580.8" cy="290.0" r="1.5"/>
<circle cx="586.6" cy="274.2" r="1.5"/>
<circle cx="596.5" cy="282.9" r="1.5"/>
<circle cx="593.7" cy="281.0" r="1.5"/>
<circle cx="582.0" cy="292.3" r="1.5"/>
<circle cx="597.4" cy="279.8" r="1.5"/>
<circle cx="603.0" cy="278.9" r="1.5"/>
<circle cx="599.7" cy="273.3" r="1.5"/>
<circle cx="597.0" cy="281.7" r="1.5"/>
<circle cx="606.9" cy="276.4" r="1.5"/>
<circle cx="598.8" cy="280.8" r="1.5"/>
<circle cx="602.9" cy="279.2" r="1.5"/>
<circle cx="595.9" cy="276.5" r="1.5"/>
<circle cx="607.5" cy="278.7" r="1.5"/>
<circle cx="598.2" cy="298.9" r="1.5"/>
<circle cx="605.5" cy="282.3" r="1.5"/>
<circle cx="599.3" cy="272.9" r="1.5"/>
<circle cx="607.7" cy="276.4" r="1.5"/>
<circle cx="598.4" cy="284.8" r="1.5"/>
<circle cx="606.7" cy="278.5" r="1.5"/>
<circle cx="598.2" cy="291.0" r="1.5"/>
<circle cx="602.9" cy="272.1" r="1.5"/>
<circle cx="604.4" cy="278.5" r="1.5"/>
<circle cx="598.3" cy="282.8" r="1.5"/>
<circle cx="600.0" cy="290.1" r="1.5"/>
<circle cx="599.7" cy="280.1" r="1.5"/>
<circle cx="607.9" cy="273.7" r="1.5"/>
<circle cx="606.6" cy="276.8" r="1.5"/>
<circle cx="608.1" cy="272.0" r="1.5"/>
<circle cx="601.6" cy="269.1" r="1.5"/>
<circle cx="594.2" cy="279.9" r="1.5"/>
<circle cx="602.2" cy="289.4" r="1.5"/>
<circle cx="613.6" cy="268.0" r="1.5"/>
<circle cx="591.6" cy="287.5" r="1.5"/>
<circle cx="601.7" cy="270.4" r="1.5"/>
<circle cx="602.1" cy="271.7" r="1.5"/>
<circle cx="590.7" cy="273.3" r="1.5"/>
<circle cx="595.8" cy="292.3" r="1.5"/>
<circle cx="601.2" cy="277.7" r="1.5"/>
<circle cx="619.4" cy="271.8" r="1.5"/>
<circle cx="596.7" cy="277.8" r="1.5"/>
<circle cx="601.6" cy="276.5" r="1.5"/>
<circle cx="610.4" cy="274.7" r="1.5"/>
<circle cx="602.8" cy="279.3" r="1.5"/>
<circle cx="590.7" cy="275.0" r="1.5"/>
<circle cx="597.6" cy="266.0" r="1.5"/>
<circle cx="598.1" cy="279.4" r="1.5"/>
<circle cx="599.2" cy="278.3" r="1.5"/>
<circle cx="601.0" cy="276.4" r="1.5"/>
<circle cx="603.5" cy="268.5" r="1.5"/>
<circle cx="605.7" cy="272.3" r="1.5"/>
<circle cx="602.1" cy="275.5" r="1.5"/>
<circle cx="594.4" cy="275.2" r="1.5"/>
<circle cx="609.4" cy="270.4" r="1.5"/>
<circle cx="587.8" cy="282.4" r="1.5"/>
<circle cx="600.2" cy="278.8" r="1.5"/>
<circle cx="589.8" cy="277.0" r="1.5"/>
<circle cx="605.7" cy="271.5" r="1.5"/>
<circle cx="603.2" cy="282.1" r="1.5"/>
<circle cx="599.1" cy="271.8" r="1.5"/>
<circle cx="614.2" cy="276.3" r="1.5"/>
<circle cx="599.7" cy="276.5" r="1.5"/>
<circle cx="590.0" cy="279.2" r="1.5"/>
<circle cx="599.7" cy="273.8" r="1.5"/>
<circle cx="599.0" cy="285.4" r="1.5"/>
<circle cx="601.7" cy="277.7" r="1.5"/>
<circle cx="606.9" cy="282.4" r="1.5"/>
<circle cx="605.7" cy="272.9" r="1.5"/>
<circle cx="582.6" cy="286.8" r="1.5"/>
<circle cx="598.5" cy="276.8" r="1.5"/>
<circle cx="602.1" cy="275.6" r="1.5"/>
<circle cx="592.8" cy="290.4" r="1.5"/>
<circle cx="584.6" cy="286.6" r="1.5"/>
<circle cx="606.6" cy="287.3" r="1.5"/>
<circle cx="600.2" cy="281.5" r="1.5"/>
<circle cx="590.3" cy="280.8" r="1.5"/>
<circle cx="580.2" cy="279.5" r="1.5"/>
<circle cx="597.8" cy="278.5" r="1.5"/>
<circle cx="594.0" cy="286.5" r="1.5"/>
<circle cx="584.6" cy="282.6" r="1.5"/>
<circle cx="594.6" cy="279.9" r="1.5"/>
<circle cx="598.5" cy="290.0" r="1.5"/>
<circle cx="589.0" cy="288.6" r="1.5"/>
<circle cx="609.9" cy="275.8" r="1.5"/>
<circle cx="592.8" cy="273.1" r="1.5"/>
<circle cx="590.7" cy="292.2" r="1.5"/>
<circle cx="579.7" cy="285.5" r="1.5"/>
<circle cx="592.1" cy="291.1" r="1.5"/>
<circle cx="600.7" cy="270.8" r="1.5"/>
<circle cx="593.6" cy="281.0" r="1.5"/>
<circle cx="599.1" cy="273.4" r="1.5"/>
<circle cx="595.6" cy="276.9" r="1.5"/>
<circle cx="602.1" cy="279.7" r="1.5"/>
<circle cx="599.9" cy="275.3" r="1.5"/>
<circle cx="604.7" cy="274.4" r="1.5"/>
<circle cx="591.0" cy="278.0" r="1.5"/>
<circle cx="595.3" cy="277.8" r="1.5"/>
<circle cx="581.7" cy="290.2" r="1.5"/>
<circle cx="603.3" cy="285.4" r="1.5"/>
<circle cx="594.7" cy="284.0" r="1.5"/>
<circle cx="599.7" cy="278.8" r="1.5"/>
<circle cx="613.2" cy="272.4" r="1.5"/>
<circle cx="602.9" cy="268.1" r="1.5"/>
<circle cx="602.8" cy="277.0" r="1.5"/>
<circle cx="589.4" cy="277.4" r="1.5"/>
<circle cx="580.1" cy="276.8" r="1.5"/>
<circle cx="599.4" cy="263.7" r="1.5"/>
<circle cx="607.2" cy="282.6" r="1.5"/>
<circle cx="591.6" cy="271.9" r="1.5"/>
<circle cx="586.2" cy="274.2" r="1.5"/>
<circle cx="591.6" cy="292.8" r="1.5"/>
<circle cx="588.5" cy="285.3" r="1.5"/>
<circle cx="608.6" cy="271.4" r="1.5"/>
<circle cx="595.7" cy="283.3" r="1.5"/>
<circle cx="592.5" cy="287.3" r="1.5"/>
<circle cx="616.2" cy="274.9" r="1.5"/>
<circle cx="591.0" cy="283.9" r="1.5"/>
<circle cx="600.9" cy="274.1" r="1.5"/>
<circle cx="596.8" cy="279.7" r="1.5"/>
<circle cx="602.3" cy="284.6" r="1.5"/>
<circle cx="593.9" cy="272.5" r="1.5"/>
<circle cx="584.3" cy="292.5" r="1.5"/>
<circle cx="594.5" cy="277.4" r="1.5"/>
<circle cx="618.9" cy="281.0" r="1.5"/>
<circle cx="617.0" cy="274.0" r="1.5"/>
<circle cx="592.2" cy="277.2" r="1.5"/>
<circle cx="603.5" cy="280.2" r="1.5"/>
<circle cx="601.4" cy="291.2" r="1.5"/>
<circle cx="609.5" cy="270.4" r="1.5"/>
<circle cx="601.7" cy="281.6" r="1.5"/>
<circle cx="591.7" cy="293.6" r="1.5"/>
<circle cx="605.8" cy="286.0" r="1.5"/>
<circle cx="593.5" cy="273.4" r="1.5"/>
<circle cx="604.4" cy="276.5" r="1.5"/>
<circle cx="593.1" cy="279.5" r="1.5"/>
<circle cx="599.8" cy="279.5" r="1.5"/>
<circle cx="596.2" cy="282.0" r="1.5"/>
<circle cx="622.7" cy="280.5" r="1.5"/>
<circle cx="593.7" cy="291.6" r="1.5"/>
<circle cx="593.9" cy="271.0" r="1.5"/>
<circle cx="586.2" cy="269.8" r="1.5"/>
<circle cx="607.8" cy="270.6" r="1.5"/>
<circle cx="585.8" cy="278.3" r="1.5"/>
<circle cx="596.2" cy="272.2" r="1.5"/>
<circle cx="593.1" cy="280.0" r="1.5"/>
<circle cx="603.5" cy="272.4" r="1.5"/>
<circle cx="602.7" cy="279.4" r="1.5"/>
<circle cx="602.6" cy="274.9" r="1.5"/>
<circle cx="588.0" cy="286.6" r="1.5"/>
<circle cx="602.9" cy="274.1" r="1.5"/>
<circle cx="591.2" cy="284.3" r="1.5"/>
<circle cx="615.1" cy="277.4" r="1.5"/>
<circle cx="619.4" cy="276.2" r="1.5"/>
<circle cx="600.9" cy="281.1" r="1.5"/>
<circle cx="607.2" cy="268.4" r="1.5"/>
<circle cx="599.2" cy="286.0" r="1.5"/>
<circle cx="584.6" cy="283.2" r="1.5"/>
<circle cx="604.3" cy="287.5" r="1.5"/>
<circle cx="611.3" cy="276.0" r="1.5"/>
<circle cx="615.6" cy="268.9" r="1.5"/>
<circle cx="586.0" cy="289.2" r="1.5"/>
<circle cx="603.7" cy="271.2" r="1.5"/>
<circle cx="607.2" cy="282.0" r="1.5"/>
<circle cx="604.2" cy="275.1" r="1.5"/>
<circle cx="587.1" cy="271.6" r="1.5"/>
<circle cx="596.1" cy="278.5" r="1.5"/>
<circle cx="593.6" cy="276.7" r="1.5"/>
<circle cx="605.9" cy="270.8" r="1.5"/>
<circle cx="591.6" cy="291.7" r="1.5"/>
<circle cx="592.5" cy="276.5" r="1.5"/>
<circle cx="607.0" cy="266.7" r="1.5"/>
<circle cx="611.8" cy="268.7" r="1.5"/>
<circle cx="590.8" cy="273.1" r="1.5"/>
<circle cx="589.8" cy="276.5" r="1.5"/>
<circle cx="605.9" cy="276.9" r="1.5"/>
<circle cx="609.7" cy="281.0" r="1.5"/>
<circle cx="587.3" cy="281.3" r="1.5"/>
<circle cx="592.7" cy="277.6" r="1.5"/>
<circle cx="599.0" cy="280.9" r="1.5"/>
<circle cx="601.7" cy="266.0" r="1.5"/>
<circle cx="596.6" cy="276.6" r="1.5"/>
<circle cx="613.8" cy="274.2" r="1.5"/>
<circle cx="597.6" cy="279.1" r="1.5"/>
<circle cx="604.6" cy="271.0" r="1.5"/>
<circle cx="596.8" cy="278.5" r="1.5"/>
<circle cx="597.8" cy="277.5" r="1.5"/>
<circle cx="593.3" cy="280.4" r="1.5"/>
<circle cx="586.6" cy="290.7" r="1.5"/>
<circle cx="597.8" cy="268.5" r="1.5"/>
<circle cx="595.5" cy="285.0" r="1.5"/>
<circle cx="596.2" cy="278.5" r="1.5"/>
<circle cx="578.3" cy="291.3" r="1.5"/>
<circle cx="598.4" cy="267.5" r="1.5"/>
<circle cx="594.1" cy="288.2" r="1.5"/>
<circle cx="601.2" cy="269.6" r="1.5"/>
<circle cx="593.1" cy="281.4" r="1.5"/>
<circle cx="615.6" cy="276.6" r="1.5"/>
<circle cx="604.2" cy="275.8" r="1.5"/>
<circle cx="598.3" cy="273.1" r="1.5"/>
<circle cx="586.6" cy="273.5" r="1.5"/>
<circle cx="592.9" cy="287.3" r="1.5"/>
<circle cx="597.6" cy="285.9" r="1.5"/>
<circle cx="604.5" cy="278.5" r="1.5"/>
<circle cx="593.6" cy="292.3" r="1.5"/>
<circle cx="607.6" cy="284.1" r="1.5"/>
<circle cx="619.3" cy="283.2" r="1.5"/>
<circle cx="599.9" cy="280.8" r="1.5"/>
<circle cx="602.7" cy="290.9" r="1.5"/>
<circle cx="589.3" cy="270.3" r="1.5"/>
<circle cx="593.8" cy="279.9" r="1.5"/>
<circle cx="593.0" cy="285.4" r="1.5"/>
<circle cx="603.1" cy="277.7" r="1.5"/>
<circle cx="598.6" cy="289.9" r="1.5"/>
<circle cx="615.1" cy="285.4" r="1.5"/>
<circle cx="594.8" cy="286.8" r="1.5"/>
<circle cx="588.1" cy="270.5" r="1.5"/>
<circle cx="612.6" cy="281.0" r="1.5"/>
<circle cx="603.8" cy="286.0" r="1.5"/>
<circle cx="612.3" cy="277.6" r="1.5"/>
<circle cx="600.4" cy="282.0" r="1.5"/>
<circle cx="605.3" cy="278.5" r="1.5"/>
<circle cx="586.6" cy="295.8" r="1.5"/>
<circle cx="591.7" cy="277.0" r="1.5"/>
<circle cx="603.2" cy="277.7" r="1.5"/>
<circle cx="602.6" cy="292.0" r="1.5"/>
<circle cx="610.3" cy="273.8" r="1.5"/>
<circle cx="600.9" cy="278.1" r="1.5"/>
<circle cx="608.9" cy="271.6" r="1.5"/>
<circle cx="589.9" cy="271.1" r="1.5"/>
<circle cx="602.5" cy="280.4" r="1.5"/>
<circle cx="604.3" cy="282.6" r="1.5"/>
<circle cx="587.8" cy="279.1" r="1.5"/>
<circle cx="588.9" cy="288.1" r="1.5"/>
<circle cx="605.6" cy="269.2" r="1.5"/>
<circle cx="602.8" cy="278.8" r="1.5"/>
<circle cx="599.2" cy="282.9" r="1.5"/>
<circle cx="593.0" cy="278.4" r="1.5"/>
<circle cx="592.5" cy="276.5" r="1.5"/>
<circle cx="589.3" cy="287.6" r="1.5"/>
<circle cx="603.2" cy="276.6" r="1.5"/>
<circle cx="584.1" cy="295.1" r="1.5"/>
<circle cx="598.5" cy="280.2" r="1.5"/>
<circle cx="603.7" cy="287.8" r="1.5"/>
<circle cx="595.6" cy="266.1" r="1.5"/>
<circle cx="595.5" cy="279.6" r="1.5"/>
<circle cx="593.3" cy="288.6" r="1.5"/>
<circle cx="594.4" cy="281.7" r="1.5"/>
<circle cx="591.3" cy="284.9" r="1.5"/>
<circle cx="592.3" cy="285.1" r="1.5"/>
<circle cx="599.4" cy="279.8" r="1.5"/>
<circle cx="600.9" cy="269.3" r="1.5"/>
<circle cx="594.3" cy="281.2" r="1.5"/>
<circle cx="594.9" cy="286.7" r="1.5"/>
<circle cx="605.7" cy="273.3" r="1.5"/>
<circle cx="608.3" cy="275.7" r="1.5"/>
<circle cx="602.9" cy="285.1" r="1.5"/>
<circle cx="588.7" cy="276.4" r="1.5"/>
<circle cx="597.7" cy="277.8" r="1.5"/>
</g>
<g fill="#a5a5a5" fill-opacity="0.5">
<circle cx="578.0" cy="270.0" r="1.5"/>
<circle cx="582.0" cy="265.0" r="1.5"/>
<circle cx="586.0" cy="272.0" r="1.5"/>
<circle cx="590.0" cy="268.0" r="1.5"/>
<circle cx="575.0" cy="283.0" r="1.5"/>
<circle cx="572.0" cy="282.0" r="1.5"/>
<circle cx="577.0" cy="296.0" r="1.5"/>
<circle cx="580.0" cy="298.0" r="1.5"/>
<circle cx="585.0" cy="297.0" r="1.5"/>
<circle cx="592.0" cy="300.0" r="1.5"/>
<circle cx="608.0" cy="300.0" r="1.5"/>
<circle cx="612.0" cy="290.0" r="1.5"/>
<circle cx="620.0" cy="282.0" r="1.5"/>
<circle cx="626.0" cy="270.0" r="1.5"/>
<circle cx="631.0" cy="269.0" r="1.5"/>
<circle cx="620.0" cy="270.0" r="1.5"/>
<circle cx="606.0" cy="263.0" r="1.5"/>
<circle cx="611.0" cy="260.0" r="1.5"/>
</g>
<line x1="58.50" y1="277.30" x2="207.70" y2="277.30" stroke="#1a1a1a" stroke-width="1" />
<line x1="123.90" y1="200.00" x2="123.90" y2="328.80" stroke="#1a1a1a" stroke-width="1" />
<line x1="218.50" y1="277.30" x2="368.00" y2="277.30" stroke="#1a1a1a" stroke-width="1" />
<line x1="284.20" y1="200.00" x2="284.20" y2="328.80" stroke="#1a1a1a" stroke-width="1" />
<line x1="378.75" y1="277.30" x2="528.20" y2="277.30" stroke="#1a1a1a" stroke-width="1" />
<line x1="444.40" y1="200.00" x2="444.40" y2="328.80" stroke="#1a1a1a" stroke-width="1" />
<line x1="536.00" y1="277.30" x2="685.10" y2="277.30" stroke="#1a1a1a" stroke-width="1" />
<line x1="601.30" y1="200.00" x2="601.30" y2="328.80" stroke="#1a1a1a" stroke-width="1" />
<g fill="#000">
<circle cx="112.1" cy="247.5" r="1.65"/>
<circle cx="115.8" cy="255.9" r="1.65"/>
<circle cx="65.0" cy="268.9" r="1.65"/>
<circle cx="72.5" cy="268.4" r="1.65"/>
<circle cx="75.1" cy="273.4" r="1.65"/>
<circle cx="81.1" cy="264.7" r="1.65"/>
<circle cx="82.7" cy="260.6" r="1.65"/>
<circle cx="84.9" cy="259.1" r="1.65"/>
<circle cx="86.8" cy="260.0" r="1.65"/>
<circle cx="87.4" cy="262.5" r="1.65"/>
<circle cx="88.0" cy="264.4" r="1.65"/>
<circle cx="89.6" cy="264.1" r="1.65"/>
<circle cx="90.5" cy="262.5" r="1.65"/>
<circle cx="91.4" cy="260.0" r="1.65"/>
<circle cx="92.4" cy="259.1" r="1.65"/>
<circle cx="94.9" cy="260.3" r="1.65"/>
<circle cx="96.1" cy="258.4" r="1.65"/>
<circle cx="97.4" cy="257.8" r="1.65"/>
<circle cx="99.2" cy="258.1" r="1.65"/>
<circle cx="100.8" cy="258.8" r="1.65"/>
<circle cx="102.7" cy="259.4" r="1.65"/>
<circle cx="104.2" cy="260.0" r="1.65"/>
<circle cx="105.8" cy="260.6" r="1.65"/>
<circle cx="108.0" cy="260.3" r="1.65"/>
<circle cx="96.8" cy="263.1" r="1.65"/>
<circle cx="98.0" cy="264.4" r="1.65"/>
<circle cx="99.9" cy="265.3" r="1.65"/>
<circle cx="101.4" cy="266.2" r="1.65"/>
<circle cx="102.4" cy="265.0" r="1.65"/>
<circle cx="107.4" cy="263.1" r="1.65"/>
<circle cx="108.0" cy="265.3" r="1.65"/>
<circle cx="109.2" cy="267.5" r="1.65"/>
<circle cx="110.5" cy="268.8" r="1.65"/>
<circle cx="106.4" cy="270.0" r="1.65"/>
<circle cx="104.9" cy="271.6" r="1.65"/>
<circle cx="103.0" cy="273.1" r="1.65"/>
<circle cx="101.4" cy="274.4" r="1.65"/>
<circle cx="99.9" cy="275.6" r="1.65"/>
<circle cx="98.0" cy="276.9" r="1.65"/>
<circle cx="96.1" cy="278.1" r="1.65"/>
<circle cx="95.8" cy="279.7" r="1.65"/>
<circle cx="98.6" cy="278.4" r="1.65"/>
<circle cx="101.8" cy="277.5" r="1.65"/>
<circle cx="103.6" cy="276.2" r="1.65"/>
<circle cx="105.5" cy="275.0" r="1.65"/>
<circle cx="107.4" cy="273.8" r="1.65"/>
<circle cx="109.2" cy="272.5" r="1.65"/>
<circle cx="111.1" cy="270.6" r="1.65"/>
<circle cx="112.1" cy="273.8" r="1.65"/>
<circle cx="113.0" cy="275.6" r="1.65"/>
<circle cx="113.6" cy="276.9" r="1.65"/>
<circle cx="110.5" cy="276.2" r="1.65"/>
<circle cx="108.0" cy="277.5" r="1.65"/>
<circle cx="104.2" cy="279.4" r="1.65"/>
<circle cx="100.5" cy="276.2" r="1.65"/>
<circle cx="106.8" cy="271.9" r="1.65"/>
<circle cx="154.1" cy="265.6" r="1.65"/>
<circle cx="153.1" cy="276.2" r="1.65"/>
<circle cx="135.0" cy="277.8" r="1.65"/>
<circle cx="136.9" cy="278.1" r="1.65"/>
<circle cx="139.4" cy="277.2" r="1.65"/>
<circle cx="141.2" cy="278.1" r="1.65"/>
<circle cx="143.1" cy="277.8" r="1.65"/>
<circle cx="145.0" cy="278.1" r="1.65"/>
<circle cx="146.9" cy="278.4" r="1.65"/>
<circle cx="140.0" cy="280.3" r="1.65"/>
<circle cx="141.9" cy="280.0" r="1.65"/>
<circle cx="143.8" cy="280.6" r="1.65"/>
<circle cx="140.0" cy="282.2" r="1.65"/>
<circle cx="144.4" cy="281.9" r="1.65"/>
<circle cx="148.8" cy="280.0" r="1.65"/>
<circle cx="150.0" cy="281.6" r="1.65"/>
<circle cx="151.2" cy="282.5" r="1.65"/>
<circle cx="150.6" cy="284.7" r="1.65"/>
<circle cx="154.4" cy="280.3" r="1.65"/>
<circle cx="156.2" cy="281.2" r="1.65"/>
<circle cx="157.5" cy="279.4" r="1.65"/>
<circle cx="159.4" cy="278.1" r="1.65"/>
<circle cx="161.2" cy="277.5" r="1.65"/>
<circle cx="162.5" cy="279.4" r="1.65"/>
<circle cx="163.8" cy="276.9" r="1.65"/>
<circle cx="134.4" cy="284.4" r="1.65"/>
<circle cx="136.9" cy="285.6" r="1.65"/>
<circle cx="133.1" cy="286.9" r="1.65"/>
<circle cx="140.0" cy="286.2" r="1.65"/>
<circle cx="142.5" cy="286.6" r="1.65"/>
<circle cx="140.0" cy="288.8" r="1.65"/>
<circle cx="141.9" cy="289.4" r="1.65"/>
<circle cx="143.8" cy="290.0" r="1.65"/>
<circle cx="146.9" cy="287.2" r="1.65"/>
<circle cx="149.4" cy="288.4" r="1.65"/>
<circle cx="129.7" cy="289.1" r="1.65"/>
<circle cx="130.6" cy="290.3" r="1.65"/>
<circle cx="127.5" cy="292.2" r="1.65"/>
<circle cx="134.7" cy="292.2" r="1.65"/>
<circle cx="139.7" cy="293.4" r="1.65"/>
<circle cx="143.1" cy="295.0" r="1.65"/>
<circle cx="146.2" cy="293.4" r="1.65"/>
<circle cx="147.8" cy="294.4" r="1.65"/>
<circle cx="149.1" cy="292.5" r="1.65"/>
<circle cx="152.5" cy="290.6" r="1.65"/>
<circle cx="152.5" cy="293.8" r="1.65"/>
<circle cx="156.9" cy="292.2" r="1.65"/>
<circle cx="158.8" cy="290.6" r="1.65"/>
<circle cx="160.3" cy="289.1" r="1.65"/>
<circle cx="161.6" cy="288.4" r="1.65"/>
<circle cx="165.7" cy="289.3" r="1.65"/>
<circle cx="166.3" cy="285.6" r="1.65"/>
<circle cx="170.0" cy="281.8" r="1.65"/>
<circle cx="170.6" cy="270.5" r="1.65"/>
<circle cx="172.2" cy="269.8" r="1.65"/>
<circle cx="175.4" cy="269.2" r="1.65"/>
<circle cx="166.0" cy="280.0" r="1.65"/>
<circle cx="168.0" cy="278.0" r="1.65"/>
<circle cx="103.7" cy="276.2" r="1.65"/>
<circle cx="100.9" cy="277.1" r="1.65"/>
<circle cx="99.5" cy="276.9" r="1.65"/>
<circle cx="108.3" cy="269.6" r="1.65"/>
<circle cx="106.1" cy="273.4" r="1.65"/>
<circle cx="104.0" cy="280.0" r="1.65"/>
<circle cx="113.0" cy="272.8" r="1.65"/>
<circle cx="100.4" cy="272.0" r="1.65"/>
<circle cx="103.2" cy="279.5" r="1.65"/>
<circle cx="100.6" cy="270.6" r="1.65"/>
<circle cx="106.9" cy="274.6" r="1.65"/>
<circle cx="113.2" cy="278.1" r="1.65"/>
<circle cx="103.0" cy="270.4" r="1.65"/>
<circle cx="111.2" cy="279.9" r="1.65"/>
<circle cx="97.5" cy="276.8" r="1.65"/>
<circle cx="111.8" cy="275.8" r="1.65"/>
<circle cx="100.7" cy="277.6" r="1.65"/>
<circle cx="109.4" cy="270.3" r="1.65"/>
<circle cx="107.9" cy="270.6" r="1.65"/>
<circle cx="97.7" cy="272.0" r="1.65"/>
<circle cx="102.7" cy="272.8" r="1.65"/>
<circle cx="108.0" cy="278.0" r="1.65"/>
<circle cx="113.3" cy="279.7" r="1.65"/>
<circle cx="151.9" cy="287.5" r="1.65"/>
<circle cx="140.2" cy="280.1" r="1.65"/>
<circle cx="145.6" cy="284.5" r="1.65"/>
<circle cx="146.5" cy="279.1" r="1.65"/>
<circle cx="138.3" cy="289.1" r="1.65"/>
</g>
<g fill="#000">
<circle cx="303.3" cy="238.3" r="1.65"/>
<circle cx="303.8" cy="239.6" r="1.65"/>
<circle cx="316.7" cy="240.2" r="1.65"/>
<circle cx="300.0" cy="250.1" r="1.65"/>
<circle cx="299.0" cy="252.2" r="1.65"/>
<circle cx="300.6" cy="254.4" r="1.65"/>
<circle cx="303.3" cy="256.5" r="1.65"/>
<circle cx="302.2" cy="258.7" r="1.65"/>
<circle cx="296.3" cy="259.2" r="1.65"/>
<circle cx="297.9" cy="261.3" r="1.65"/>
<circle cx="299.5" cy="261.9" r="1.65"/>
<circle cx="297.4" cy="263.5" r="1.65"/>
<circle cx="300.0" cy="264.5" r="1.65"/>
<circle cx="299.0" cy="265.6" r="1.65"/>
<circle cx="296.8" cy="268.3" r="1.65"/>
<circle cx="295.8" cy="270.4" r="1.65"/>
<circle cx="296.3" cy="272.0" r="1.65"/>
<circle cx="281.3" cy="268.3" r="1.65"/>
<circle cx="283.4" cy="268.8" r="1.65"/>
<circle cx="285.6" cy="268.3" r="1.65"/>
<circle cx="286.7" cy="265.6" r="1.65"/>
<circle cx="288.3" cy="268.8" r="1.65"/>
<circle cx="289.9" cy="267.2" r="1.65"/>
<circle cx="291.5" cy="266.2" r="1.65"/>
<circle cx="290.4" cy="268.8" r="1.65"/>
<circle cx="270.6" cy="289.7" r="1.65"/>
<circle cx="272.2" cy="288.7" r="1.65"/>
<circle cx="273.8" cy="287.6" r="1.65"/>
<circle cx="275.4" cy="286.5" r="1.65"/>
<circle cx="277.0" cy="286.0" r="1.65"/>
<circle cx="278.6" cy="285.2" r="1.65"/>
<circle cx="280.2" cy="284.9" r="1.65"/>
<circle cx="272.7" cy="286.5" r="1.65"/>
<circle cx="274.9" cy="288.1" r="1.65"/>
<circle cx="277.0" cy="287.6" r="1.65"/>
<circle cx="279.1" cy="286.5" r="1.65"/>
<circle cx="271.1" cy="288.1" r="1.65"/>
</g>
<g fill="#000">
<circle cx="481.2" cy="250.7" r="1.65"/>
<circle cx="453.2" cy="265.5" r="1.65"/>
<circle cx="459.0" cy="263.4" r="1.65"/>
<circle cx="460.8" cy="262.2" r="1.65"/>
<circle cx="462.6" cy="261.0" r="1.65"/>
<circle cx="464.3" cy="259.9" r="1.65"/>
<circle cx="466.1" cy="258.7" r="1.65"/>
<circle cx="467.8" cy="258.5" r="1.65"/>
<circle cx="469.6" cy="258.1" r="1.65"/>
<circle cx="461.4" cy="263.9" r="1.65"/>
<circle cx="463.1" cy="262.8" r="1.65"/>
<circle cx="464.9" cy="261.6" r="1.65"/>
<circle cx="466.6" cy="260.4" r="1.65"/>
<circle cx="468.4" cy="259.9" r="1.65"/>
<circle cx="456.7" cy="269.2" r="1.65"/>
<circle cx="457.9" cy="271.0" r="1.65"/>
<circle cx="459.0" cy="268.6" r="1.65"/>
<circle cx="460.8" cy="267.8" r="1.65"/>
<circle cx="462.0" cy="268.0" r="1.65"/>
<circle cx="426.9" cy="285.0" r="1.65"/>
<circle cx="421.7" cy="288.1" r="1.65"/>
<circle cx="421.1" cy="293.1" r="1.65"/>
<circle cx="419.9" cy="294.9" r="1.65"/>
<circle cx="418.2" cy="296.1" r="1.65"/>
<circle cx="417.0" cy="297.8" r="1.65"/>
<circle cx="421.1" cy="297.2" r="1.65"/>
<circle cx="417.6" cy="299.6" r="1.65"/>
<circle cx="419.3" cy="297.8" r="1.65"/>
<circle cx="429.9" cy="295.8" r="1.65"/>
<circle cx="435.7" cy="294.0" r="1.65"/>
<circle cx="436.9" cy="296.3" r="1.65"/>
<circle cx="442.1" cy="292.8" r="1.65"/>
<circle cx="464.9" cy="260.0" r="1.65"/>
<circle cx="470.0" cy="255.9" r="1.65"/>
<circle cx="453.6" cy="269.3" r="1.65"/>
<circle cx="465.7" cy="261.5" r="1.65"/>
<circle cx="462.5" cy="265.3" r="1.65"/>
<circle cx="464.7" cy="262.8" r="1.65"/>
<circle cx="460.7" cy="264.9" r="1.65"/>
<circle cx="457.7" cy="266.6" r="1.65"/>
<circle cx="464.9" cy="262.3" r="1.65"/>
<circle cx="469.1" cy="260.2" r="1.65"/>
<circle cx="471.2" cy="257.5" r="1.65"/>
<circle cx="469.2" cy="258.0" r="1.65"/>
<circle cx="459.4" cy="266.1" r="1.65"/>
<circle cx="471.0" cy="257.7" r="1.65"/>
<circle cx="461.0" cy="265.6" r="1.65"/>
<circle cx="455.7" cy="269.8" r="1.65"/>
<circle cx="454.7" cy="268.0" r="1.65"/>
<circle cx="460.3" cy="264.3" r="1.65"/>
<circle cx="458.8" cy="265.7" r="1.65"/>
<circle cx="456.1" cy="268.3" r="1.65"/>
<circle cx="467.1" cy="260.6" r="1.65"/>
<circle cx="466.9" cy="261.5" r="1.65"/>
</g>
<g fill="#f08a70">
<circle cx="474.8" cy="240.9" r="1.4"/>
<circle cx="476.0" cy="241.4" r="1.4"/>
<circle cx="466.6" cy="250.7" r="1.4"/>
</g>
<g fill="#d8d0f0">
<circle cx="433.4" cy="288.5" r="1.4"/>
<circle cx="456.1" cy="265.1" r="1.4"/>
</g>
<g fill="#6f6fbf">
<circle cx="407.4" cy="312.3" r="1.7"/>
<circle cx="388.5" cy="319.8" r="1.7"/>
<circle cx="390.5" cy="321.8" r="1.7"/>
<circle cx="393.0" cy="320.5" r="1.7"/>
<circle cx="395.5" cy="319.0" r="1.7"/>
<circle cx="398.0" cy="318.2" r="1.7"/>
<circle cx="400.5" cy="317.2" r="1.7"/>
<circle cx="388.0" cy="322.2" r="1.7"/>
</g>
<g fill="#4a4fa8">
<circle cx="500.4" cy="226.0" r="1.5"/>
<circle cx="502.2" cy="228.9" r="1.5"/>
<circle cx="501.0" cy="225.1" r="1.5"/>
<circle cx="504.8" cy="213.1" r="1.5"/>
</g>
<g fill="#2840a0">
<circle cx="520.9" cy="205.9" r="1.4"/>
</g>
<g fill="#e8232a">
<circle cx="505.5" cy="216.6" r="1.4"/>
</g>
<text x="489.10" y="208.40" font-size="9" text-anchor="start" fill="#4b4f9c" >R507H</text>
<text x="509.80" y="220.10" font-size="9" text-anchor="start" fill="#e8232a" >R377W</text>
<g fill="#000">
<circle cx="627.4" cy="254.8" r="1.65"/>
<circle cx="629.5" cy="255.2" r="1.65"/>
<circle cx="626.3" cy="254.4" r="1.65"/>
<circle cx="623.0" cy="256.5" r="1.65"/>
<circle cx="624.1" cy="258.7" r="1.65"/>
<circle cx="619.8" cy="263.5" r="1.65"/>
<circle cx="615.4" cy="266.1" r="1.65"/>
<circle cx="616.5" cy="269.6" r="1.65"/>
<circle cx="615.4" cy="267.9" r="1.65"/>
<circle cx="610.4" cy="266.8" r="1.65"/>
</g>
<text x="2.60" y="383.20" font-size="12" text-anchor="start" fill="#000" font-weight="bold" stroke="#000" stroke-width="0.35">c</text>
<line x1="58.50" y1="397.50" x2="58.50" y2="528.40" stroke="#8a8a8a" stroke-width="1" />
<line x1="58.50" y1="528.40" x2="207.70" y2="528.40" stroke="#8a8a8a" stroke-width="1" />
<line x1="55.30" y1="419.30" x2="58.50" y2="419.30" stroke="#777" stroke-width="1" />
<line x1="55.30" y1="445.90" x2="58.50" y2="445.90" stroke="#777" stroke-width="1" />
<line x1="55.30" y1="472.50" x2="58.50" y2="472.50" stroke="#777" stroke-width="1" />
<line x1="55.30" y1="499.10" x2="58.50" y2="499.10" stroke="#777" stroke-width="1" />
<line x1="55.30" y1="525.70" x2="58.50" y2="525.70" stroke="#777" stroke-width="1" />
<line x1="85.10" y1="528.40" x2="85.10" y2="531.60" stroke="#777" stroke-width="1" />
<line x1="123.90" y1="528.40" x2="123.90" y2="531.60" stroke="#777" stroke-width="1" />
<line x1="162.70" y1="528.40" x2="162.70" y2="531.60" stroke="#777" stroke-width="1" />
<line x1="201.50" y1="528.40" x2="201.50" y2="531.60" stroke="#777" stroke-width="1" />
<text x="85.10" y="543.40" font-size="9" text-anchor="middle" fill="#231f20" >–0.1</text>
<text x="123.90" y="543.40" font-size="9" text-anchor="middle" fill="#231f20" >0</text>
<text x="162.70" y="543.40" font-size="9" text-anchor="middle" fill="#231f20" >0.1</text>
<text x="201.50" y="543.40" font-size="9" text-anchor="middle" fill="#231f20" >0.2</text>
<text x="51.20" y="422.40" font-size="9" text-anchor="end" fill="#231f20" >0.50</text>
<text x="51.20" y="449.00" font-size="9" text-anchor="end" fill="#231f20" >0.25</text>
<text x="51.20" y="475.60" font-size="9" text-anchor="end" fill="#231f20" >0</text>
<text x="51.20" y="502.20" font-size="9" text-anchor="end" fill="#231f20" >–0.25</text>
<text x="51.20" y="528.80" font-size="9" text-anchor="end" fill="#231f20" >–0.50</text>
<text x="123.90" y="389.20" font-size="9" text-anchor="middle" fill="#231f20" ><tspan font-style="italic">MSH3</tspan> locus</text>
<line x1="218.50" y1="397.50" x2="218.50" y2="528.40" stroke="#8a8a8a" stroke-width="1" />
<line x1="218.50" y1="528.40" x2="368.00" y2="528.40" stroke="#8a8a8a" stroke-width="1" />
<line x1="215.30" y1="419.30" x2="218.50" y2="419.30" stroke="#777" stroke-width="1" />
<line x1="215.30" y1="445.90" x2="218.50" y2="445.90" stroke="#777" stroke-width="1" />
<line x1="215.30" y1="472.50" x2="218.50" y2="472.50" stroke="#777" stroke-width="1" />
<line x1="215.30" y1="499.10" x2="218.50" y2="499.10" stroke="#777" stroke-width="1" />
<line x1="215.30" y1="525.70" x2="218.50" y2="525.70" stroke="#777" stroke-width="1" />
<line x1="245.40" y1="528.40" x2="245.40" y2="531.60" stroke="#777" stroke-width="1" />
<line x1="284.20" y1="528.40" x2="284.20" y2="531.60" stroke="#777" stroke-width="1" />
<line x1="323.00" y1="528.40" x2="323.00" y2="531.60" stroke="#777" stroke-width="1" />
<line x1="361.80" y1="528.40" x2="361.80" y2="531.60" stroke="#777" stroke-width="1" />
<text x="245.40" y="543.40" font-size="9" text-anchor="middle" fill="#231f20" >–0.1</text>
<text x="284.20" y="543.40" font-size="9" text-anchor="middle" fill="#231f20" >0</text>
<text x="323.00" y="543.40" font-size="9" text-anchor="middle" fill="#231f20" >0.1</text>
<text x="361.80" y="543.40" font-size="9" text-anchor="middle" fill="#231f20" >0.2</text>
<text x="284.20" y="389.20" font-size="9" text-anchor="middle" fill="#231f20" ><tspan font-style="italic">PMS2</tspan> locus</text>
<line x1="378.75" y1="397.50" x2="378.75" y2="528.40" stroke="#8a8a8a" stroke-width="1" />
<line x1="378.75" y1="528.40" x2="528.20" y2="528.40" stroke="#8a8a8a" stroke-width="1" />
<line x1="375.55" y1="419.30" x2="378.75" y2="419.30" stroke="#777" stroke-width="1" />
<line x1="375.55" y1="445.90" x2="378.75" y2="445.90" stroke="#777" stroke-width="1" />
<line x1="375.55" y1="472.50" x2="378.75" y2="472.50" stroke="#777" stroke-width="1" />
<line x1="375.55" y1="499.10" x2="378.75" y2="499.10" stroke="#777" stroke-width="1" />
<line x1="375.55" y1="525.70" x2="378.75" y2="525.70" stroke="#777" stroke-width="1" />
<line x1="405.60" y1="528.40" x2="405.60" y2="531.60" stroke="#777" stroke-width="1" />
<line x1="444.40" y1="528.40" x2="444.40" y2="531.60" stroke="#777" stroke-width="1" />
<line x1="483.20" y1="528.40" x2="483.20" y2="531.60" stroke="#777" stroke-width="1" />
<line x1="522.00" y1="528.40" x2="522.00" y2="531.60" stroke="#777" stroke-width="1" />
<text x="405.60" y="543.40" font-size="9" text-anchor="middle" fill="#231f20" >–0.1</text>
<text x="444.40" y="543.40" font-size="9" text-anchor="middle" fill="#231f20" >0</text>
<text x="483.20" y="543.40" font-size="9" text-anchor="middle" fill="#231f20" >0.1</text>
<text x="522.00" y="543.40" font-size="9" text-anchor="middle" fill="#231f20" >0.2</text>
<text x="444.40" y="389.20" font-size="9" text-anchor="middle" fill="#231f20" ><tspan font-style="italic">FAN1</tspan> locus</text>
<line x1="536.00" y1="397.50" x2="536.00" y2="528.40" stroke="#8a8a8a" stroke-width="1" />
<line x1="536.00" y1="528.40" x2="685.10" y2="528.40" stroke="#8a8a8a" stroke-width="1" />
<line x1="532.80" y1="419.30" x2="536.00" y2="419.30" stroke="#777" stroke-width="1" />
<line x1="532.80" y1="445.90" x2="536.00" y2="445.90" stroke="#777" stroke-width="1" />
<line x1="532.80" y1="472.50" x2="536.00" y2="472.50" stroke="#777" stroke-width="1" />
<line x1="532.80" y1="499.10" x2="536.00" y2="499.10" stroke="#777" stroke-width="1" />
<line x1="532.80" y1="525.70" x2="536.00" y2="525.70" stroke="#777" stroke-width="1" />
<line x1="562.50" y1="528.40" x2="562.50" y2="531.60" stroke="#777" stroke-width="1" />
<line x1="601.30" y1="528.40" x2="601.30" y2="531.60" stroke="#777" stroke-width="1" />
<line x1="640.10" y1="528.40" x2="640.10" y2="531.60" stroke="#777" stroke-width="1" />
<line x1="678.90" y1="528.40" x2="678.90" y2="531.60" stroke="#777" stroke-width="1" />
<text x="562.50" y="543.40" font-size="9" text-anchor="middle" fill="#231f20" >–0.1</text>
<text x="601.30" y="543.40" font-size="9" text-anchor="middle" fill="#231f20" >0</text>
<text x="640.10" y="543.40" font-size="9" text-anchor="middle" fill="#231f20" >0.1</text>
<text x="678.90" y="543.40" font-size="9" text-anchor="middle" fill="#231f20" >0.2</text>
<text x="601.30" y="389.20" font-size="9" text-anchor="middle" fill="#231f20" ><tspan font-style="italic">ATAD5</tspan> locus</text>
<text transform="translate(9.8,463.0) rotate(-90)" font-size="9" text-anchor="middle" fill="#231f20" textLength="103.7" lengthAdjust="spacingAndGlyphs">Effect size (s.d.) hastening</text>
<text transform="translate(20.6,463.3) rotate(-90)" font-size="9" text-anchor="middle" fill="#231f20" textLength="124.8" lengthAdjust="spacingAndGlyphs">of HD clinical landmark (SDMT)</text>
<text x="367.10" y="558.00" font-size="9" text-anchor="middle" fill="#231f20" textLength="166" lengthAdjust="spacingAndGlyphs">Effect size (s.d.), <tspan font-style="italic">TCF4</tspan> expansion in blood</text>
<g fill="#a5a5a5" fill-opacity="0.5">
<circle cx="110.7" cy="473.4" r="1.5"/>
<circle cx="138.4" cy="471.5" r="1.5"/>
<circle cx="109.4" cy="470.5" r="1.5"/>
<circle cx="132.0" cy="480.3" r="1.5"/>
<circle cx="110.8" cy="463.4" r="1.5"/>
<circle cx="134.8" cy="476.9" r="1.5"/>
<circle cx="145.2" cy="481.3" r="1.5"/>
<circle cx="124.7" cy="471.2" r="1.5"/>
<circle cx="158.1" cy="475.3" r="1.5"/>
<circle cx="116.2" cy="464.9" r="1.5"/>
<circle cx="127.2" cy="474.0" r="1.5"/>
<circle cx="121.7" cy="472.1" r="1.5"/>
<circle cx="129.4" cy="477.6" r="1.5"/>
<circle cx="139.7" cy="476.0" r="1.5"/>
<circle cx="103.6" cy="474.4" r="1.5"/>
<circle cx="108.3" cy="469.8" r="1.5"/>
<circle cx="107.6" cy="470.7" r="1.5"/>
<circle cx="116.3" cy="473.1" r="1.5"/>
<circle cx="167.3" cy="477.8" r="1.5"/>
<circle cx="136.5" cy="466.4" r="1.5"/>
<circle cx="122.4" cy="476.5" r="1.5"/>
<circle cx="124.8" cy="475.1" r="1.5"/>
<circle cx="127.3" cy="467.1" r="1.5"/>
<circle cx="133.0" cy="469.0" r="1.5"/>
<circle cx="149.4" cy="472.9" r="1.5"/>
<circle cx="134.6" cy="474.1" r="1.5"/>
<circle cx="137.9" cy="470.9" r="1.5"/>
<circle cx="138.5" cy="473.8" r="1.5"/>
<circle cx="141.8" cy="478.7" r="1.5"/>
<circle cx="127.8" cy="468.5" r="1.5"/>
<circle cx="135.6" cy="477.0" r="1.5"/>
<circle cx="146.5" cy="473.3" r="1.5"/>
<circle cx="132.9" cy="476.9" r="1.5"/>
<circle cx="129.5" cy="474.7" r="1.5"/>
<circle cx="128.3" cy="469.7" r="1.5"/>
<circle cx="113.3" cy="469.0" r="1.5"/>
<circle cx="133.4" cy="483.0" r="1.5"/>
<circle cx="138.2" cy="480.8" r="1.5"/>
<circle cx="135.7" cy="478.4" r="1.5"/>
<circle cx="128.3" cy="477.9" r="1.5"/>
<circle cx="148.2" cy="473.8" r="1.5"/>
<circle cx="117.3" cy="483.7" r="1.5"/>
<circle cx="129.1" cy="479.2" r="1.5"/>
<circle cx="136.9" cy="467.5" r="1.5"/>
<circle cx="156.4" cy="487.4" r="1.5"/>
<circle cx="128.2" cy="477.8" r="1.5"/>
<circle cx="127.6" cy="467.9" r="1.5"/>
<circle cx="124.6" cy="475.1" r="1.5"/>
<circle cx="139.9" cy="479.0" r="1.5"/>
<circle cx="126.7" cy="481.2" r="1.5"/>
<circle cx="116.5" cy="476.6" r="1.5"/>
<circle cx="139.9" cy="473.0" r="1.5"/>
<circle cx="103.6" cy="464.8" r="1.5"/>
<circle cx="129.0" cy="476.5" r="1.5"/>
<circle cx="145.4" cy="469.4" r="1.5"/>
<circle cx="126.0" cy="476.9" r="1.5"/>
<circle cx="124.0" cy="458.5" r="1.5"/>
<circle cx="136.1" cy="488.1" r="1.5"/>
<circle cx="138.6" cy="469.0" r="1.5"/>
<circle cx="120.8" cy="473.7" r="1.5"/>
<circle cx="157.1" cy="480.6" r="1.5"/>
<circle cx="127.4" cy="482.5" r="1.5"/>
<circle cx="125.0" cy="484.0" r="1.5"/>
<circle cx="117.4" cy="469.1" r="1.5"/>
<circle cx="135.0" cy="482.7" r="1.5"/>
<circle cx="134.2" cy="475.8" r="1.5"/>
<circle cx="103.2" cy="465.9" r="1.5"/>
<circle cx="118.4" cy="468.9" r="1.5"/>
<circle cx="133.3" cy="471.9" r="1.5"/>
<circle cx="135.8" cy="474.7" r="1.5"/>
<circle cx="121.8" cy="473.2" r="1.5"/>
<circle cx="131.4" cy="478.8" r="1.5"/>
<circle cx="120.0" cy="470.9" r="1.5"/>
<circle cx="109.0" cy="480.5" r="1.5"/>
<circle cx="144.1" cy="474.2" r="1.5"/>
<circle cx="120.0" cy="464.8" r="1.5"/>
<circle cx="128.1" cy="474.5" r="1.5"/>
<circle cx="153.3" cy="477.9" r="1.5"/>
<circle cx="116.3" cy="457.1" r="1.5"/>
<circle cx="143.6" cy="476.3" r="1.5"/>
<circle cx="105.9" cy="471.6" r="1.5"/>
<circle cx="105.9" cy="491.4" r="1.5"/>
<circle cx="140.0" cy="478.2" r="1.5"/>
<circle cx="123.8" cy="459.9" r="1.5"/>
<circle cx="124.4" cy="463.5" r="1.5"/>
<circle cx="133.5" cy="461.1" r="1.5"/>
<circle cx="114.7" cy="478.9" r="1.5"/>
<circle cx="146.5" cy="468.5" r="1.5"/>
<circle cx="106.8" cy="475.9" r="1.5"/>
<circle cx="136.7" cy="468.4" r="1.5"/>
<circle cx="117.3" cy="467.8" r="1.5"/>
<circle cx="111.1" cy="467.1" r="1.5"/>
<circle cx="141.6" cy="479.1" r="1.5"/>
<circle cx="151.7" cy="475.7" r="1.5"/>
<circle cx="124.3" cy="466.9" r="1.5"/>
<circle cx="124.5" cy="464.9" r="1.5"/>
<circle cx="103.8" cy="474.4" r="1.5"/>
<circle cx="144.0" cy="480.3" r="1.5"/>
<circle cx="142.7" cy="476.6" r="1.5"/>
<circle cx="117.0" cy="472.4" r="1.5"/>
<circle cx="121.3" cy="465.7" r="1.5"/>
<circle cx="104.8" cy="461.5" r="1.5"/>
<circle cx="125.9" cy="473.9" r="1.5"/>
<circle cx="120.1" cy="480.8" r="1.5"/>
<circle cx="128.2" cy="476.8" r="1.5"/>
<circle cx="141.2" cy="470.0" r="1.5"/>
<circle cx="101.4" cy="474.5" r="1.5"/>
<circle cx="117.4" cy="479.8" r="1.5"/>
<circle cx="130.2" cy="479.6" r="1.5"/>
<circle cx="135.5" cy="461.7" r="1.5"/>
<circle cx="135.0" cy="470.1" r="1.5"/>
<circle cx="116.5" cy="469.2" r="1.5"/>
<circle cx="135.6" cy="479.5" r="1.5"/>
<circle cx="138.6" cy="464.6" r="1.5"/>
<circle cx="118.6" cy="457.8" r="1.5"/>
<circle cx="124.7" cy="476.4" r="1.5"/>
<circle cx="116.5" cy="473.3" r="1.5"/>
<circle cx="128.9" cy="479.4" r="1.5"/>
<circle cx="115.7" cy="466.8" r="1.5"/>
<circle cx="116.5" cy="482.3" r="1.5"/>
<circle cx="139.6" cy="473.9" r="1.5"/>
<circle cx="128.8" cy="474.0" r="1.5"/>
<circle cx="128.5" cy="472.1" r="1.5"/>
<circle cx="121.8" cy="464.9" r="1.5"/>
<circle cx="118.0" cy="481.9" r="1.5"/>
<circle cx="132.7" cy="474.2" r="1.5"/>
<circle cx="123.3" cy="473.0" r="1.5"/>
<circle cx="130.4" cy="469.7" r="1.5"/>
<circle cx="128.5" cy="474.7" r="1.5"/>
<circle cx="116.6" cy="467.1" r="1.5"/>
<circle cx="113.5" cy="465.1" r="1.5"/>
<circle cx="137.1" cy="460.2" r="1.5"/>
<circle cx="122.7" cy="468.9" r="1.5"/>
<circle cx="118.3" cy="472.6" r="1.5"/>
<circle cx="140.1" cy="475.2" r="1.5"/>
<circle cx="124.2" cy="469.1" r="1.5"/>
<circle cx="124.4" cy="478.3" r="1.5"/>
<circle cx="121.1" cy="465.5" r="1.5"/>
<circle cx="110.2" cy="464.4" r="1.5"/>
<circle cx="108.6" cy="477.4" r="1.5"/>
<circle cx="130.4" cy="472.1" r="1.5"/>
<circle cx="144.2" cy="471.3" r="1.5"/>
<circle cx="135.4" cy="479.0" r="1.5"/>
<circle cx="106.7" cy="461.3" r="1.5"/>
<circle cx="114.4" cy="477.0" r="1.5"/>
<circle cx="142.2" cy="467.6" r="1.5"/>
<circle cx="139.1" cy="472.3" r="1.5"/>
<circle cx="121.1" cy="469.1" r="1.5"/>
<circle cx="122.0" cy="461.6" r="1.5"/>
<circle cx="113.5" cy="464.0" r="1.5"/>
<circle cx="132.1" cy="486.3" r="1.5"/>
<circle cx="160.1" cy="475.2" r="1.5"/>
<circle cx="104.5" cy="467.9" r="1.5"/>
<circle cx="114.3" cy="483.5" r="1.5"/>
<circle cx="133.1" cy="469.5" r="1.5"/>
<circle cx="137.7" cy="477.7" r="1.5"/>
<circle cx="105.7" cy="467.3" r="1.5"/>
<circle cx="123.0" cy="472.7" r="1.5"/>
<circle cx="127.7" cy="471.2" r="1.5"/>
<circle cx="128.4" cy="469.8" r="1.5"/>
<circle cx="114.8" cy="480.7" r="1.5"/>
<circle cx="130.5" cy="476.2" r="1.5"/>
<circle cx="106.1" cy="469.5" r="1.5"/>
<circle cx="136.2" cy="466.5" r="1.5"/>
<circle cx="139.7" cy="472.4" r="1.5"/>
<circle cx="131.0" cy="472.8" r="1.5"/>
<circle cx="128.7" cy="480.6" r="1.5"/>
<circle cx="121.0" cy="481.8" r="1.5"/>
<circle cx="116.2" cy="466.2" r="1.5"/>
<circle cx="134.9" cy="467.7" r="1.5"/>
<circle cx="121.4" cy="477.9" r="1.5"/>
<circle cx="141.1" cy="464.2" r="1.5"/>
<circle cx="132.3" cy="485.1" r="1.5"/>
<circle cx="140.9" cy="473.4" r="1.5"/>
<circle cx="118.5" cy="470.3" r="1.5"/>
<circle cx="111.6" cy="469.6" r="1.5"/>
<circle cx="123.7" cy="471.8" r="1.5"/>
<circle cx="140.8" cy="473.5" r="1.5"/>
<circle cx="107.8" cy="477.0" r="1.5"/>
<circle cx="112.6" cy="468.7" r="1.5"/>
<circle cx="124.3" cy="470.7" r="1.5"/>
<circle cx="113.5" cy="470.0" r="1.5"/>
<circle cx="153.3" cy="472.7" r="1.5"/>
<circle cx="124.3" cy="479.5" r="1.5"/>
<circle cx="135.3" cy="478.7" r="1.5"/>
<circle cx="136.8" cy="462.5" r="1.5"/>
<circle cx="115.2" cy="472.4" r="1.5"/>
<circle cx="132.2" cy="481.5" r="1.5"/>
<circle cx="131.9" cy="472.3" r="1.5"/>
<circle cx="126.5" cy="471.8" r="1.5"/>
<circle cx="129.1" cy="477.4" r="1.5"/>
<circle cx="121.8" cy="467.6" r="1.5"/>
<circle cx="115.3" cy="478.3" r="1.5"/>
<circle cx="142.0" cy="480.9" r="1.5"/>
<circle cx="136.7" cy="479.3" r="1.5"/>
<circle cx="126.0" cy="477.0" r="1.5"/>
<circle cx="112.8" cy="470.1" r="1.5"/>
<circle cx="116.8" cy="476.2" r="1.5"/>
<circle cx="118.8" cy="471.5" r="1.5"/>
<circle cx="131.0" cy="481.8" r="1.5"/>
<circle cx="116.1" cy="466.1" r="1.5"/>
<circle cx="136.2" cy="467.6" r="1.5"/>
<circle cx="131.7" cy="470.3" r="1.5"/>
<circle cx="124.7" cy="461.9" r="1.5"/>
<circle cx="134.9" cy="471.1" r="1.5"/>
<circle cx="114.8" cy="484.1" r="1.5"/>
<circle cx="134.9" cy="495.2" r="1.5"/>
<circle cx="131.1" cy="471.5" r="1.5"/>
<circle cx="127.3" cy="482.8" r="1.5"/>
<circle cx="125.7" cy="475.7" r="1.5"/>
<circle cx="132.5" cy="468.3" r="1.5"/>
<circle cx="127.6" cy="470.2" r="1.5"/>
<circle cx="110.4" cy="476.3" r="1.5"/>
<circle cx="134.3" cy="474.5" r="1.5"/>
<circle cx="114.7" cy="459.6" r="1.5"/>
<circle cx="132.1" cy="473.2" r="1.5"/>
<circle cx="105.0" cy="470.0" r="1.5"/>
<circle cx="107.0" cy="470.5" r="1.5"/>
<circle cx="127.8" cy="475.4" r="1.5"/>
<circle cx="128.7" cy="474.4" r="1.5"/>
<circle cx="111.8" cy="468.9" r="1.5"/>
<circle cx="119.6" cy="470.8" r="1.5"/>
<circle cx="129.4" cy="477.1" r="1.5"/>
<circle cx="146.4" cy="460.1" r="1.5"/>
<circle cx="131.0" cy="472.4" r="1.5"/>
<circle cx="154.5" cy="482.1" r="1.5"/>
<circle cx="105.3" cy="472.8" r="1.5"/>
<circle cx="119.5" cy="478.2" r="1.5"/>
<circle cx="112.8" cy="470.8" r="1.5"/>
<circle cx="124.4" cy="472.2" r="1.5"/>
<circle cx="118.7" cy="461.1" r="1.5"/>
<circle cx="131.8" cy="479.7" r="1.5"/>
<circle cx="125.1" cy="466.8" r="1.5"/>
<circle cx="128.5" cy="476.7" r="1.5"/>
<circle cx="123.8" cy="472.6" r="1.5"/>
<circle cx="143.6" cy="468.5" r="1.5"/>
<circle cx="119.0" cy="460.7" r="1.5"/>
<circle cx="117.3" cy="467.5" r="1.5"/>
<circle cx="114.0" cy="467.3" r="1.5"/>
<circle cx="148.5" cy="474.6" r="1.5"/>
<circle cx="124.6" cy="486.0" r="1.5"/>
<circle cx="125.2" cy="462.5" r="1.5"/>
<circle cx="131.0" cy="468.0" r="1.5"/>
<circle cx="146.5" cy="468.1" r="1.5"/>
<circle cx="118.7" cy="462.5" r="1.5"/>
<circle cx="127.2" cy="467.1" r="1.5"/>
<circle cx="125.2" cy="470.6" r="1.5"/>
<circle cx="118.3" cy="477.7" r="1.5"/>
<circle cx="137.7" cy="474.8" r="1.5"/>
<circle cx="114.7" cy="465.2" r="1.5"/>
<circle cx="129.4" cy="487.8" r="1.5"/>
<circle cx="120.3" cy="467.6" r="1.5"/>
<circle cx="117.3" cy="465.3" r="1.5"/>
<circle cx="113.8" cy="470.3" r="1.5"/>
<circle cx="143.9" cy="475.2" r="1.5"/>
<circle cx="119.6" cy="462.5" r="1.5"/>
<circle cx="128.7" cy="473.2" r="1.5"/>
<circle cx="110.7" cy="464.6" r="1.5"/>
<circle cx="125.5" cy="479.0" r="1.5"/>
<circle cx="133.8" cy="475.2" r="1.5"/>
<circle cx="122.0" cy="474.4" r="1.5"/>
<circle cx="125.8" cy="486.0" r="1.5"/>
<circle cx="111.8" cy="469.0" r="1.5"/>
<circle cx="141.9" cy="473.4" r="1.5"/>
<circle cx="143.8" cy="474.9" r="1.5"/>
<circle cx="127.8" cy="471.0" r="1.5"/>
<circle cx="108.7" cy="465.0" r="1.5"/>
<circle cx="153.7" cy="480.3" r="1.5"/>
<circle cx="133.6" cy="479.7" r="1.5"/>
<circle cx="133.1" cy="480.0" r="1.5"/>
<circle cx="122.7" cy="471.2" r="1.5"/>
<circle cx="138.3" cy="472.4" r="1.5"/>
<circle cx="109.4" cy="469.6" r="1.5"/>
<circle cx="119.2" cy="475.8" r="1.5"/>
<circle cx="117.0" cy="465.5" r="1.5"/>
<circle cx="121.8" cy="481.8" r="1.5"/>
<circle cx="125.4" cy="473.9" r="1.5"/>
<circle cx="126.1" cy="474.8" r="1.5"/>
<circle cx="137.6" cy="482.8" r="1.5"/>
<circle cx="105.4" cy="478.6" r="1.5"/>
<circle cx="126.0" cy="471.1" r="1.5"/>
<circle cx="156.0" cy="475.7" r="1.5"/>
<circle cx="150.3" cy="481.8" r="1.5"/>
<circle cx="113.1" cy="474.3" r="1.5"/>
<circle cx="135.2" cy="473.4" r="1.5"/>
<circle cx="96.9" cy="467.3" r="1.5"/>
<circle cx="123.6" cy="466.1" r="1.5"/>
<circle cx="148.8" cy="474.4" r="1.5"/>
<circle cx="121.1" cy="470.6" r="1.5"/>
<circle cx="116.2" cy="467.1" r="1.5"/>
<circle cx="127.2" cy="475.0" r="1.5"/>
<circle cx="119.7" cy="471.7" r="1.5"/>
<circle cx="108.6" cy="474.0" r="1.5"/>
<circle cx="116.6" cy="473.1" r="1.5"/>
<circle cx="114.7" cy="468.5" r="1.5"/>
<circle cx="128.7" cy="466.1" r="1.5"/>
<circle cx="156.9" cy="476.6" r="1.5"/>
<circle cx="125.1" cy="468.5" r="1.5"/>
<circle cx="145.9" cy="483.8" r="1.5"/>
<circle cx="129.7" cy="465.3" r="1.5"/>
<circle cx="119.7" cy="475.9" r="1.5"/>
<circle cx="119.6" cy="465.1" r="1.5"/>
<circle cx="111.2" cy="466.5" r="1.5"/>
<circle cx="126.2" cy="469.1" r="1.5"/>
<circle cx="126.2" cy="489.8" r="1.5"/>
<circle cx="148.2" cy="469.5" r="1.5"/>
<circle cx="130.3" cy="474.1" r="1.5"/>
<circle cx="124.3" cy="479.0" r="1.5"/>
<circle cx="121.8" cy="470.5" r="1.5"/>
<circle cx="121.3" cy="471.8" r="1.5"/>
<circle cx="142.1" cy="479.7" r="1.5"/>
<circle cx="109.2" cy="468.3" r="1.5"/>
<circle cx="116.0" cy="476.7" r="1.5"/>
<circle cx="128.8" cy="478.7" r="1.5"/>
<circle cx="125.2" cy="461.4" r="1.5"/>
<circle cx="131.6" cy="475.1" r="1.5"/>
<circle cx="132.4" cy="466.0" r="1.5"/>
<circle cx="127.0" cy="469.0" r="1.5"/>
<circle cx="117.4" cy="474.1" r="1.5"/>
<circle cx="130.4" cy="468.2" r="1.5"/>
<circle cx="104.6" cy="455.5" r="1.5"/>
<circle cx="118.8" cy="478.8" r="1.5"/>
<circle cx="125.3" cy="459.4" r="1.5"/>
<circle cx="115.2" cy="474.2" r="1.5"/>
<circle cx="146.9" cy="482.6" r="1.5"/>
<circle cx="130.6" cy="474.8" r="1.5"/>
<circle cx="112.8" cy="468.6" r="1.5"/>
<circle cx="121.8" cy="467.8" r="1.5"/>
<circle cx="126.8" cy="470.7" r="1.5"/>
<circle cx="130.2" cy="482.1" r="1.5"/>
<circle cx="135.3" cy="476.7" r="1.5"/>
<circle cx="123.0" cy="463.5" r="1.5"/>
<circle cx="124.6" cy="476.1" r="1.5"/>
<circle cx="113.4" cy="479.0" r="1.5"/>
<circle cx="121.8" cy="474.7" r="1.5"/>
<circle cx="121.9" cy="465.0" r="1.5"/>
<circle cx="151.8" cy="469.2" r="1.5"/>
<circle cx="137.5" cy="471.1" r="1.5"/>
<circle cx="129.5" cy="468.6" r="1.5"/>
<circle cx="120.8" cy="477.9" r="1.5"/>
<circle cx="150.3" cy="470.9" r="1.5"/>
<circle cx="126.1" cy="478.7" r="1.5"/>
<circle cx="118.1" cy="476.3" r="1.5"/>
<circle cx="116.2" cy="475.4" r="1.5"/>
<circle cx="131.5" cy="481.0" r="1.5"/>
<circle cx="130.5" cy="466.4" r="1.5"/>
<circle cx="134.3" cy="467.4" r="1.5"/>
<circle cx="135.4" cy="483.2" r="1.5"/>
<circle cx="133.4" cy="470.6" r="1.5"/>
<circle cx="140.9" cy="475.9" r="1.5"/>
<circle cx="110.4" cy="468.9" r="1.5"/>
<circle cx="143.7" cy="473.4" r="1.5"/>
<circle cx="127.5" cy="471.1" r="1.5"/>
<circle cx="104.9" cy="467.3" r="1.5"/>
<circle cx="130.5" cy="474.8" r="1.5"/>
<circle cx="123.8" cy="459.9" r="1.5"/>
<circle cx="141.3" cy="479.2" r="1.5"/>
<circle cx="138.8" cy="482.4" r="1.5"/>
<circle cx="120.4" cy="468.7" r="1.5"/>
<circle cx="129.9" cy="483.5" r="1.5"/>
<circle cx="104.9" cy="469.0" r="1.5"/>
<circle cx="117.1" cy="475.2" r="1.5"/>
<circle cx="144.3" cy="473.5" r="1.5"/>
<circle cx="110.5" cy="471.4" r="1.5"/>
<circle cx="122.4" cy="463.3" r="1.5"/>
<circle cx="137.1" cy="471.2" r="1.5"/>
<circle cx="134.5" cy="466.2" r="1.5"/>
<circle cx="139.7" cy="466.0" r="1.5"/>
<circle cx="139.2" cy="463.8" r="1.5"/>
<circle cx="143.2" cy="472.9" r="1.5"/>
<circle cx="106.6" cy="469.2" r="1.5"/>
<circle cx="130.2" cy="467.6" r="1.5"/>
<circle cx="119.8" cy="473.9" r="1.5"/>
<circle cx="123.9" cy="454.3" r="1.5"/>
<circle cx="120.6" cy="474.9" r="1.5"/>
<circle cx="129.7" cy="479.5" r="1.5"/>
<circle cx="117.4" cy="487.3" r="1.5"/>
<circle cx="136.0" cy="476.1" r="1.5"/>
<circle cx="139.6" cy="480.4" r="1.5"/>
<circle cx="127.3" cy="469.4" r="1.5"/>
<circle cx="138.8" cy="477.1" r="1.5"/>
<circle cx="102.3" cy="463.4" r="1.5"/>
<circle cx="131.8" cy="474.4" r="1.5"/>
<circle cx="129.5" cy="477.3" r="1.5"/>
<circle cx="127.8" cy="482.7" r="1.5"/>
<circle cx="118.6" cy="469.7" r="1.5"/>
<circle cx="130.0" cy="478.0" r="1.5"/>
<circle cx="135.8" cy="483.2" r="1.5"/>
<circle cx="120.0" cy="479.3" r="1.5"/>
<circle cx="131.8" cy="467.5" r="1.5"/>
<circle cx="124.3" cy="485.3" r="1.5"/>
<circle cx="135.8" cy="471.4" r="1.5"/>
<circle cx="96.0" cy="464.9" r="1.5"/>
<circle cx="117.2" cy="472.4" r="1.5"/>
<circle cx="154.9" cy="481.1" r="1.5"/>
<circle cx="129.9" cy="467.9" r="1.5"/>
<circle cx="111.2" cy="469.9" r="1.5"/>
<circle cx="120.2" cy="490.3" r="1.5"/>
<circle cx="120.9" cy="468.7" r="1.5"/>
<circle cx="140.1" cy="475.2" r="1.5"/>
<circle cx="110.6" cy="478.8" r="1.5"/>
<circle cx="122.1" cy="464.5" r="1.5"/>
<circle cx="130.0" cy="476.4" r="1.5"/>
<circle cx="121.8" cy="476.7" r="1.5"/>
<circle cx="136.3" cy="469.0" r="1.5"/>
<circle cx="100.3" cy="455.4" r="1.5"/>
<circle cx="124.4" cy="480.2" r="1.5"/>
<circle cx="138.5" cy="482.9" r="1.5"/>
<circle cx="149.2" cy="476.0" r="1.5"/>
<circle cx="139.2" cy="465.5" r="1.5"/>
<circle cx="134.6" cy="476.4" r="1.5"/>
<circle cx="124.8" cy="470.2" r="1.5"/>
<circle cx="112.1" cy="472.1" r="1.5"/>
<circle cx="142.0" cy="472.8" r="1.5"/>
<circle cx="132.6" cy="469.8" r="1.5"/>
<circle cx="129.2" cy="467.3" r="1.5"/>
<circle cx="130.7" cy="472.3" r="1.5"/>
<circle cx="129.9" cy="469.8" r="1.5"/>
<circle cx="111.3" cy="469.2" r="1.5"/>
<circle cx="139.0" cy="484.1" r="1.5"/>
<circle cx="121.9" cy="477.3" r="1.5"/>
<circle cx="135.5" cy="476.5" r="1.5"/>
<circle cx="106.6" cy="472.5" r="1.5"/>
<circle cx="113.9" cy="478.6" r="1.5"/>
<circle cx="135.9" cy="477.9" r="1.5"/>
<circle cx="94.3" cy="472.8" r="1.5"/>
<circle cx="134.7" cy="466.4" r="1.5"/>
<circle cx="138.1" cy="475.0" r="1.5"/>
<circle cx="123.7" cy="468.4" r="1.5"/>
<circle cx="113.3" cy="468.8" r="1.5"/>
<circle cx="164.6" cy="479.0" r="1.5"/>
<circle cx="128.6" cy="469.4" r="1.5"/>
<circle cx="118.3" cy="468.7" r="1.5"/>
<circle cx="114.9" cy="476.9" r="1.5"/>
<circle cx="122.6" cy="477.8" r="1.5"/>
<circle cx="111.6" cy="476.8" r="1.5"/>
<circle cx="125.7" cy="477.0" r="1.5"/>
<circle cx="124.7" cy="467.5" r="1.5"/>
<circle cx="141.1" cy="472.3" r="1.5"/>
<circle cx="124.2" cy="467.5" r="1.5"/>
<circle cx="128.6" cy="471.0" r="1.5"/>
<circle cx="129.5" cy="475.5" r="1.5"/>
<circle cx="117.4" cy="463.5" r="1.5"/>
<circle cx="131.4" cy="479.2" r="1.5"/>
<circle cx="134.7" cy="467.2" r="1.5"/>
<circle cx="133.6" cy="476.2" r="1.5"/>
<circle cx="129.5" cy="476.0" r="1.5"/>
<circle cx="122.0" cy="473.8" r="1.5"/>
<circle cx="137.6" cy="471.4" r="1.5"/>
<circle cx="108.0" cy="470.1" r="1.5"/>
<circle cx="128.5" cy="462.2" r="1.5"/>
<circle cx="117.5" cy="475.5" r="1.5"/>
<circle cx="124.1" cy="473.3" r="1.5"/>
<circle cx="110.3" cy="476.5" r="1.5"/>
<circle cx="147.9" cy="474.5" r="1.5"/>
<circle cx="116.8" cy="464.9" r="1.5"/>
<circle cx="137.1" cy="475.0" r="1.5"/>
<circle cx="116.1" cy="479.1" r="1.5"/>
<circle cx="135.6" cy="477.8" r="1.5"/>
<circle cx="104.0" cy="469.7" r="1.5"/>
<circle cx="133.8" cy="466.6" r="1.5"/>
<circle cx="137.6" cy="483.0" r="1.5"/>
<circle cx="138.9" cy="470.3" r="1.5"/>
<circle cx="117.2" cy="477.6" r="1.5"/>
<circle cx="138.4" cy="481.9" r="1.5"/>
<circle cx="141.0" cy="474.3" r="1.5"/>
<circle cx="120.9" cy="461.2" r="1.5"/>
<circle cx="135.8" cy="487.9" r="1.5"/>
<circle cx="120.2" cy="469.4" r="1.5"/>
<circle cx="134.1" cy="476.3" r="1.5"/>
<circle cx="108.9" cy="466.6" r="1.5"/>
<circle cx="112.3" cy="483.4" r="1.5"/>
<circle cx="117.0" cy="477.0" r="1.5"/>
<circle cx="150.0" cy="487.3" r="1.5"/>
<circle cx="143.8" cy="485.0" r="1.5"/>
<circle cx="110.6" cy="469.0" r="1.5"/>
<circle cx="116.9" cy="470.1" r="1.5"/>
<circle cx="158.8" cy="467.0" r="1.5"/>
<circle cx="133.0" cy="466.4" r="1.5"/>
<circle cx="142.7" cy="482.9" r="1.5"/>
<circle cx="119.6" cy="484.6" r="1.5"/>
<circle cx="126.9" cy="480.9" r="1.5"/>
<circle cx="129.9" cy="470.1" r="1.5"/>
<circle cx="121.2" cy="471.7" r="1.5"/>
<circle cx="133.7" cy="474.7" r="1.5"/>
<circle cx="155.5" cy="475.5" r="1.5"/>
<circle cx="120.2" cy="468.0" r="1.5"/>
<circle cx="116.3" cy="463.2" r="1.5"/>
<circle cx="113.7" cy="476.9" r="1.5"/>
<circle cx="126.8" cy="472.1" r="1.5"/>
<circle cx="130.4" cy="480.0" r="1.5"/>
<circle cx="133.7" cy="478.6" r="1.5"/>
<circle cx="119.0" cy="470.6" r="1.5"/>
<circle cx="116.3" cy="471.2" r="1.5"/>
<circle cx="115.8" cy="469.5" r="1.5"/>
<circle cx="123.8" cy="471.4" r="1.5"/>
<circle cx="122.7" cy="469.6" r="1.5"/>
<circle cx="142.4" cy="473.0" r="1.5"/>
<circle cx="113.4" cy="472.6" r="1.5"/>
<circle cx="112.4" cy="464.9" r="1.5"/>
<circle cx="127.1" cy="463.1" r="1.5"/>
<circle cx="85.8" cy="469.7" r="1.5"/>
<circle cx="138.9" cy="464.6" r="1.5"/>
<circle cx="114.8" cy="475.1" r="1.5"/>
<circle cx="101.2" cy="464.7" r="1.5"/>
<circle cx="111.0" cy="469.9" r="1.5"/>
<circle cx="101.3" cy="475.3" r="1.5"/>
<circle cx="124.2" cy="474.6" r="1.5"/>
<circle cx="121.9" cy="459.8" r="1.5"/>
<circle cx="124.1" cy="464.7" r="1.5"/>
<circle cx="126.1" cy="467.9" r="1.5"/>
<circle cx="122.0" cy="471.2" r="1.5"/>
<circle cx="135.7" cy="478.8" r="1.5"/>
<circle cx="113.4" cy="471.3" r="1.5"/>
<circle cx="144.2" cy="478.2" r="1.5"/>
<circle cx="116.9" cy="471.1" r="1.5"/>
<circle cx="121.7" cy="478.1" r="1.5"/>
<circle cx="126.4" cy="475.3" r="1.5"/>
<circle cx="153.6" cy="468.2" r="1.5"/>
<circle cx="113.3" cy="461.0" r="1.5"/>
<circle cx="106.1" cy="475.7" r="1.5"/>
<circle cx="129.7" cy="483.2" r="1.5"/>
<circle cx="101.3" cy="464.7" r="1.5"/>
<circle cx="144.0" cy="481.4" r="1.5"/>
<circle cx="137.1" cy="479.6" r="1.5"/>
<circle cx="126.4" cy="473.0" r="1.5"/>
<circle cx="126.4" cy="478.1" r="1.5"/>
<circle cx="124.0" cy="474.7" r="1.5"/>
<circle cx="144.2" cy="468.5" r="1.5"/>
<circle cx="116.6" cy="475.2" r="1.5"/>
<circle cx="122.7" cy="471.7" r="1.5"/>
<circle cx="152.2" cy="478.7" r="1.5"/>
<circle cx="120.8" cy="478.9" r="1.5"/>
<circle cx="157.5" cy="470.2" r="1.5"/>
<circle cx="117.6" cy="472.7" r="1.5"/>
<circle cx="118.1" cy="485.0" r="1.5"/>
<circle cx="132.6" cy="471.4" r="1.5"/>
<circle cx="132.1" cy="469.0" r="1.5"/>
<circle cx="118.4" cy="472.7" r="1.5"/>
<circle cx="155.8" cy="463.2" r="1.5"/>
<circle cx="131.3" cy="481.8" r="1.5"/>
<circle cx="135.3" cy="485.7" r="1.5"/>
<circle cx="131.6" cy="474.6" r="1.5"/>
<circle cx="124.4" cy="467.7" r="1.5"/>
<circle cx="146.4" cy="468.4" r="1.5"/>
<circle cx="124.5" cy="469.7" r="1.5"/>
<circle cx="116.2" cy="458.4" r="1.5"/>
<circle cx="121.2" cy="473.2" r="1.5"/>
<circle cx="127.8" cy="478.3" r="1.5"/>
<circle cx="124.0" cy="468.9" r="1.5"/>
<circle cx="129.8" cy="477.5" r="1.5"/>
<circle cx="114.7" cy="462.5" r="1.5"/>
<circle cx="113.2" cy="477.8" r="1.5"/>
<circle cx="138.5" cy="469.2" r="1.5"/>
<circle cx="127.4" cy="478.2" r="1.5"/>
<circle cx="142.6" cy="471.1" r="1.5"/>
<circle cx="123.0" cy="481.1" r="1.5"/>
<circle cx="156.1" cy="485.9" r="1.5"/>
<circle cx="111.7" cy="473.9" r="1.5"/>
<circle cx="122.3" cy="472.2" r="1.5"/>
<circle cx="117.7" cy="469.1" r="1.5"/>
<circle cx="125.9" cy="483.8" r="1.5"/>
<circle cx="134.7" cy="476.6" r="1.5"/>
<circle cx="126.3" cy="468.5" r="1.5"/>
<circle cx="123.1" cy="480.1" r="1.5"/>
<circle cx="136.4" cy="486.1" r="1.5"/>
<circle cx="129.3" cy="473.3" r="1.5"/>
<circle cx="105.8" cy="472.9" r="1.5"/>
<circle cx="104.5" cy="479.5" r="1.5"/>
<circle cx="118.1" cy="472.0" r="1.5"/>
<circle cx="109.1" cy="467.9" r="1.5"/>
<circle cx="114.4" cy="478.3" r="1.5"/>
<circle cx="129.1" cy="466.3" r="1.5"/>
<circle cx="101.9" cy="469.6" r="1.5"/>
<circle cx="119.9" cy="465.6" r="1.5"/>
<circle cx="133.4" cy="472.8" r="1.5"/>
<circle cx="127.4" cy="469.6" r="1.5"/>
<circle cx="118.9" cy="469.4" r="1.5"/>
<circle cx="106.0" cy="474.3" r="1.5"/>
<circle cx="131.0" cy="463.3" r="1.5"/>
<circle cx="127.3" cy="480.1" r="1.5"/>
<circle cx="129.0" cy="481.1" r="1.5"/>
<circle cx="122.6" cy="472.6" r="1.5"/>
<circle cx="109.8" cy="465.6" r="1.5"/>
<circle cx="103.2" cy="464.8" r="1.5"/>
<circle cx="129.1" cy="476.5" r="1.5"/>
<circle cx="140.5" cy="475.6" r="1.5"/>
<circle cx="113.6" cy="474.1" r="1.5"/>
<circle cx="124.2" cy="483.5" r="1.5"/>
<circle cx="150.5" cy="481.8" r="1.5"/>
<circle cx="111.8" cy="468.1" r="1.5"/>
<circle cx="128.4" cy="469.0" r="1.5"/>
<circle cx="132.5" cy="477.9" r="1.5"/>
<circle cx="136.5" cy="475.7" r="1.5"/>
<circle cx="115.0" cy="466.6" r="1.5"/>
<circle cx="124.5" cy="480.8" r="1.5"/>
<circle cx="145.7" cy="481.3" r="1.5"/>
<circle cx="130.5" cy="477.6" r="1.5"/>
<circle cx="136.3" cy="482.0" r="1.5"/>
<circle cx="136.7" cy="465.1" r="1.5"/>
<circle cx="137.9" cy="476.8" r="1.5"/>
<circle cx="120.3" cy="475.4" r="1.5"/>
<circle cx="129.6" cy="473.1" r="1.5"/>
<circle cx="104.9" cy="471.0" r="1.5"/>
<circle cx="133.0" cy="473.6" r="1.5"/>
<circle cx="106.1" cy="473.3" r="1.5"/>
<circle cx="135.0" cy="475.2" r="1.5"/>
<circle cx="131.3" cy="471.5" r="1.5"/>
<circle cx="117.8" cy="475.1" r="1.5"/>
<circle cx="121.6" cy="473.5" r="1.5"/>
<circle cx="166.7" cy="482.3" r="1.5"/>
<circle cx="127.7" cy="463.5" r="1.5"/>
<circle cx="127.2" cy="477.7" r="1.5"/>
<circle cx="117.2" cy="470.5" r="1.5"/>
<circle cx="97.8" cy="472.8" r="1.5"/>
<circle cx="118.6" cy="476.2" r="1.5"/>
<circle cx="143.1" cy="474.1" r="1.5"/>
<circle cx="138.3" cy="476.0" r="1.5"/>
<circle cx="123.4" cy="471.0" r="1.5"/>
<circle cx="115.4" cy="479.4" r="1.5"/>
<circle cx="137.0" cy="468.3" r="1.5"/>
<circle cx="136.5" cy="469.9" r="1.5"/>
<circle cx="107.2" cy="477.9" r="1.5"/>
<circle cx="110.0" cy="478.1" r="1.5"/>
<circle cx="128.5" cy="478.7" r="1.5"/>
<circle cx="132.4" cy="480.7" r="1.5"/>
<circle cx="130.3" cy="477.0" r="1.5"/>
<circle cx="129.1" cy="480.0" r="1.5"/>
<circle cx="121.1" cy="478.5" r="1.5"/>
<circle cx="144.8" cy="475.0" r="1.5"/>
<circle cx="131.5" cy="470.6" r="1.5"/>
<circle cx="122.4" cy="474.1" r="1.5"/>
<circle cx="121.7" cy="467.2" r="1.5"/>
<circle cx="125.6" cy="474.1" r="1.5"/>
<circle cx="130.0" cy="477.8" r="1.5"/>
<circle cx="103.8" cy="478.7" r="1.5"/>
<circle cx="123.9" cy="468.1" r="1.5"/>
<circle cx="121.4" cy="475.1" r="1.5"/>
<circle cx="136.9" cy="472.2" r="1.5"/>
<circle cx="128.0" cy="463.7" r="1.5"/>
<circle cx="128.1" cy="472.6" r="1.5"/>
<circle cx="120.6" cy="477.6" r="1.5"/>
<circle cx="148.4" cy="482.0" r="1.5"/>
<circle cx="116.2" cy="481.0" r="1.5"/>
<circle cx="121.8" cy="472.2" r="1.5"/>
<circle cx="118.7" cy="474.8" r="1.5"/>
<circle cx="132.9" cy="474.7" r="1.5"/>
<circle cx="123.4" cy="471.8" r="1.5"/>
<circle cx="121.0" cy="478.2" r="1.5"/>
<circle cx="119.5" cy="471.3" r="1.5"/>
</g>
<g fill="#a5a5a5" fill-opacity="0.5">
<circle cx="158.5" cy="489.3" r="1.5"/>
<circle cx="147.7" cy="480.6" r="1.5"/>
<circle cx="155.6" cy="490.9" r="1.5"/>
<circle cx="156.0" cy="479.5" r="1.5"/>
<circle cx="147.9" cy="483.9" r="1.5"/>
<circle cx="159.7" cy="484.1" r="1.5"/>
<circle cx="150.7" cy="483.2" r="1.5"/>
<circle cx="154.4" cy="481.2" r="1.5"/>
<circle cx="153.2" cy="485.2" r="1.5"/>
<circle cx="164.5" cy="483.9" r="1.5"/>
<circle cx="159.8" cy="480.1" r="1.5"/>
<circle cx="159.1" cy="484.8" r="1.5"/>
<circle cx="149.5" cy="484.0" r="1.5"/>
<circle cx="159.4" cy="482.9" r="1.5"/>
<circle cx="160.3" cy="490.1" r="1.5"/>
<circle cx="164.4" cy="490.5" r="1.5"/>
<circle cx="144.5" cy="485.5" r="1.5"/>
<circle cx="148.6" cy="487.8" r="1.5"/>
<circle cx="153.7" cy="485.0" r="1.5"/>
<circle cx="156.4" cy="481.8" r="1.5"/>
<circle cx="153.9" cy="481.3" r="1.5"/>
<circle cx="167.5" cy="482.3" r="1.5"/>
<circle cx="153.4" cy="477.2" r="1.5"/>
<circle cx="143.1" cy="480.9" r="1.5"/>
<circle cx="158.7" cy="487.2" r="1.5"/>
<circle cx="155.2" cy="481.6" r="1.5"/>
<circle cx="166.0" cy="480.1" r="1.5"/>
<circle cx="147.4" cy="486.1" r="1.5"/>
<circle cx="146.4" cy="485.2" r="1.5"/>
<circle cx="159.9" cy="483.9" r="1.5"/>
<circle cx="156.1" cy="484.3" r="1.5"/>
<circle cx="148.6" cy="471.7" r="1.5"/>
<circle cx="144.9" cy="484.1" r="1.5"/>
<circle cx="142.0" cy="481.9" r="1.5"/>
<circle cx="154.7" cy="489.4" r="1.5"/>
<circle cx="143.8" cy="482.1" r="1.5"/>
<circle cx="154.8" cy="486.2" r="1.5"/>
<circle cx="143.7" cy="491.5" r="1.5"/>
<circle cx="147.6" cy="488.4" r="1.5"/>
<circle cx="151.9" cy="485.8" r="1.5"/>
<circle cx="164.8" cy="486.9" r="1.5"/>
<circle cx="154.1" cy="480.2" r="1.5"/>
<circle cx="148.7" cy="478.5" r="1.5"/>
<circle cx="167.2" cy="478.0" r="1.5"/>
<circle cx="135.4" cy="490.6" r="1.5"/>
<circle cx="162.1" cy="482.7" r="1.5"/>
<circle cx="159.0" cy="480.9" r="1.5"/>
<circle cx="149.3" cy="486.1" r="1.5"/>
<circle cx="156.0" cy="482.3" r="1.5"/>
<circle cx="164.5" cy="487.1" r="1.5"/>
<circle cx="154.2" cy="479.5" r="1.5"/>
<circle cx="154.2" cy="482.9" r="1.5"/>
<circle cx="152.7" cy="487.3" r="1.5"/>
<circle cx="149.3" cy="485.2" r="1.5"/>
<circle cx="158.8" cy="485.5" r="1.5"/>
<circle cx="169.2" cy="477.2" r="1.5"/>
<circle cx="152.8" cy="479.4" r="1.5"/>
<circle cx="152.8" cy="494.1" r="1.5"/>
<circle cx="141.8" cy="483.0" r="1.5"/>
<circle cx="157.8" cy="484.5" r="1.5"/>
<circle cx="159.6" cy="477.9" r="1.5"/>
<circle cx="160.0" cy="480.3" r="1.5"/>
<circle cx="144.7" cy="486.4" r="1.5"/>
<circle cx="156.5" cy="481.2" r="1.5"/>
<circle cx="147.5" cy="483.3" r="1.5"/>
<circle cx="153.1" cy="483.4" r="1.5"/>
<circle cx="146.1" cy="474.9" r="1.5"/>
<circle cx="162.3" cy="484.8" r="1.5"/>
<circle cx="144.5" cy="477.9" r="1.5"/>
<circle cx="148.3" cy="482.4" r="1.5"/>
<circle cx="138.3" cy="489.6" r="1.5"/>
<circle cx="156.1" cy="482.8" r="1.5"/>
<circle cx="155.6" cy="485.0" r="1.5"/>
<circle cx="160.5" cy="484.7" r="1.5"/>
<circle cx="161.9" cy="490.2" r="1.5"/>
<circle cx="151.0" cy="482.3" r="1.5"/>
<circle cx="147.0" cy="483.1" r="1.5"/>
<circle cx="148.1" cy="484.1" r="1.5"/>
<circle cx="155.2" cy="486.2" r="1.5"/>
<circle cx="145.1" cy="488.4" r="1.5"/>
<circle cx="151.0" cy="483.6" r="1.5"/>
<circle cx="149.5" cy="476.1" r="1.5"/>
<circle cx="154.9" cy="477.0" r="1.5"/>
<circle cx="160.8" cy="484.2" r="1.5"/>
<circle cx="164.0" cy="486.6" r="1.5"/>
<circle cx="158.0" cy="489.6" r="1.5"/>
<circle cx="152.8" cy="490.2" r="1.5"/>
<circle cx="152.2" cy="485.1" r="1.5"/>
<circle cx="148.4" cy="486.2" r="1.5"/>
<circle cx="157.8" cy="482.0" r="1.5"/>
<circle cx="144.2" cy="483.9" r="1.5"/>
<circle cx="156.0" cy="483.4" r="1.5"/>
<circle cx="146.3" cy="481.2" r="1.5"/>
<circle cx="151.2" cy="473.6" r="1.5"/>
<circle cx="149.0" cy="489.8" r="1.5"/>
<circle cx="144.1" cy="483.2" r="1.5"/>
<circle cx="164.8" cy="486.9" r="1.5"/>
<circle cx="159.5" cy="483.5" r="1.5"/>
<circle cx="143.8" cy="495.5" r="1.5"/>
<circle cx="155.2" cy="485.0" r="1.5"/>
<circle cx="164.5" cy="487.3" r="1.5"/>
<circle cx="153.5" cy="479.6" r="1.5"/>
<circle cx="152.0" cy="483.4" r="1.5"/>
<circle cx="148.3" cy="480.6" r="1.5"/>
<circle cx="146.1" cy="483.6" r="1.5"/>
<circle cx="148.9" cy="485.7" r="1.5"/>
<circle cx="160.1" cy="485.3" r="1.5"/>
<circle cx="153.2" cy="490.2" r="1.5"/>
<circle cx="157.6" cy="478.1" r="1.5"/>
<circle cx="148.1" cy="484.8" r="1.5"/>
<circle cx="146.9" cy="487.0" r="1.5"/>
<circle cx="140.8" cy="476.4" r="1.5"/>
<circle cx="159.9" cy="486.3" r="1.5"/>
<circle cx="141.9" cy="484.3" r="1.5"/>
<circle cx="162.4" cy="479.6" r="1.5"/>
<circle cx="144.8" cy="479.2" r="1.5"/>
<circle cx="146.2" cy="477.1" r="1.5"/>
<circle cx="149.7" cy="478.2" r="1.5"/>
<circle cx="153.5" cy="492.9" r="1.5"/>
<circle cx="145.7" cy="487.6" r="1.5"/>
</g>
<g fill="#a5a5a5" fill-opacity="0.5">
<circle cx="88.0" cy="462.0" r="1.5"/>
<circle cx="86.0" cy="467.0" r="1.5"/>
<circle cx="92.0" cy="480.0" r="1.5"/>
<circle cx="90.0" cy="488.0" r="1.5"/>
<circle cx="94.0" cy="495.0" r="1.5"/>
<circle cx="99.0" cy="452.0" r="1.5"/>
<circle cx="118.0" cy="444.0" r="1.5"/>
<circle cx="121.0" cy="451.0" r="1.5"/>
<circle cx="130.0" cy="442.0" r="1.5"/>
<circle cx="131.0" cy="448.0" r="1.5"/>
<circle cx="136.0" cy="454.0" r="1.5"/>
<circle cx="150.0" cy="458.0" r="1.5"/>
<circle cx="160.0" cy="466.0" r="1.5"/>
<circle cx="165.0" cy="468.0" r="1.5"/>
<circle cx="163.0" cy="470.0" r="1.5"/>
<circle cx="150.0" cy="490.0" r="1.5"/>
<circle cx="152.0" cy="495.0" r="1.5"/>
<circle cx="140.0" cy="499.0" r="1.5"/>
<circle cx="135.0" cy="497.0" r="1.5"/>
<circle cx="125.0" cy="505.0" r="1.5"/>
<circle cx="115.0" cy="498.0" r="1.5"/>
<circle cx="104.0" cy="492.0" r="1.5"/>
<circle cx="99.0" cy="485.0" r="1.5"/>
</g>
<g fill="#a5a5a5" fill-opacity="0.5">
<circle cx="267.8" cy="471.8" r="1.5"/>
<circle cx="280.1" cy="466.3" r="1.5"/>
<circle cx="293.2" cy="468.5" r="1.5"/>
<circle cx="280.1" cy="480.3" r="1.5"/>
<circle cx="277.8" cy="461.7" r="1.5"/>
<circle cx="268.6" cy="467.1" r="1.5"/>
<circle cx="289.9" cy="473.6" r="1.5"/>
<circle cx="295.0" cy="479.3" r="1.5"/>
<circle cx="301.1" cy="471.5" r="1.5"/>
<circle cx="297.3" cy="472.0" r="1.5"/>
<circle cx="277.4" cy="474.8" r="1.5"/>
<circle cx="284.1" cy="467.9" r="1.5"/>
<circle cx="304.6" cy="472.2" r="1.5"/>
<circle cx="278.4" cy="469.3" r="1.5"/>
<circle cx="308.3" cy="465.6" r="1.5"/>
<circle cx="291.4" cy="472.4" r="1.5"/>
<circle cx="289.0" cy="472.5" r="1.5"/>
<circle cx="278.5" cy="466.9" r="1.5"/>
<circle cx="281.9" cy="467.2" r="1.5"/>
<circle cx="292.2" cy="478.1" r="1.5"/>
<circle cx="274.1" cy="473.5" r="1.5"/>
<circle cx="273.2" cy="465.9" r="1.5"/>
<circle cx="281.0" cy="470.2" r="1.5"/>
<circle cx="278.9" cy="453.5" r="1.5"/>
<circle cx="298.3" cy="466.3" r="1.5"/>
<circle cx="276.8" cy="474.1" r="1.5"/>
<circle cx="277.2" cy="461.0" r="1.5"/>
<circle cx="288.8" cy="471.4" r="1.5"/>
<circle cx="274.8" cy="475.3" r="1.5"/>
<circle cx="287.6" cy="461.9" r="1.5"/>
<circle cx="302.2" cy="469.3" r="1.5"/>
<circle cx="271.5" cy="473.2" r="1.5"/>
<circle cx="284.9" cy="475.2" r="1.5"/>
<circle cx="269.2" cy="477.0" r="1.5"/>
<circle cx="293.6" cy="472.7" r="1.5"/>
<circle cx="290.1" cy="476.9" r="1.5"/>
<circle cx="291.2" cy="469.4" r="1.5"/>
<circle cx="274.7" cy="477.0" r="1.5"/>
<circle cx="294.0" cy="470.2" r="1.5"/>
<circle cx="285.2" cy="473.6" r="1.5"/>
<circle cx="256.8" cy="473.6" r="1.5"/>
<circle cx="257.0" cy="473.1" r="1.5"/>
<circle cx="294.8" cy="480.1" r="1.5"/>
<circle cx="278.5" cy="472.4" r="1.5"/>
<circle cx="282.8" cy="455.5" r="1.5"/>
<circle cx="291.3" cy="468.5" r="1.5"/>
<circle cx="284.2" cy="463.3" r="1.5"/>
<circle cx="283.1" cy="469.8" r="1.5"/>
<circle cx="297.1" cy="469.9" r="1.5"/>
<circle cx="320.7" cy="463.4" r="1.5"/>
<circle cx="280.7" cy="469.2" r="1.5"/>
<circle cx="274.9" cy="479.4" r="1.5"/>
<circle cx="290.4" cy="460.7" r="1.5"/>
<circle cx="284.6" cy="476.3" r="1.5"/>
<circle cx="268.4" cy="471.5" r="1.5"/>
<circle cx="281.0" cy="484.0" r="1.5"/>
<circle cx="287.9" cy="466.3" r="1.5"/>
<circle cx="277.5" cy="481.5" r="1.5"/>
<circle cx="278.5" cy="483.9" r="1.5"/>
<circle cx="266.9" cy="469.5" r="1.5"/>
<circle cx="281.0" cy="465.1" r="1.5"/>
<circle cx="281.2" cy="473.7" r="1.5"/>
<circle cx="276.4" cy="461.0" r="1.5"/>
<circle cx="297.8" cy="477.1" r="1.5"/>
<circle cx="276.2" cy="471.8" r="1.5"/>
<circle cx="256.1" cy="478.1" r="1.5"/>
<circle cx="269.3" cy="467.1" r="1.5"/>
<circle cx="306.5" cy="459.4" r="1.5"/>
<circle cx="283.7" cy="462.6" r="1.5"/>
<circle cx="263.8" cy="463.7" r="1.5"/>
<circle cx="286.4" cy="460.9" r="1.5"/>
<circle cx="277.2" cy="474.3" r="1.5"/>
<circle cx="281.8" cy="461.2" r="1.5"/>
<circle cx="299.4" cy="468.6" r="1.5"/>
<circle cx="298.4" cy="461.4" r="1.5"/>
<circle cx="301.4" cy="459.3" r="1.5"/>
<circle cx="264.9" cy="468.2" r="1.5"/>
<circle cx="279.5" cy="471.2" r="1.5"/>
<circle cx="277.5" cy="473.7" r="1.5"/>
<circle cx="297.7" cy="463.9" r="1.5"/>
<circle cx="268.8" cy="468.0" r="1.5"/>
<circle cx="292.2" cy="473.5" r="1.5"/>
<circle cx="279.8" cy="463.4" r="1.5"/>
<circle cx="283.3" cy="475.2" r="1.5"/>
<circle cx="275.9" cy="478.0" r="1.5"/>
<circle cx="285.9" cy="470.8" r="1.5"/>
<circle cx="276.8" cy="478.3" r="1.5"/>
<circle cx="283.9" cy="459.9" r="1.5"/>
<circle cx="292.2" cy="465.9" r="1.5"/>
<circle cx="294.9" cy="469.3" r="1.5"/>
<circle cx="276.8" cy="470.9" r="1.5"/>
<circle cx="278.2" cy="464.6" r="1.5"/>
<circle cx="283.7" cy="474.4" r="1.5"/>
<circle cx="284.2" cy="468.6" r="1.5"/>
<circle cx="277.6" cy="473.3" r="1.5"/>
<circle cx="286.4" cy="474.9" r="1.5"/>
<circle cx="287.4" cy="482.1" r="1.5"/>
<circle cx="266.7" cy="470.4" r="1.5"/>
<circle cx="289.1" cy="474.3" r="1.5"/>
<circle cx="267.2" cy="463.1" r="1.5"/>
<circle cx="283.0" cy="475.8" r="1.5"/>
<circle cx="295.1" cy="458.8" r="1.5"/>
<circle cx="284.8" cy="476.4" r="1.5"/>
<circle cx="283.7" cy="462.8" r="1.5"/>
<circle cx="275.8" cy="461.6" r="1.5"/>
<circle cx="296.1" cy="466.5" r="1.5"/>
<circle cx="278.9" cy="464.2" r="1.5"/>
<circle cx="282.0" cy="463.7" r="1.5"/>
<circle cx="273.1" cy="469.9" r="1.5"/>
<circle cx="281.0" cy="472.3" r="1.5"/>
<circle cx="285.0" cy="476.4" r="1.5"/>
<circle cx="283.0" cy="470.9" r="1.5"/>
<circle cx="285.8" cy="464.0" r="1.5"/>
<circle cx="296.1" cy="464.6" r="1.5"/>
<circle cx="266.6" cy="478.4" r="1.5"/>
<circle cx="290.4" cy="465.1" r="1.5"/>
<circle cx="293.6" cy="474.3" r="1.5"/>
<circle cx="290.9" cy="461.3" r="1.5"/>
<circle cx="285.3" cy="462.6" r="1.5"/>
<circle cx="276.9" cy="466.3" r="1.5"/>
<circle cx="274.4" cy="473.1" r="1.5"/>
<circle cx="275.1" cy="473.8" r="1.5"/>
<circle cx="285.3" cy="465.3" r="1.5"/>
<circle cx="285.2" cy="473.3" r="1.5"/>
<circle cx="295.6" cy="466.5" r="1.5"/>
<circle cx="301.9" cy="471.1" r="1.5"/>
<circle cx="296.6" cy="459.7" r="1.5"/>
<circle cx="272.2" cy="477.7" r="1.5"/>
<circle cx="281.1" cy="472.3" r="1.5"/>
<circle cx="296.2" cy="459.1" r="1.5"/>
<circle cx="288.2" cy="480.8" r="1.5"/>
<circle cx="291.9" cy="469.0" r="1.5"/>
<circle cx="289.4" cy="468.7" r="1.5"/>
<circle cx="291.6" cy="476.6" r="1.5"/>
<circle cx="281.0" cy="473.0" r="1.5"/>
<circle cx="286.7" cy="473.5" r="1.5"/>
<circle cx="292.3" cy="461.8" r="1.5"/>
<circle cx="295.8" cy="473.5" r="1.5"/>
<circle cx="271.8" cy="468.5" r="1.5"/>
<circle cx="268.0" cy="468.8" r="1.5"/>
<circle cx="286.9" cy="461.7" r="1.5"/>
<circle cx="275.2" cy="464.5" r="1.5"/>
<circle cx="276.1" cy="465.1" r="1.5"/>
<circle cx="272.1" cy="473.7" r="1.5"/>
<circle cx="281.1" cy="464.3" r="1.5"/>
<circle cx="293.9" cy="464.8" r="1.5"/>
<circle cx="292.9" cy="460.7" r="1.5"/>
<circle cx="298.3" cy="465.1" r="1.5"/>
<circle cx="273.4" cy="472.6" r="1.5"/>
<circle cx="269.3" cy="463.8" r="1.5"/>
<circle cx="285.9" cy="466.0" r="1.5"/>
<circle cx="287.6" cy="469.7" r="1.5"/>
<circle cx="286.1" cy="469.8" r="1.5"/>
<circle cx="290.9" cy="468.5" r="1.5"/>
<circle cx="295.1" cy="474.0" r="1.5"/>
<circle cx="262.6" cy="460.2" r="1.5"/>
<circle cx="299.9" cy="465.0" r="1.5"/>
<circle cx="285.4" cy="468.3" r="1.5"/>
<circle cx="286.3" cy="482.6" r="1.5"/>
<circle cx="275.9" cy="470.3" r="1.5"/>
<circle cx="283.5" cy="462.5" r="1.5"/>
<circle cx="274.2" cy="468.4" r="1.5"/>
<circle cx="283.2" cy="471.6" r="1.5"/>
<circle cx="262.7" cy="461.4" r="1.5"/>
<circle cx="300.8" cy="466.6" r="1.5"/>
<circle cx="292.1" cy="465.8" r="1.5"/>
<circle cx="275.9" cy="482.9" r="1.5"/>
<circle cx="270.4" cy="464.8" r="1.5"/>
<circle cx="290.5" cy="468.7" r="1.5"/>
<circle cx="266.1" cy="471.6" r="1.5"/>
<circle cx="291.1" cy="459.1" r="1.5"/>
<circle cx="277.5" cy="474.6" r="1.5"/>
<circle cx="303.6" cy="453.1" r="1.5"/>
<circle cx="276.1" cy="470.0" r="1.5"/>
<circle cx="273.8" cy="464.5" r="1.5"/>
<circle cx="278.1" cy="472.8" r="1.5"/>
<circle cx="272.1" cy="475.5" r="1.5"/>
<circle cx="292.2" cy="473.7" r="1.5"/>
<circle cx="299.6" cy="464.5" r="1.5"/>
<circle cx="282.9" cy="475.4" r="1.5"/>
<circle cx="296.7" cy="473.8" r="1.5"/>
<circle cx="278.6" cy="466.6" r="1.5"/>
<circle cx="269.5" cy="467.7" r="1.5"/>
<circle cx="273.9" cy="467.0" r="1.5"/>
<circle cx="279.4" cy="474.7" r="1.5"/>
<circle cx="292.4" cy="468.1" r="1.5"/>
<circle cx="271.3" cy="469.9" r="1.5"/>
<circle cx="287.9" cy="474.0" r="1.5"/>
<circle cx="285.6" cy="474.0" r="1.5"/>
<circle cx="276.5" cy="473.8" r="1.5"/>
<circle cx="291.2" cy="466.3" r="1.5"/>
<circle cx="275.4" cy="477.5" r="1.5"/>
<circle cx="272.9" cy="474.3" r="1.5"/>
<circle cx="280.5" cy="467.3" r="1.5"/>
<circle cx="280.7" cy="466.7" r="1.5"/>
<circle cx="283.0" cy="480.2" r="1.5"/>
<circle cx="298.7" cy="467.0" r="1.5"/>
<circle cx="288.3" cy="474.3" r="1.5"/>
<circle cx="278.9" cy="480.9" r="1.5"/>
<circle cx="283.7" cy="473.0" r="1.5"/>
<circle cx="273.3" cy="463.2" r="1.5"/>
<circle cx="272.9" cy="466.2" r="1.5"/>
<circle cx="294.2" cy="466.3" r="1.5"/>
<circle cx="292.7" cy="465.8" r="1.5"/>
<circle cx="273.3" cy="471.1" r="1.5"/>
<circle cx="279.2" cy="459.4" r="1.5"/>
<circle cx="283.9" cy="476.4" r="1.5"/>
<circle cx="281.2" cy="462.0" r="1.5"/>
<circle cx="275.4" cy="462.4" r="1.5"/>
<circle cx="280.8" cy="463.6" r="1.5"/>
<circle cx="282.2" cy="470.4" r="1.5"/>
<circle cx="297.3" cy="460.8" r="1.5"/>
<circle cx="261.8" cy="481.1" r="1.5"/>
<circle cx="287.9" cy="466.5" r="1.5"/>
<circle cx="288.7" cy="463.0" r="1.5"/>
<circle cx="279.8" cy="473.6" r="1.5"/>
<circle cx="280.1" cy="470.3" r="1.5"/>
<circle cx="288.0" cy="469.5" r="1.5"/>
<circle cx="280.8" cy="472.6" r="1.5"/>
<circle cx="297.3" cy="475.8" r="1.5"/>
<circle cx="274.1" cy="474.7" r="1.5"/>
<circle cx="263.4" cy="462.3" r="1.5"/>
<circle cx="287.6" cy="472.1" r="1.5"/>
<circle cx="297.7" cy="457.4" r="1.5"/>
<circle cx="294.7" cy="464.8" r="1.5"/>
<circle cx="278.4" cy="472.3" r="1.5"/>
<circle cx="298.1" cy="462.1" r="1.5"/>
<circle cx="265.4" cy="467.1" r="1.5"/>
<circle cx="282.1" cy="476.6" r="1.5"/>
<circle cx="287.2" cy="467.0" r="1.5"/>
<circle cx="278.0" cy="466.8" r="1.5"/>
<circle cx="293.5" cy="458.1" r="1.5"/>
<circle cx="276.1" cy="464.5" r="1.5"/>
<circle cx="295.1" cy="468.9" r="1.5"/>
<circle cx="276.3" cy="474.4" r="1.5"/>
<circle cx="303.9" cy="473.6" r="1.5"/>
<circle cx="269.6" cy="469.1" r="1.5"/>
<circle cx="295.3" cy="457.0" r="1.5"/>
<circle cx="270.5" cy="467.7" r="1.5"/>
<circle cx="288.8" cy="463.6" r="1.5"/>
<circle cx="284.9" cy="468.0" r="1.5"/>
<circle cx="286.7" cy="461.5" r="1.5"/>
<circle cx="260.0" cy="458.0" r="1.5"/>
<circle cx="285.0" cy="475.0" r="1.5"/>
<circle cx="288.3" cy="458.9" r="1.5"/>
<circle cx="265.0" cy="469.0" r="1.5"/>
<circle cx="273.7" cy="458.7" r="1.5"/>
<circle cx="277.1" cy="464.8" r="1.5"/>
<circle cx="282.0" cy="471.6" r="1.5"/>
<circle cx="285.2" cy="470.1" r="1.5"/>
<circle cx="288.7" cy="468.0" r="1.5"/>
<circle cx="278.5" cy="467.4" r="1.5"/>
<circle cx="295.7" cy="466.3" r="1.5"/>
<circle cx="291.7" cy="478.5" r="1.5"/>
<circle cx="301.5" cy="454.3" r="1.5"/>
<circle cx="284.8" cy="475.0" r="1.5"/>
<circle cx="278.5" cy="465.2" r="1.5"/>
<circle cx="268.2" cy="466.3" r="1.5"/>
<circle cx="283.2" cy="457.6" r="1.5"/>
<circle cx="283.0" cy="464.0" r="1.5"/>
<circle cx="283.4" cy="462.4" r="1.5"/>
<circle cx="284.0" cy="470.0" r="1.5"/>
<circle cx="275.9" cy="465.6" r="1.5"/>
<circle cx="293.1" cy="472.1" r="1.5"/>
<circle cx="275.0" cy="472.5" r="1.5"/>
<circle cx="271.1" cy="467.0" r="1.5"/>
<circle cx="252.5" cy="468.3" r="1.5"/>
<circle cx="290.3" cy="465.4" r="1.5"/>
<circle cx="289.3" cy="464.6" r="1.5"/>
<circle cx="286.3" cy="467.9" r="1.5"/>
<circle cx="272.9" cy="482.8" r="1.5"/>
<circle cx="274.3" cy="461.6" r="1.5"/>
<circle cx="284.5" cy="471.9" r="1.5"/>
<circle cx="286.8" cy="468.1" r="1.5"/>
<circle cx="288.0" cy="474.4" r="1.5"/>
<circle cx="289.7" cy="460.0" r="1.5"/>
<circle cx="301.3" cy="467.3" r="1.5"/>
<circle cx="261.7" cy="476.1" r="1.5"/>
<circle cx="281.6" cy="470.9" r="1.5"/>
<circle cx="304.0" cy="463.9" r="1.5"/>
<circle cx="276.6" cy="463.6" r="1.5"/>
<circle cx="285.1" cy="472.9" r="1.5"/>
<circle cx="287.3" cy="469.7" r="1.5"/>
<circle cx="260.8" cy="472.7" r="1.5"/>
<circle cx="294.5" cy="464.9" r="1.5"/>
<circle cx="277.5" cy="463.4" r="1.5"/>
<circle cx="285.7" cy="459.3" r="1.5"/>
<circle cx="303.2" cy="466.1" r="1.5"/>
<circle cx="276.9" cy="462.2" r="1.5"/>
<circle cx="288.8" cy="474.5" r="1.5"/>
<circle cx="277.2" cy="470.7" r="1.5"/>
<circle cx="286.2" cy="474.7" r="1.5"/>
<circle cx="289.6" cy="476.1" r="1.5"/>
<circle cx="268.3" cy="486.4" r="1.5"/>
<circle cx="277.9" cy="462.7" r="1.5"/>
<circle cx="273.4" cy="472.3" r="1.5"/>
<circle cx="291.3" cy="483.2" r="1.5"/>
<circle cx="296.0" cy="463.3" r="1.5"/>
<circle cx="279.6" cy="466.5" r="1.5"/>
<circle cx="276.9" cy="468.6" r="1.5"/>
<circle cx="276.7" cy="476.8" r="1.5"/>
<circle cx="286.7" cy="472.6" r="1.5"/>
<circle cx="281.5" cy="462.1" r="1.5"/>
<circle cx="287.8" cy="466.3" r="1.5"/>
<circle cx="304.1" cy="474.8" r="1.5"/>
<circle cx="270.5" cy="464.2" r="1.5"/>
<circle cx="277.4" cy="468.3" r="1.5"/>
<circle cx="295.2" cy="466.9" r="1.5"/>
<circle cx="288.0" cy="466.7" r="1.5"/>
<circle cx="280.9" cy="476.8" r="1.5"/>
<circle cx="283.3" cy="481.1" r="1.5"/>
<circle cx="282.7" cy="471.5" r="1.5"/>
<circle cx="287.3" cy="472.8" r="1.5"/>
<circle cx="303.4" cy="463.1" r="1.5"/>
<circle cx="277.6" cy="463.8" r="1.5"/>
<circle cx="302.1" cy="470.3" r="1.5"/>
<circle cx="287.9" cy="471.5" r="1.5"/>
<circle cx="263.8" cy="475.5" r="1.5"/>
<circle cx="284.5" cy="470.9" r="1.5"/>
<circle cx="284.1" cy="468.5" r="1.5"/>
<circle cx="282.4" cy="465.7" r="1.5"/>
<circle cx="280.8" cy="473.2" r="1.5"/>
<circle cx="261.0" cy="476.1" r="1.5"/>
<circle cx="290.0" cy="462.0" r="1.5"/>
<circle cx="288.6" cy="470.5" r="1.5"/>
<circle cx="277.8" cy="479.9" r="1.5"/>
<circle cx="285.1" cy="468.1" r="1.5"/>
<circle cx="269.5" cy="483.6" r="1.5"/>
<circle cx="285.5" cy="470.8" r="1.5"/>
<circle cx="280.8" cy="482.0" r="1.5"/>
<circle cx="281.6" cy="478.9" r="1.5"/>
<circle cx="294.3" cy="474.1" r="1.5"/>
<circle cx="289.9" cy="475.6" r="1.5"/>
<circle cx="282.0" cy="456.5" r="1.5"/>
<circle cx="255.0" cy="478.4" r="1.5"/>
<circle cx="261.7" cy="479.2" r="1.5"/>
<circle cx="315.6" cy="454.7" r="1.5"/>
<circle cx="289.6" cy="471.4" r="1.5"/>
<circle cx="275.7" cy="457.6" r="1.5"/>
<circle cx="282.2" cy="479.5" r="1.5"/>
<circle cx="282.1" cy="469.2" r="1.5"/>
<circle cx="284.1" cy="469.3" r="1.5"/>
<circle cx="286.3" cy="482.8" r="1.5"/>
<circle cx="274.0" cy="458.8" r="1.5"/>
<circle cx="292.1" cy="465.1" r="1.5"/>
<circle cx="277.9" cy="461.0" r="1.5"/>
<circle cx="281.3" cy="466.6" r="1.5"/>
<circle cx="287.7" cy="466.3" r="1.5"/>
<circle cx="267.9" cy="473.5" r="1.5"/>
<circle cx="282.3" cy="457.6" r="1.5"/>
<circle cx="279.6" cy="474.1" r="1.5"/>
<circle cx="282.5" cy="467.2" r="1.5"/>
<circle cx="289.4" cy="464.6" r="1.5"/>
<circle cx="275.9" cy="473.0" r="1.5"/>
<circle cx="281.5" cy="465.4" r="1.5"/>
<circle cx="285.6" cy="470.5" r="1.5"/>
<circle cx="293.0" cy="474.4" r="1.5"/>
<circle cx="284.1" cy="468.9" r="1.5"/>
<circle cx="273.4" cy="471.2" r="1.5"/>
<circle cx="279.5" cy="474.5" r="1.5"/>
<circle cx="291.6" cy="472.3" r="1.5"/>
<circle cx="282.6" cy="471.2" r="1.5"/>
<circle cx="298.9" cy="478.1" r="1.5"/>
<circle cx="277.1" cy="452.4" r="1.5"/>
<circle cx="289.7" cy="459.2" r="1.5"/>
<circle cx="283.7" cy="471.8" r="1.5"/>
<circle cx="298.9" cy="466.7" r="1.5"/>
<circle cx="282.0" cy="465.7" r="1.5"/>
<circle cx="286.4" cy="461.4" r="1.5"/>
<circle cx="289.1" cy="470.7" r="1.5"/>
<circle cx="297.4" cy="466.0" r="1.5"/>
<circle cx="286.6" cy="470.0" r="1.5"/>
<circle cx="283.0" cy="463.3" r="1.5"/>
<circle cx="277.4" cy="470.0" r="1.5"/>
<circle cx="288.4" cy="475.0" r="1.5"/>
<circle cx="277.0" cy="471.3" r="1.5"/>
<circle cx="289.7" cy="473.8" r="1.5"/>
<circle cx="285.8" cy="470.2" r="1.5"/>
<circle cx="279.6" cy="469.6" r="1.5"/>
<circle cx="281.2" cy="458.7" r="1.5"/>
<circle cx="275.9" cy="455.1" r="1.5"/>
<circle cx="288.6" cy="474.0" r="1.5"/>
<circle cx="279.5" cy="470.5" r="1.5"/>
<circle cx="284.9" cy="467.5" r="1.5"/>
<circle cx="298.7" cy="466.6" r="1.5"/>
<circle cx="286.7" cy="468.5" r="1.5"/>
<circle cx="304.2" cy="457.3" r="1.5"/>
<circle cx="285.4" cy="460.8" r="1.5"/>
<circle cx="275.8" cy="464.0" r="1.5"/>
<circle cx="291.3" cy="461.8" r="1.5"/>
<circle cx="272.8" cy="468.1" r="1.5"/>
<circle cx="273.3" cy="464.0" r="1.5"/>
<circle cx="299.8" cy="463.6" r="1.5"/>
<circle cx="274.9" cy="478.3" r="1.5"/>
<circle cx="284.2" cy="475.9" r="1.5"/>
<circle cx="266.3" cy="468.9" r="1.5"/>
<circle cx="288.3" cy="470.0" r="1.5"/>
<circle cx="289.0" cy="476.2" r="1.5"/>
<circle cx="289.4" cy="475.3" r="1.5"/>
<circle cx="291.2" cy="463.9" r="1.5"/>
<circle cx="285.3" cy="476.9" r="1.5"/>
<circle cx="273.4" cy="473.3" r="1.5"/>
<circle cx="289.9" cy="476.7" r="1.5"/>
<circle cx="265.9" cy="485.2" r="1.5"/>
<circle cx="267.1" cy="470.6" r="1.5"/>
<circle cx="309.8" cy="458.6" r="1.5"/>
<circle cx="306.9" cy="468.8" r="1.5"/>
<circle cx="303.4" cy="476.2" r="1.5"/>
<circle cx="285.0" cy="464.2" r="1.5"/>
<circle cx="280.1" cy="461.6" r="1.5"/>
<circle cx="268.9" cy="472.8" r="1.5"/>
<circle cx="268.2" cy="472.7" r="1.5"/>
<circle cx="282.6" cy="468.4" r="1.5"/>
<circle cx="272.5" cy="462.6" r="1.5"/>
<circle cx="291.7" cy="462.6" r="1.5"/>
<circle cx="277.3" cy="468.6" r="1.5"/>
<circle cx="290.5" cy="480.6" r="1.5"/>
<circle cx="303.9" cy="472.2" r="1.5"/>
<circle cx="290.4" cy="472.6" r="1.5"/>
<circle cx="281.1" cy="468.1" r="1.5"/>
<circle cx="265.2" cy="474.2" r="1.5"/>
<circle cx="278.1" cy="472.0" r="1.5"/>
<circle cx="306.8" cy="472.4" r="1.5"/>
<circle cx="295.4" cy="473.5" r="1.5"/>
<circle cx="277.5" cy="465.7" r="1.5"/>
<circle cx="268.1" cy="467.0" r="1.5"/>
<circle cx="285.1" cy="473.3" r="1.5"/>
<circle cx="289.4" cy="466.5" r="1.5"/>
<circle cx="271.5" cy="470.5" r="1.5"/>
<circle cx="286.6" cy="456.8" r="1.5"/>
<circle cx="284.3" cy="460.3" r="1.5"/>
<circle cx="278.5" cy="468.7" r="1.5"/>
<circle cx="273.0" cy="467.0" r="1.5"/>
<circle cx="283.4" cy="463.0" r="1.5"/>
<circle cx="290.4" cy="472.5" r="1.5"/>
<circle cx="289.0" cy="462.2" r="1.5"/>
<circle cx="281.2" cy="467.3" r="1.5"/>
<circle cx="284.5" cy="473.6" r="1.5"/>
<circle cx="277.7" cy="469.8" r="1.5"/>
<circle cx="291.9" cy="466.4" r="1.5"/>
<circle cx="290.8" cy="468.3" r="1.5"/>
<circle cx="268.5" cy="470.2" r="1.5"/>
<circle cx="284.8" cy="466.4" r="1.5"/>
<circle cx="303.3" cy="465.0" r="1.5"/>
<circle cx="267.9" cy="469.5" r="1.5"/>
<circle cx="280.9" cy="472.4" r="1.5"/>
<circle cx="309.7" cy="467.6" r="1.5"/>
<circle cx="291.8" cy="464.0" r="1.5"/>
<circle cx="273.4" cy="465.7" r="1.5"/>
<circle cx="281.2" cy="466.6" r="1.5"/>
<circle cx="283.2" cy="465.2" r="1.5"/>
<circle cx="270.7" cy="465.5" r="1.5"/>
<circle cx="291.4" cy="461.3" r="1.5"/>
<circle cx="291.4" cy="478.4" r="1.5"/>
<circle cx="273.5" cy="475.5" r="1.5"/>
<circle cx="292.0" cy="452.2" r="1.5"/>
<circle cx="292.2" cy="472.3" r="1.5"/>
<circle cx="275.0" cy="480.6" r="1.5"/>
<circle cx="264.5" cy="478.7" r="1.5"/>
<circle cx="286.0" cy="462.6" r="1.5"/>
<circle cx="284.3" cy="459.7" r="1.5"/>
<circle cx="289.5" cy="471.9" r="1.5"/>
<circle cx="296.1" cy="476.6" r="1.5"/>
<circle cx="276.0" cy="472.8" r="1.5"/>
<circle cx="276.7" cy="452.0" r="1.5"/>
<circle cx="293.2" cy="475.4" r="1.5"/>
<circle cx="285.5" cy="479.5" r="1.5"/>
<circle cx="282.6" cy="458.6" r="1.5"/>
<circle cx="278.3" cy="467.8" r="1.5"/>
<circle cx="286.0" cy="466.4" r="1.5"/>
<circle cx="259.7" cy="463.6" r="1.5"/>
<circle cx="281.6" cy="476.1" r="1.5"/>
<circle cx="276.2" cy="461.7" r="1.5"/>
<circle cx="278.1" cy="475.1" r="1.5"/>
<circle cx="296.2" cy="461.9" r="1.5"/>
<circle cx="290.3" cy="476.6" r="1.5"/>
<circle cx="291.5" cy="461.6" r="1.5"/>
<circle cx="289.5" cy="465.5" r="1.5"/>
<circle cx="277.8" cy="481.4" r="1.5"/>
<circle cx="282.8" cy="472.2" r="1.5"/>
<circle cx="296.0" cy="478.0" r="1.5"/>
<circle cx="286.1" cy="465.1" r="1.5"/>
<circle cx="282.6" cy="465.0" r="1.5"/>
<circle cx="281.9" cy="468.5" r="1.5"/>
<circle cx="267.5" cy="465.6" r="1.5"/>
<circle cx="268.2" cy="470.0" r="1.5"/>
<circle cx="291.6" cy="472.8" r="1.5"/>
<circle cx="285.1" cy="463.0" r="1.5"/>
<circle cx="282.4" cy="460.8" r="1.5"/>
<circle cx="289.1" cy="459.1" r="1.5"/>
<circle cx="276.4" cy="480.2" r="1.5"/>
<circle cx="287.5" cy="462.7" r="1.5"/>
<circle cx="280.9" cy="463.0" r="1.5"/>
<circle cx="274.7" cy="467.2" r="1.5"/>
<circle cx="274.2" cy="471.0" r="1.5"/>
<circle cx="294.4" cy="462.8" r="1.5"/>
<circle cx="273.4" cy="465.0" r="1.5"/>
<circle cx="276.7" cy="470.4" r="1.5"/>
<circle cx="276.1" cy="464.3" r="1.5"/>
<circle cx="276.0" cy="475.7" r="1.5"/>
<circle cx="293.3" cy="474.6" r="1.5"/>
<circle cx="285.1" cy="463.1" r="1.5"/>
<circle cx="297.6" cy="481.4" r="1.5"/>
<circle cx="276.3" cy="465.9" r="1.5"/>
<circle cx="294.6" cy="472.3" r="1.5"/>
<circle cx="287.3" cy="481.5" r="1.5"/>
<circle cx="281.2" cy="464.3" r="1.5"/>
<circle cx="279.3" cy="470.8" r="1.5"/>
<circle cx="285.1" cy="476.5" r="1.5"/>
<circle cx="291.2" cy="463.9" r="1.5"/>
<circle cx="290.9" cy="467.2" r="1.5"/>
<circle cx="299.0" cy="474.7" r="1.5"/>
<circle cx="276.9" cy="473.0" r="1.5"/>
<circle cx="269.4" cy="473.1" r="1.5"/>
<circle cx="283.9" cy="471.8" r="1.5"/>
<circle cx="270.4" cy="465.0" r="1.5"/>
<circle cx="277.2" cy="468.2" r="1.5"/>
<circle cx="290.1" cy="463.4" r="1.5"/>
<circle cx="261.9" cy="467.5" r="1.5"/>
<circle cx="291.2" cy="473.6" r="1.5"/>
<circle cx="269.7" cy="474.2" r="1.5"/>
<circle cx="284.2" cy="473.4" r="1.5"/>
<circle cx="284.9" cy="476.6" r="1.5"/>
<circle cx="275.5" cy="483.0" r="1.5"/>
<circle cx="294.7" cy="460.8" r="1.5"/>
<circle cx="266.7" cy="476.8" r="1.5"/>
<circle cx="266.6" cy="465.6" r="1.5"/>
<circle cx="288.1" cy="467.7" r="1.5"/>
<circle cx="284.6" cy="455.6" r="1.5"/>
<circle cx="275.1" cy="472.9" r="1.5"/>
<circle cx="304.9" cy="469.6" r="1.5"/>
<circle cx="283.4" cy="469.7" r="1.5"/>
<circle cx="293.7" cy="472.0" r="1.5"/>
<circle cx="273.6" cy="457.7" r="1.5"/>
<circle cx="280.5" cy="466.8" r="1.5"/>
<circle cx="302.2" cy="462.0" r="1.5"/>
<circle cx="290.9" cy="456.0" r="1.5"/>
<circle cx="291.2" cy="460.3" r="1.5"/>
<circle cx="283.2" cy="467.7" r="1.5"/>
<circle cx="284.0" cy="468.9" r="1.5"/>
<circle cx="270.8" cy="473.7" r="1.5"/>
<circle cx="273.5" cy="469.5" r="1.5"/>
<circle cx="273.9" cy="469.5" r="1.5"/>
<circle cx="281.6" cy="467.8" r="1.5"/>
<circle cx="274.5" cy="477.1" r="1.5"/>
<circle cx="281.0" cy="469.5" r="1.5"/>
<circle cx="259.7" cy="474.6" r="1.5"/>
<circle cx="266.2" cy="469.1" r="1.5"/>
<circle cx="261.2" cy="482.5" r="1.5"/>
<circle cx="264.1" cy="468.9" r="1.5"/>
<circle cx="269.5" cy="462.2" r="1.5"/>
<circle cx="264.2" cy="479.5" r="1.5"/>
<circle cx="305.4" cy="466.0" r="1.5"/>
<circle cx="291.4" cy="465.1" r="1.5"/>
<circle cx="271.3" cy="481.0" r="1.5"/>
<circle cx="289.4" cy="461.1" r="1.5"/>
<circle cx="281.5" cy="468.8" r="1.5"/>
<circle cx="279.6" cy="468.5" r="1.5"/>
<circle cx="275.6" cy="468.9" r="1.5"/>
<circle cx="278.2" cy="467.2" r="1.5"/>
</g>
<g fill="#a5a5a5" fill-opacity="0.5">
<circle cx="265.0" cy="455.0" r="1.5"/>
<circle cx="270.0" cy="452.0" r="1.5"/>
<circle cx="276.0" cy="456.0" r="1.5"/>
<circle cx="300.0" cy="455.0" r="1.5"/>
<circle cx="306.0" cy="456.0" r="1.5"/>
<circle cx="312.0" cy="462.0" r="1.5"/>
<circle cx="318.0" cy="458.0" r="1.5"/>
<circle cx="323.0" cy="455.0" r="1.5"/>
<circle cx="326.0" cy="460.0" r="1.5"/>
<circle cx="309.0" cy="478.0" r="1.5"/>
<circle cx="316.0" cy="483.0" r="1.5"/>
<circle cx="324.0" cy="479.0" r="1.5"/>
<circle cx="302.0" cy="490.0" r="1.5"/>
<circle cx="296.0" cy="494.0" r="1.5"/>
<circle cx="285.0" cy="492.0" r="1.5"/>
<circle cx="262.0" cy="485.0" r="1.5"/>
<circle cx="258.0" cy="478.0" r="1.5"/>
<circle cx="300.0" cy="484.0" r="1.5"/>
<circle cx="288.0" cy="456.0" r="1.5"/>
<circle cx="318.0" cy="470.0" r="1.5"/>
</g>
<g fill="#a5a5a5" fill-opacity="0.5">
<circle cx="439.1" cy="482.4" r="1.5"/>
<circle cx="432.2" cy="462.8" r="1.5"/>
<circle cx="442.8" cy="476.8" r="1.5"/>
<circle cx="444.3" cy="476.1" r="1.5"/>
<circle cx="439.5" cy="469.8" r="1.5"/>
<circle cx="433.2" cy="472.8" r="1.5"/>
<circle cx="437.1" cy="479.5" r="1.5"/>
<circle cx="447.2" cy="465.2" r="1.5"/>
<circle cx="448.0" cy="472.7" r="1.5"/>
<circle cx="452.2" cy="481.8" r="1.5"/>
<circle cx="446.6" cy="462.1" r="1.5"/>
<circle cx="447.6" cy="463.3" r="1.5"/>
<circle cx="456.9" cy="468.0" r="1.5"/>
<circle cx="439.2" cy="485.0" r="1.5"/>
<circle cx="423.3" cy="475.4" r="1.5"/>
<circle cx="430.3" cy="471.4" r="1.5"/>
<circle cx="433.0" cy="478.5" r="1.5"/>
<circle cx="438.1" cy="476.0" r="1.5"/>
<circle cx="447.6" cy="462.4" r="1.5"/>
<circle cx="455.3" cy="470.7" r="1.5"/>
<circle cx="424.3" cy="471.1" r="1.5"/>
<circle cx="450.0" cy="479.0" r="1.5"/>
<circle cx="434.2" cy="474.9" r="1.5"/>
<circle cx="443.6" cy="479.8" r="1.5"/>
<circle cx="439.8" cy="479.8" r="1.5"/>
<circle cx="432.1" cy="469.9" r="1.5"/>
<circle cx="447.9" cy="477.5" r="1.5"/>
<circle cx="440.7" cy="477.4" r="1.5"/>
<circle cx="443.3" cy="478.2" r="1.5"/>
<circle cx="453.0" cy="475.7" r="1.5"/>
<circle cx="449.5" cy="470.4" r="1.5"/>
<circle cx="435.5" cy="459.4" r="1.5"/>
<circle cx="445.3" cy="473.4" r="1.5"/>
<circle cx="446.6" cy="461.4" r="1.5"/>
<circle cx="436.2" cy="470.6" r="1.5"/>
<circle cx="422.8" cy="481.0" r="1.5"/>
<circle cx="453.6" cy="464.5" r="1.5"/>
<circle cx="445.7" cy="484.0" r="1.5"/>
<circle cx="428.8" cy="480.9" r="1.5"/>
<circle cx="457.4" cy="483.8" r="1.5"/>
<circle cx="427.3" cy="468.2" r="1.5"/>
<circle cx="443.3" cy="480.9" r="1.5"/>
<circle cx="428.3" cy="470.1" r="1.5"/>
<circle cx="429.8" cy="481.6" r="1.5"/>
<circle cx="435.5" cy="477.7" r="1.5"/>
<circle cx="447.8" cy="480.3" r="1.5"/>
<circle cx="445.4" cy="475.3" r="1.5"/>
<circle cx="453.0" cy="475.5" r="1.5"/>
<circle cx="428.3" cy="471.4" r="1.5"/>
<circle cx="450.4" cy="473.6" r="1.5"/>
<circle cx="437.6" cy="475.5" r="1.5"/>
<circle cx="475.1" cy="470.1" r="1.5"/>
<circle cx="446.1" cy="476.0" r="1.5"/>
<circle cx="438.4" cy="481.4" r="1.5"/>
<circle cx="450.0" cy="475.3" r="1.5"/>
<circle cx="427.3" cy="482.8" r="1.5"/>
<circle cx="449.0" cy="472.4" r="1.5"/>
<circle cx="413.6" cy="475.8" r="1.5"/>
<circle cx="428.7" cy="473.3" r="1.5"/>
<circle cx="435.9" cy="468.9" r="1.5"/>
<circle cx="451.6" cy="473.4" r="1.5"/>
<circle cx="453.8" cy="466.4" r="1.5"/>
<circle cx="439.2" cy="482.4" r="1.5"/>
<circle cx="444.5" cy="468.7" r="1.5"/>
<circle cx="432.0" cy="470.7" r="1.5"/>
<circle cx="440.3" cy="478.0" r="1.5"/>
<circle cx="442.7" cy="478.2" r="1.5"/>
<circle cx="449.8" cy="473.6" r="1.5"/>
<circle cx="454.4" cy="477.0" r="1.5"/>
<circle cx="439.3" cy="472.7" r="1.5"/>
<circle cx="441.0" cy="469.0" r="1.5"/>
<circle cx="427.4" cy="475.1" r="1.5"/>
<circle cx="435.9" cy="477.8" r="1.5"/>
<circle cx="435.0" cy="474.8" r="1.5"/>
<circle cx="443.2" cy="470.4" r="1.5"/>
<circle cx="443.1" cy="468.9" r="1.5"/>
<circle cx="436.7" cy="479.0" r="1.5"/>
<circle cx="445.1" cy="473.2" r="1.5"/>
<circle cx="433.1" cy="478.7" r="1.5"/>
<circle cx="461.6" cy="458.0" r="1.5"/>
<circle cx="451.9" cy="473.9" r="1.5"/>
<circle cx="452.4" cy="479.9" r="1.5"/>
<circle cx="430.7" cy="485.5" r="1.5"/>
<circle cx="435.0" cy="472.6" r="1.5"/>
<circle cx="447.5" cy="472.4" r="1.5"/>
<circle cx="443.8" cy="470.1" r="1.5"/>
<circle cx="430.4" cy="474.7" r="1.5"/>
<circle cx="429.9" cy="483.1" r="1.5"/>
<circle cx="443.6" cy="482.2" r="1.5"/>
<circle cx="428.3" cy="461.7" r="1.5"/>
<circle cx="417.7" cy="473.4" r="1.5"/>
<circle cx="427.8" cy="477.1" r="1.5"/>
<circle cx="426.1" cy="466.2" r="1.5"/>
<circle cx="444.0" cy="470.8" r="1.5"/>
<circle cx="448.0" cy="478.0" r="1.5"/>
<circle cx="444.7" cy="465.6" r="1.5"/>
<circle cx="432.2" cy="488.6" r="1.5"/>
<circle cx="438.7" cy="475.6" r="1.5"/>
<circle cx="442.4" cy="473.3" r="1.5"/>
<circle cx="439.3" cy="470.2" r="1.5"/>
<circle cx="435.8" cy="461.4" r="1.5"/>
<circle cx="458.2" cy="471.3" r="1.5"/>
<circle cx="427.6" cy="478.1" r="1.5"/>
<circle cx="447.9" cy="463.8" r="1.5"/>
<circle cx="435.7" cy="483.4" r="1.5"/>
<circle cx="446.6" cy="475.7" r="1.5"/>
<circle cx="451.3" cy="471.8" r="1.5"/>
<circle cx="438.0" cy="483.9" r="1.5"/>
<circle cx="439.2" cy="473.2" r="1.5"/>
<circle cx="447.6" cy="473.2" r="1.5"/>
<circle cx="428.4" cy="486.6" r="1.5"/>
<circle cx="440.3" cy="484.9" r="1.5"/>
<circle cx="446.3" cy="467.4" r="1.5"/>
<circle cx="456.9" cy="471.0" r="1.5"/>
<circle cx="432.3" cy="474.2" r="1.5"/>
<circle cx="419.1" cy="478.1" r="1.5"/>
<circle cx="433.6" cy="472.7" r="1.5"/>
<circle cx="431.9" cy="478.7" r="1.5"/>
<circle cx="444.7" cy="480.0" r="1.5"/>
<circle cx="458.1" cy="473.7" r="1.5"/>
<circle cx="442.0" cy="475.4" r="1.5"/>
<circle cx="432.7" cy="470.9" r="1.5"/>
<circle cx="448.8" cy="467.4" r="1.5"/>
<circle cx="421.2" cy="473.2" r="1.5"/>
<circle cx="443.7" cy="482.5" r="1.5"/>
<circle cx="433.7" cy="468.4" r="1.5"/>
<circle cx="442.0" cy="472.5" r="1.5"/>
<circle cx="443.6" cy="470.1" r="1.5"/>
<circle cx="443.1" cy="469.7" r="1.5"/>
<circle cx="451.1" cy="474.4" r="1.5"/>
<circle cx="446.9" cy="470.2" r="1.5"/>
<circle cx="426.4" cy="475.0" r="1.5"/>
<circle cx="440.5" cy="480.5" r="1.5"/>
<circle cx="450.9" cy="472.4" r="1.5"/>
<circle cx="440.6" cy="467.4" r="1.5"/>
<circle cx="440.6" cy="474.9" r="1.5"/>
<circle cx="436.8" cy="467.1" r="1.5"/>
<circle cx="454.1" cy="466.5" r="1.5"/>
<circle cx="457.9" cy="479.3" r="1.5"/>
<circle cx="456.8" cy="466.8" r="1.5"/>
<circle cx="447.4" cy="464.2" r="1.5"/>
<circle cx="437.3" cy="464.3" r="1.5"/>
<circle cx="433.5" cy="471.1" r="1.5"/>
<circle cx="450.8" cy="479.3" r="1.5"/>
<circle cx="437.2" cy="472.1" r="1.5"/>
<circle cx="431.4" cy="467.3" r="1.5"/>
<circle cx="422.8" cy="473.8" r="1.5"/>
<circle cx="447.0" cy="468.1" r="1.5"/>
<circle cx="444.7" cy="465.9" r="1.5"/>
<circle cx="430.7" cy="471.1" r="1.5"/>
<circle cx="449.9" cy="469.4" r="1.5"/>
<circle cx="448.7" cy="470.6" r="1.5"/>
<circle cx="429.6" cy="462.0" r="1.5"/>
<circle cx="436.1" cy="467.9" r="1.5"/>
<circle cx="450.1" cy="475.3" r="1.5"/>
<circle cx="424.3" cy="480.2" r="1.5"/>
<circle cx="446.3" cy="454.9" r="1.5"/>
<circle cx="430.3" cy="475.9" r="1.5"/>
<circle cx="424.7" cy="470.4" r="1.5"/>
<circle cx="446.1" cy="474.5" r="1.5"/>
<circle cx="445.4" cy="476.8" r="1.5"/>
<circle cx="431.9" cy="489.1" r="1.5"/>
<circle cx="446.1" cy="486.2" r="1.5"/>
<circle cx="438.1" cy="477.2" r="1.5"/>
<circle cx="444.3" cy="472.2" r="1.5"/>
<circle cx="444.0" cy="474.7" r="1.5"/>
<circle cx="449.0" cy="474.6" r="1.5"/>
<circle cx="441.4" cy="476.4" r="1.5"/>
<circle cx="455.4" cy="472.5" r="1.5"/>
<circle cx="446.9" cy="473.7" r="1.5"/>
<circle cx="421.0" cy="469.7" r="1.5"/>
<circle cx="431.5" cy="465.7" r="1.5"/>
<circle cx="434.5" cy="463.1" r="1.5"/>
<circle cx="443.5" cy="469.8" r="1.5"/>
<circle cx="453.1" cy="474.6" r="1.5"/>
<circle cx="428.0" cy="473.2" r="1.5"/>
<circle cx="441.2" cy="469.2" r="1.5"/>
<circle cx="437.1" cy="467.0" r="1.5"/>
<circle cx="433.4" cy="475.8" r="1.5"/>
<circle cx="437.4" cy="481.1" r="1.5"/>
<circle cx="419.5" cy="470.5" r="1.5"/>
<circle cx="437.0" cy="482.8" r="1.5"/>
<circle cx="451.9" cy="477.0" r="1.5"/>
<circle cx="450.5" cy="482.3" r="1.5"/>
<circle cx="447.5" cy="471.3" r="1.5"/>
<circle cx="442.5" cy="468.7" r="1.5"/>
<circle cx="438.4" cy="475.8" r="1.5"/>
<circle cx="435.6" cy="474.4" r="1.5"/>
<circle cx="436.3" cy="465.6" r="1.5"/>
<circle cx="426.2" cy="478.9" r="1.5"/>
<circle cx="440.9" cy="478.4" r="1.5"/>
<circle cx="439.6" cy="473.3" r="1.5"/>
<circle cx="443.3" cy="471.0" r="1.5"/>
<circle cx="454.4" cy="478.2" r="1.5"/>
<circle cx="444.5" cy="466.5" r="1.5"/>
<circle cx="435.2" cy="475.0" r="1.5"/>
<circle cx="452.1" cy="471.9" r="1.5"/>
<circle cx="440.2" cy="476.5" r="1.5"/>
<circle cx="441.6" cy="472.2" r="1.5"/>
<circle cx="429.2" cy="481.8" r="1.5"/>
<circle cx="439.9" cy="470.1" r="1.5"/>
<circle cx="439.4" cy="465.2" r="1.5"/>
<circle cx="423.6" cy="463.8" r="1.5"/>
<circle cx="444.1" cy="464.7" r="1.5"/>
<circle cx="441.4" cy="465.8" r="1.5"/>
<circle cx="422.5" cy="471.0" r="1.5"/>
<circle cx="432.9" cy="469.6" r="1.5"/>
<circle cx="457.5" cy="472.8" r="1.5"/>
<circle cx="434.3" cy="479.0" r="1.5"/>
<circle cx="437.0" cy="480.9" r="1.5"/>
<circle cx="424.6" cy="481.2" r="1.5"/>
<circle cx="429.4" cy="469.6" r="1.5"/>
<circle cx="442.2" cy="466.3" r="1.5"/>
<circle cx="423.8" cy="472.2" r="1.5"/>
<circle cx="437.2" cy="463.3" r="1.5"/>
<circle cx="449.9" cy="467.1" r="1.5"/>
<circle cx="433.9" cy="472.2" r="1.5"/>
<circle cx="440.6" cy="479.5" r="1.5"/>
<circle cx="418.6" cy="475.1" r="1.5"/>
<circle cx="448.9" cy="473.7" r="1.5"/>
<circle cx="439.3" cy="466.3" r="1.5"/>
<circle cx="443.4" cy="469.7" r="1.5"/>
<circle cx="441.4" cy="466.4" r="1.5"/>
<circle cx="436.9" cy="472.4" r="1.5"/>
<circle cx="425.2" cy="480.7" r="1.5"/>
<circle cx="438.8" cy="465.2" r="1.5"/>
<circle cx="437.5" cy="474.0" r="1.5"/>
<circle cx="436.6" cy="467.0" r="1.5"/>
<circle cx="437.8" cy="464.9" r="1.5"/>
<circle cx="423.4" cy="481.8" r="1.5"/>
<circle cx="457.1" cy="482.9" r="1.5"/>
<circle cx="462.6" cy="479.2" r="1.5"/>
<circle cx="430.7" cy="470.4" r="1.5"/>
<circle cx="451.0" cy="469.1" r="1.5"/>
<circle cx="436.5" cy="473.2" r="1.5"/>
<circle cx="444.2" cy="464.2" r="1.5"/>
<circle cx="440.3" cy="476.0" r="1.5"/>
<circle cx="419.5" cy="481.8" r="1.5"/>
<circle cx="447.7" cy="467.3" r="1.5"/>
<circle cx="458.3" cy="473.9" r="1.5"/>
<circle cx="444.8" cy="482.0" r="1.5"/>
<circle cx="414.3" cy="475.5" r="1.5"/>
<circle cx="450.7" cy="480.7" r="1.5"/>
<circle cx="439.7" cy="471.9" r="1.5"/>
<circle cx="432.3" cy="471.7" r="1.5"/>
<circle cx="431.4" cy="459.1" r="1.5"/>
<circle cx="434.1" cy="467.4" r="1.5"/>
<circle cx="434.0" cy="470.7" r="1.5"/>
<circle cx="435.1" cy="474.1" r="1.5"/>
<circle cx="439.3" cy="470.8" r="1.5"/>
<circle cx="433.8" cy="472.9" r="1.5"/>
<circle cx="436.9" cy="472.5" r="1.5"/>
<circle cx="453.8" cy="473.2" r="1.5"/>
<circle cx="436.0" cy="460.8" r="1.5"/>
<circle cx="425.4" cy="456.2" r="1.5"/>
<circle cx="448.8" cy="478.9" r="1.5"/>
<circle cx="435.9" cy="470.5" r="1.5"/>
<circle cx="444.7" cy="476.1" r="1.5"/>
<circle cx="422.6" cy="473.0" r="1.5"/>
<circle cx="436.8" cy="465.5" r="1.5"/>
<circle cx="454.1" cy="476.3" r="1.5"/>
<circle cx="433.9" cy="473.3" r="1.5"/>
<circle cx="434.5" cy="470.4" r="1.5"/>
<circle cx="436.0" cy="479.6" r="1.5"/>
<circle cx="440.0" cy="470.1" r="1.5"/>
<circle cx="433.2" cy="475.2" r="1.5"/>
<circle cx="431.2" cy="463.9" r="1.5"/>
<circle cx="438.6" cy="482.9" r="1.5"/>
<circle cx="433.2" cy="474.6" r="1.5"/>
<circle cx="438.0" cy="480.7" r="1.5"/>
<circle cx="444.7" cy="464.8" r="1.5"/>
<circle cx="457.4" cy="471.4" r="1.5"/>
<circle cx="430.8" cy="470.8" r="1.5"/>
<circle cx="440.6" cy="479.5" r="1.5"/>
<circle cx="437.2" cy="468.7" r="1.5"/>
<circle cx="453.3" cy="481.4" r="1.5"/>
<circle cx="436.4" cy="474.2" r="1.5"/>
<circle cx="443.7" cy="470.8" r="1.5"/>
<circle cx="430.8" cy="480.2" r="1.5"/>
<circle cx="429.0" cy="462.8" r="1.5"/>
<circle cx="445.8" cy="479.6" r="1.5"/>
<circle cx="448.2" cy="467.5" r="1.5"/>
<circle cx="437.5" cy="466.5" r="1.5"/>
<circle cx="434.7" cy="458.4" r="1.5"/>
<circle cx="431.3" cy="482.3" r="1.5"/>
<circle cx="428.3" cy="484.7" r="1.5"/>
<circle cx="441.7" cy="460.8" r="1.5"/>
<circle cx="449.4" cy="466.2" r="1.5"/>
<circle cx="445.5" cy="471.4" r="1.5"/>
<circle cx="436.5" cy="472.2" r="1.5"/>
<circle cx="426.8" cy="469.6" r="1.5"/>
<circle cx="436.0" cy="484.3" r="1.5"/>
<circle cx="434.2" cy="475.6" r="1.5"/>
<circle cx="444.6" cy="480.1" r="1.5"/>
<circle cx="437.7" cy="474.5" r="1.5"/>
<circle cx="430.7" cy="489.5" r="1.5"/>
<circle cx="425.1" cy="476.0" r="1.5"/>
<circle cx="436.6" cy="474.4" r="1.5"/>
<circle cx="434.8" cy="470.8" r="1.5"/>
<circle cx="450.0" cy="478.0" r="1.5"/>
<circle cx="439.3" cy="472.3" r="1.5"/>
<circle cx="441.9" cy="472.4" r="1.5"/>
<circle cx="444.5" cy="477.3" r="1.5"/>
<circle cx="444.8" cy="462.9" r="1.5"/>
<circle cx="439.6" cy="466.6" r="1.5"/>
<circle cx="444.6" cy="470.9" r="1.5"/>
<circle cx="443.1" cy="472.2" r="1.5"/>
<circle cx="449.5" cy="480.5" r="1.5"/>
<circle cx="441.9" cy="463.7" r="1.5"/>
<circle cx="440.2" cy="485.3" r="1.5"/>
<circle cx="433.2" cy="473.2" r="1.5"/>
<circle cx="464.7" cy="481.2" r="1.5"/>
<circle cx="446.6" cy="473.9" r="1.5"/>
<circle cx="426.9" cy="484.4" r="1.5"/>
<circle cx="449.3" cy="461.8" r="1.5"/>
<circle cx="439.0" cy="472.4" r="1.5"/>
<circle cx="439.5" cy="469.1" r="1.5"/>
<circle cx="465.1" cy="465.4" r="1.5"/>
<circle cx="454.8" cy="475.6" r="1.5"/>
<circle cx="440.2" cy="475.9" r="1.5"/>
<circle cx="447.6" cy="467.6" r="1.5"/>
<circle cx="436.5" cy="480.9" r="1.5"/>
<circle cx="449.7" cy="474.6" r="1.5"/>
<circle cx="428.2" cy="464.2" r="1.5"/>
<circle cx="455.2" cy="480.6" r="1.5"/>
<circle cx="445.4" cy="475.1" r="1.5"/>
<circle cx="436.9" cy="476.5" r="1.5"/>
<circle cx="452.3" cy="476.7" r="1.5"/>
<circle cx="434.8" cy="475.8" r="1.5"/>
<circle cx="434.9" cy="473.2" r="1.5"/>
<circle cx="429.2" cy="459.6" r="1.5"/>
<circle cx="429.8" cy="475.3" r="1.5"/>
<circle cx="432.3" cy="477.2" r="1.5"/>
<circle cx="434.6" cy="475.5" r="1.5"/>
<circle cx="435.6" cy="482.4" r="1.5"/>
<circle cx="436.3" cy="473.6" r="1.5"/>
<circle cx="451.7" cy="481.2" r="1.5"/>
<circle cx="428.6" cy="483.3" r="1.5"/>
<circle cx="429.6" cy="468.2" r="1.5"/>
<circle cx="431.9" cy="480.1" r="1.5"/>
<circle cx="429.6" cy="477.7" r="1.5"/>
<circle cx="444.5" cy="471.6" r="1.5"/>
<circle cx="444.9" cy="485.4" r="1.5"/>
<circle cx="456.4" cy="466.5" r="1.5"/>
<circle cx="443.0" cy="470.5" r="1.5"/>
<circle cx="439.0" cy="470.0" r="1.5"/>
<circle cx="445.8" cy="467.4" r="1.5"/>
<circle cx="427.9" cy="474.6" r="1.5"/>
<circle cx="443.5" cy="480.3" r="1.5"/>
<circle cx="447.1" cy="467.2" r="1.5"/>
<circle cx="431.1" cy="476.0" r="1.5"/>
<circle cx="443.0" cy="477.4" r="1.5"/>
<circle cx="453.6" cy="458.2" r="1.5"/>
<circle cx="434.2" cy="477.1" r="1.5"/>
<circle cx="429.6" cy="484.4" r="1.5"/>
<circle cx="439.5" cy="476.9" r="1.5"/>
<circle cx="438.3" cy="475.5" r="1.5"/>
<circle cx="444.4" cy="476.1" r="1.5"/>
<circle cx="426.6" cy="462.8" r="1.5"/>
<circle cx="439.5" cy="478.1" r="1.5"/>
<circle cx="437.9" cy="472.4" r="1.5"/>
<circle cx="451.1" cy="476.2" r="1.5"/>
<circle cx="430.9" cy="475.1" r="1.5"/>
<circle cx="438.3" cy="473.8" r="1.5"/>
<circle cx="439.6" cy="476.9" r="1.5"/>
<circle cx="440.3" cy="475.3" r="1.5"/>
<circle cx="440.7" cy="471.9" r="1.5"/>
<circle cx="434.7" cy="475.4" r="1.5"/>
<circle cx="444.9" cy="482.5" r="1.5"/>
<circle cx="465.2" cy="466.8" r="1.5"/>
<circle cx="433.9" cy="480.3" r="1.5"/>
<circle cx="436.3" cy="474.4" r="1.5"/>
<circle cx="427.8" cy="478.1" r="1.5"/>
<circle cx="425.9" cy="480.7" r="1.5"/>
<circle cx="432.1" cy="475.4" r="1.5"/>
<circle cx="450.3" cy="467.2" r="1.5"/>
<circle cx="439.3" cy="486.3" r="1.5"/>
<circle cx="426.5" cy="475.3" r="1.5"/>
<circle cx="420.6" cy="477.2" r="1.5"/>
<circle cx="438.8" cy="466.5" r="1.5"/>
<circle cx="428.6" cy="482.0" r="1.5"/>
<circle cx="447.1" cy="465.2" r="1.5"/>
<circle cx="448.5" cy="466.8" r="1.5"/>
<circle cx="432.5" cy="476.4" r="1.5"/>
<circle cx="439.3" cy="476.6" r="1.5"/>
<circle cx="451.2" cy="468.3" r="1.5"/>
<circle cx="445.9" cy="474.5" r="1.5"/>
<circle cx="423.9" cy="479.6" r="1.5"/>
<circle cx="450.4" cy="463.9" r="1.5"/>
<circle cx="437.2" cy="479.5" r="1.5"/>
<circle cx="449.4" cy="470.2" r="1.5"/>
<circle cx="438.1" cy="471.6" r="1.5"/>
<circle cx="428.2" cy="475.0" r="1.5"/>
<circle cx="461.4" cy="462.6" r="1.5"/>
<circle cx="440.1" cy="467.5" r="1.5"/>
<circle cx="455.5" cy="461.8" r="1.5"/>
<circle cx="449.3" cy="475.1" r="1.5"/>
<circle cx="431.9" cy="472.1" r="1.5"/>
<circle cx="441.0" cy="483.6" r="1.5"/>
<circle cx="443.2" cy="480.2" r="1.5"/>
<circle cx="451.0" cy="472.8" r="1.5"/>
<circle cx="440.8" cy="472.8" r="1.5"/>
<circle cx="456.8" cy="479.7" r="1.5"/>
<circle cx="450.2" cy="468.3" r="1.5"/>
<circle cx="437.7" cy="478.2" r="1.5"/>
<circle cx="438.6" cy="465.1" r="1.5"/>
<circle cx="425.5" cy="477.4" r="1.5"/>
<circle cx="448.1" cy="475.8" r="1.5"/>
<circle cx="455.9" cy="462.2" r="1.5"/>
<circle cx="422.6" cy="475.6" r="1.5"/>
<circle cx="449.1" cy="467.2" r="1.5"/>
<circle cx="442.9" cy="475.0" r="1.5"/>
<circle cx="435.7" cy="468.5" r="1.5"/>
<circle cx="437.1" cy="473.0" r="1.5"/>
<circle cx="447.6" cy="470.7" r="1.5"/>
<circle cx="430.7" cy="467.5" r="1.5"/>
<circle cx="435.8" cy="476.7" r="1.5"/>
<circle cx="431.8" cy="471.7" r="1.5"/>
<circle cx="445.5" cy="474.3" r="1.5"/>
<circle cx="460.7" cy="474.3" r="1.5"/>
<circle cx="446.6" cy="485.5" r="1.5"/>
<circle cx="421.6" cy="464.3" r="1.5"/>
<circle cx="432.5" cy="474.6" r="1.5"/>
<circle cx="452.0" cy="476.2" r="1.5"/>
<circle cx="434.9" cy="464.8" r="1.5"/>
<circle cx="443.8" cy="471.1" r="1.5"/>
<circle cx="430.5" cy="466.3" r="1.5"/>
<circle cx="447.1" cy="470.7" r="1.5"/>
<circle cx="442.1" cy="472.2" r="1.5"/>
<circle cx="432.4" cy="470.8" r="1.5"/>
<circle cx="433.9" cy="473.1" r="1.5"/>
<circle cx="433.1" cy="477.4" r="1.5"/>
<circle cx="430.1" cy="475.3" r="1.5"/>
<circle cx="441.2" cy="476.5" r="1.5"/>
<circle cx="409.8" cy="479.6" r="1.5"/>
<circle cx="443.3" cy="469.8" r="1.5"/>
<circle cx="436.3" cy="470.8" r="1.5"/>
<circle cx="424.9" cy="492.4" r="1.5"/>
<circle cx="437.5" cy="475.6" r="1.5"/>
<circle cx="427.7" cy="471.1" r="1.5"/>
<circle cx="415.8" cy="474.3" r="1.5"/>
<circle cx="430.5" cy="473.4" r="1.5"/>
<circle cx="443.4" cy="480.5" r="1.5"/>
<circle cx="439.6" cy="465.8" r="1.5"/>
<circle cx="434.1" cy="476.5" r="1.5"/>
<circle cx="457.4" cy="455.7" r="1.5"/>
<circle cx="426.5" cy="469.3" r="1.5"/>
<circle cx="437.4" cy="476.5" r="1.5"/>
<circle cx="453.0" cy="474.8" r="1.5"/>
<circle cx="453.3" cy="467.1" r="1.5"/>
<circle cx="430.8" cy="463.1" r="1.5"/>
<circle cx="431.0" cy="477.2" r="1.5"/>
<circle cx="438.8" cy="484.7" r="1.5"/>
<circle cx="435.5" cy="466.5" r="1.5"/>
<circle cx="444.0" cy="459.3" r="1.5"/>
<circle cx="446.8" cy="473.6" r="1.5"/>
<circle cx="424.5" cy="476.4" r="1.5"/>
<circle cx="440.6" cy="479.6" r="1.5"/>
<circle cx="435.7" cy="469.0" r="1.5"/>
<circle cx="438.3" cy="471.3" r="1.5"/>
<circle cx="427.8" cy="478.7" r="1.5"/>
<circle cx="447.8" cy="466.7" r="1.5"/>
<circle cx="432.5" cy="465.9" r="1.5"/>
<circle cx="433.4" cy="468.2" r="1.5"/>
<circle cx="437.9" cy="476.1" r="1.5"/>
<circle cx="453.1" cy="464.9" r="1.5"/>
<circle cx="430.3" cy="465.6" r="1.5"/>
<circle cx="437.5" cy="476.7" r="1.5"/>
<circle cx="429.0" cy="472.6" r="1.5"/>
<circle cx="427.9" cy="464.1" r="1.5"/>
<circle cx="432.5" cy="477.4" r="1.5"/>
<circle cx="434.2" cy="461.4" r="1.5"/>
<circle cx="427.7" cy="470.8" r="1.5"/>
<circle cx="457.5" cy="462.7" r="1.5"/>
<circle cx="465.9" cy="475.2" r="1.5"/>
<circle cx="450.5" cy="476.4" r="1.5"/>
<circle cx="412.2" cy="475.6" r="1.5"/>
<circle cx="440.3" cy="474.8" r="1.5"/>
<circle cx="450.7" cy="470.3" r="1.5"/>
<circle cx="429.8" cy="475.6" r="1.5"/>
</g>
<g fill="#a5a5a5" fill-opacity="0.5">
<circle cx="414.0" cy="473.0" r="1.5"/>
<circle cx="416.0" cy="478.0" r="1.5"/>
<circle cx="420.0" cy="480.0" r="1.5"/>
<circle cx="425.0" cy="455.0" r="1.5"/>
<circle cx="432.0" cy="455.0" r="1.5"/>
<circle cx="436.0" cy="452.0" r="1.5"/>
<circle cx="458.0" cy="458.0" r="1.5"/>
<circle cx="466.0" cy="462.0" r="1.5"/>
<circle cx="472.0" cy="465.0" r="1.5"/>
<circle cx="475.0" cy="470.0" r="1.5"/>
<circle cx="470.0" cy="488.0" r="1.5"/>
<circle cx="458.0" cy="497.0" r="1.5"/>
<circle cx="450.0" cy="500.0" r="1.5"/>
<circle cx="444.0" cy="492.0" r="1.5"/>
<circle cx="440.0" cy="490.0" r="1.5"/>
<circle cx="430.0" cy="490.0" r="1.5"/>
<circle cx="412.0" cy="470.0" r="1.5"/>
<circle cx="418.0" cy="467.0" r="1.5"/>
</g>
<g fill="#a5a5a5" fill-opacity="0.5">
<circle cx="614.4" cy="475.4" r="1.5"/>
<circle cx="585.9" cy="462.4" r="1.5"/>
<circle cx="599.9" cy="474.3" r="1.5"/>
<circle cx="599.4" cy="464.7" r="1.5"/>
<circle cx="595.5" cy="477.1" r="1.5"/>
<circle cx="585.8" cy="475.2" r="1.5"/>
<circle cx="606.8" cy="473.2" r="1.5"/>
<circle cx="609.4" cy="468.8" r="1.5"/>
<circle cx="599.7" cy="478.7" r="1.5"/>
<circle cx="596.8" cy="469.1" r="1.5"/>
<circle cx="585.6" cy="468.7" r="1.5"/>
<circle cx="609.1" cy="476.5" r="1.5"/>
<circle cx="608.1" cy="473.9" r="1.5"/>
<circle cx="607.4" cy="472.6" r="1.5"/>
<circle cx="612.1" cy="470.6" r="1.5"/>
<circle cx="612.8" cy="471.0" r="1.5"/>
<circle cx="583.6" cy="465.2" r="1.5"/>
<circle cx="598.9" cy="469.0" r="1.5"/>
<circle cx="587.8" cy="467.5" r="1.5"/>
<circle cx="603.1" cy="472.8" r="1.5"/>
<circle cx="610.3" cy="467.5" r="1.5"/>
<circle cx="605.2" cy="475.5" r="1.5"/>
<circle cx="604.9" cy="478.6" r="1.5"/>
<circle cx="595.9" cy="470.9" r="1.5"/>
<circle cx="603.0" cy="469.3" r="1.5"/>
<circle cx="600.5" cy="472.0" r="1.5"/>
<circle cx="600.7" cy="468.9" r="1.5"/>
<circle cx="596.2" cy="470.6" r="1.5"/>
<circle cx="584.4" cy="471.5" r="1.5"/>
<circle cx="589.2" cy="469.7" r="1.5"/>
<circle cx="589.3" cy="471.2" r="1.5"/>
<circle cx="596.9" cy="469.8" r="1.5"/>
<circle cx="593.0" cy="471.3" r="1.5"/>
<circle cx="618.3" cy="463.7" r="1.5"/>
<circle cx="606.6" cy="472.1" r="1.5"/>
<circle cx="596.9" cy="465.6" r="1.5"/>
<circle cx="618.1" cy="472.1" r="1.5"/>
<circle cx="611.8" cy="469.7" r="1.5"/>
<circle cx="592.8" cy="475.4" r="1.5"/>
<circle cx="609.0" cy="469.9" r="1.5"/>
<circle cx="598.7" cy="473.6" r="1.5"/>
<circle cx="592.4" cy="467.3" r="1.5"/>
<circle cx="600.6" cy="475.2" r="1.5"/>
<circle cx="610.3" cy="472.0" r="1.5"/>
<circle cx="615.5" cy="470.7" r="1.5"/>
<circle cx="595.8" cy="480.8" r="1.5"/>
<circle cx="595.7" cy="473.4" r="1.5"/>
<circle cx="607.0" cy="471.6" r="1.5"/>
<circle cx="603.5" cy="474.0" r="1.5"/>
<circle cx="607.0" cy="468.7" r="1.5"/>
<circle cx="601.1" cy="476.8" r="1.5"/>
<circle cx="608.9" cy="469.4" r="1.5"/>
<circle cx="601.8" cy="466.9" r="1.5"/>
<circle cx="587.3" cy="468.6" r="1.5"/>
<circle cx="618.3" cy="468.8" r="1.5"/>
<circle cx="579.9" cy="470.2" r="1.5"/>
<circle cx="593.8" cy="474.0" r="1.5"/>
<circle cx="614.4" cy="469.9" r="1.5"/>
<circle cx="602.4" cy="467.3" r="1.5"/>
<circle cx="614.1" cy="468.3" r="1.5"/>
<circle cx="601.4" cy="481.0" r="1.5"/>
<circle cx="591.2" cy="471.6" r="1.5"/>
<circle cx="600.6" cy="473.0" r="1.5"/>
<circle cx="606.2" cy="477.4" r="1.5"/>
<circle cx="606.4" cy="473.7" r="1.5"/>
<circle cx="587.9" cy="472.5" r="1.5"/>
<circle cx="586.9" cy="475.9" r="1.5"/>
<circle cx="600.6" cy="475.1" r="1.5"/>
<circle cx="595.9" cy="471.9" r="1.5"/>
<circle cx="602.1" cy="473.4" r="1.5"/>
<circle cx="600.0" cy="468.6" r="1.5"/>
<circle cx="597.2" cy="468.3" r="1.5"/>
<circle cx="591.3" cy="465.8" r="1.5"/>
<circle cx="585.5" cy="478.6" r="1.5"/>
<circle cx="593.2" cy="466.3" r="1.5"/>
<circle cx="611.8" cy="472.5" r="1.5"/>
<circle cx="599.8" cy="475.8" r="1.5"/>
<circle cx="621.1" cy="467.9" r="1.5"/>
<circle cx="616.4" cy="473.8" r="1.5"/>
<circle cx="613.6" cy="469.1" r="1.5"/>
<circle cx="619.1" cy="476.3" r="1.5"/>
<circle cx="573.4" cy="475.8" r="1.5"/>
<circle cx="615.6" cy="465.6" r="1.5"/>
<circle cx="604.8" cy="470.4" r="1.5"/>
<circle cx="603.5" cy="467.5" r="1.5"/>
<circle cx="608.1" cy="474.3" r="1.5"/>
<circle cx="600.1" cy="470.8" r="1.5"/>
<circle cx="582.7" cy="473.0" r="1.5"/>
<circle cx="587.5" cy="470.9" r="1.5"/>
<circle cx="592.6" cy="481.8" r="1.5"/>
<circle cx="601.2" cy="477.5" r="1.5"/>
<circle cx="600.8" cy="470.9" r="1.5"/>
<circle cx="609.1" cy="471.1" r="1.5"/>
<circle cx="626.2" cy="470.8" r="1.5"/>
<circle cx="618.6" cy="466.4" r="1.5"/>
<circle cx="591.4" cy="473.6" r="1.5"/>
<circle cx="586.4" cy="479.0" r="1.5"/>
<circle cx="606.9" cy="471.5" r="1.5"/>
<circle cx="620.2" cy="469.3" r="1.5"/>
<circle cx="593.1" cy="460.0" r="1.5"/>
<circle cx="580.3" cy="469.4" r="1.5"/>
<circle cx="578.9" cy="473.8" r="1.5"/>
<circle cx="611.7" cy="473.2" r="1.5"/>
<circle cx="583.7" cy="467.1" r="1.5"/>
<circle cx="586.3" cy="473.7" r="1.5"/>
<circle cx="612.2" cy="470.3" r="1.5"/>
<circle cx="601.9" cy="472.0" r="1.5"/>
<circle cx="609.1" cy="467.4" r="1.5"/>
<circle cx="590.8" cy="474.2" r="1.5"/>
<circle cx="606.7" cy="473.2" r="1.5"/>
<circle cx="601.8" cy="474.3" r="1.5"/>
<circle cx="606.3" cy="468.6" r="1.5"/>
<circle cx="619.6" cy="476.0" r="1.5"/>
<circle cx="598.6" cy="470.6" r="1.5"/>
<circle cx="593.4" cy="465.0" r="1.5"/>
<circle cx="589.8" cy="464.8" r="1.5"/>
<circle cx="594.0" cy="472.3" r="1.5"/>
<circle cx="600.4" cy="465.0" r="1.5"/>
<circle cx="599.0" cy="468.3" r="1.5"/>
<circle cx="589.3" cy="475.5" r="1.5"/>
<circle cx="589.8" cy="474.7" r="1.5"/>
<circle cx="582.8" cy="471.9" r="1.5"/>
<circle cx="593.5" cy="475.0" r="1.5"/>
<circle cx="605.5" cy="467.8" r="1.5"/>
<circle cx="608.0" cy="476.6" r="1.5"/>
<circle cx="615.5" cy="477.6" r="1.5"/>
<circle cx="597.3" cy="480.1" r="1.5"/>
<circle cx="594.8" cy="470.4" r="1.5"/>
<circle cx="584.5" cy="469.8" r="1.5"/>
<circle cx="585.4" cy="471.2" r="1.5"/>
<circle cx="582.1" cy="478.6" r="1.5"/>
<circle cx="610.0" cy="478.0" r="1.5"/>
<circle cx="613.9" cy="472.0" r="1.5"/>
<circle cx="606.3" cy="472.0" r="1.5"/>
<circle cx="580.8" cy="465.7" r="1.5"/>
<circle cx="596.9" cy="475.0" r="1.5"/>
<circle cx="586.2" cy="471.6" r="1.5"/>
<circle cx="595.0" cy="474.1" r="1.5"/>
<circle cx="609.5" cy="466.8" r="1.5"/>
<circle cx="588.8" cy="477.1" r="1.5"/>
<circle cx="612.7" cy="471.2" r="1.5"/>
<circle cx="610.3" cy="471.5" r="1.5"/>
<circle cx="606.4" cy="469.5" r="1.5"/>
<circle cx="607.2" cy="478.3" r="1.5"/>
<circle cx="617.1" cy="476.8" r="1.5"/>
<circle cx="602.6" cy="475.2" r="1.5"/>
<circle cx="596.6" cy="469.7" r="1.5"/>
<circle cx="602.8" cy="466.5" r="1.5"/>
<circle cx="603.4" cy="463.8" r="1.5"/>
<circle cx="619.1" cy="475.1" r="1.5"/>
<circle cx="604.5" cy="468.2" r="1.5"/>
<circle cx="594.7" cy="469.3" r="1.5"/>
<circle cx="583.2" cy="468.9" r="1.5"/>
<circle cx="591.3" cy="474.5" r="1.5"/>
<circle cx="615.9" cy="477.6" r="1.5"/>
<circle cx="586.5" cy="464.9" r="1.5"/>
<circle cx="616.9" cy="474.8" r="1.5"/>
<circle cx="612.8" cy="474.2" r="1.5"/>
<circle cx="603.9" cy="480.2" r="1.5"/>
<circle cx="610.8" cy="474.2" r="1.5"/>
<circle cx="590.3" cy="471.6" r="1.5"/>
<circle cx="616.0" cy="473.8" r="1.5"/>
<circle cx="611.2" cy="470.5" r="1.5"/>
<circle cx="609.0" cy="468.8" r="1.5"/>
<circle cx="599.2" cy="475.6" r="1.5"/>
<circle cx="619.8" cy="470.1" r="1.5"/>
<circle cx="598.9" cy="470.1" r="1.5"/>
<circle cx="599.2" cy="471.2" r="1.5"/>
<circle cx="610.9" cy="472.8" r="1.5"/>
<circle cx="601.2" cy="473.0" r="1.5"/>
<circle cx="581.8" cy="470.1" r="1.5"/>
<circle cx="622.9" cy="467.1" r="1.5"/>
<circle cx="594.8" cy="472.1" r="1.5"/>
<circle cx="612.2" cy="470.2" r="1.5"/>
<circle cx="589.7" cy="477.5" r="1.5"/>
<circle cx="575.6" cy="466.7" r="1.5"/>
<circle cx="593.0" cy="461.0" r="1.5"/>
<circle cx="616.1" cy="479.7" r="1.5"/>
<circle cx="584.6" cy="469.0" r="1.5"/>
<circle cx="598.4" cy="474.0" r="1.5"/>
<circle cx="599.1" cy="473.5" r="1.5"/>
<circle cx="606.4" cy="470.6" r="1.5"/>
<circle cx="601.7" cy="477.1" r="1.5"/>
<circle cx="603.1" cy="473.9" r="1.5"/>
<circle cx="600.8" cy="474.1" r="1.5"/>
<circle cx="619.0" cy="471.8" r="1.5"/>
<circle cx="595.9" cy="467.8" r="1.5"/>
<circle cx="612.4" cy="468.0" r="1.5"/>
<circle cx="606.3" cy="482.0" r="1.5"/>
<circle cx="603.5" cy="478.8" r="1.5"/>
<circle cx="601.3" cy="470.7" r="1.5"/>
<circle cx="607.6" cy="467.5" r="1.5"/>
<circle cx="574.4" cy="470.3" r="1.5"/>
<circle cx="593.2" cy="471.8" r="1.5"/>
<circle cx="622.8" cy="474.2" r="1.5"/>
<circle cx="584.4" cy="472.6" r="1.5"/>
<circle cx="581.5" cy="461.3" r="1.5"/>
<circle cx="624.7" cy="467.5" r="1.5"/>
<circle cx="576.9" cy="470.3" r="1.5"/>
<circle cx="599.0" cy="473.0" r="1.5"/>
<circle cx="599.3" cy="470.2" r="1.5"/>
<circle cx="610.6" cy="470.5" r="1.5"/>
<circle cx="592.9" cy="472.5" r="1.5"/>
<circle cx="595.0" cy="475.7" r="1.5"/>
<circle cx="601.6" cy="470.3" r="1.5"/>
<circle cx="596.4" cy="473.6" r="1.5"/>
<circle cx="612.4" cy="470.0" r="1.5"/>
<circle cx="576.7" cy="474.0" r="1.5"/>
<circle cx="592.8" cy="473.6" r="1.5"/>
<circle cx="594.5" cy="472.7" r="1.5"/>
<circle cx="598.4" cy="467.6" r="1.5"/>
<circle cx="586.7" cy="470.4" r="1.5"/>
<circle cx="602.9" cy="464.0" r="1.5"/>
<circle cx="574.3" cy="471.7" r="1.5"/>
<circle cx="625.4" cy="468.1" r="1.5"/>
<circle cx="598.3" cy="466.3" r="1.5"/>
<circle cx="587.1" cy="477.3" r="1.5"/>
<circle cx="583.0" cy="471.8" r="1.5"/>
<circle cx="593.0" cy="473.5" r="1.5"/>
<circle cx="618.7" cy="472.1" r="1.5"/>
<circle cx="597.8" cy="475.8" r="1.5"/>
<circle cx="597.8" cy="462.9" r="1.5"/>
<circle cx="616.3" cy="469.1" r="1.5"/>
<circle cx="603.7" cy="480.9" r="1.5"/>
<circle cx="611.7" cy="472.7" r="1.5"/>
<circle cx="619.9" cy="467.6" r="1.5"/>
<circle cx="582.6" cy="465.8" r="1.5"/>
<circle cx="602.4" cy="472.1" r="1.5"/>
<circle cx="593.6" cy="480.3" r="1.5"/>
<circle cx="610.5" cy="472.1" r="1.5"/>
<circle cx="593.5" cy="470.7" r="1.5"/>
<circle cx="604.6" cy="469.6" r="1.5"/>
<circle cx="633.7" cy="479.2" r="1.5"/>
<circle cx="608.8" cy="471.4" r="1.5"/>
<circle cx="582.0" cy="475.4" r="1.5"/>
<circle cx="593.7" cy="475.6" r="1.5"/>
<circle cx="606.1" cy="465.5" r="1.5"/>
<circle cx="602.0" cy="470.3" r="1.5"/>
<circle cx="598.8" cy="470.7" r="1.5"/>
<circle cx="602.5" cy="470.3" r="1.5"/>
<circle cx="610.6" cy="473.7" r="1.5"/>
<circle cx="599.7" cy="470.5" r="1.5"/>
<circle cx="597.7" cy="469.4" r="1.5"/>
<circle cx="599.6" cy="472.1" r="1.5"/>
<circle cx="598.0" cy="462.9" r="1.5"/>
<circle cx="602.2" cy="467.3" r="1.5"/>
<circle cx="601.0" cy="482.0" r="1.5"/>
<circle cx="612.8" cy="460.9" r="1.5"/>
<circle cx="581.5" cy="475.1" r="1.5"/>
<circle cx="592.5" cy="464.1" r="1.5"/>
<circle cx="581.8" cy="470.1" r="1.5"/>
<circle cx="592.2" cy="470.9" r="1.5"/>
<circle cx="597.8" cy="471.1" r="1.5"/>
<circle cx="596.4" cy="467.5" r="1.5"/>
<circle cx="609.2" cy="478.1" r="1.5"/>
<circle cx="591.5" cy="470.2" r="1.5"/>
<circle cx="623.9" cy="466.7" r="1.5"/>
<circle cx="588.7" cy="473.2" r="1.5"/>
<circle cx="611.3" cy="471.2" r="1.5"/>
<circle cx="614.1" cy="470.9" r="1.5"/>
<circle cx="603.7" cy="471.0" r="1.5"/>
<circle cx="604.9" cy="471.2" r="1.5"/>
<circle cx="617.4" cy="474.6" r="1.5"/>
<circle cx="619.6" cy="470.8" r="1.5"/>
<circle cx="592.5" cy="468.3" r="1.5"/>
<circle cx="596.7" cy="472.5" r="1.5"/>
<circle cx="596.5" cy="472.2" r="1.5"/>
<circle cx="606.0" cy="466.1" r="1.5"/>
<circle cx="585.6" cy="476.5" r="1.5"/>
<circle cx="594.1" cy="479.1" r="1.5"/>
<circle cx="597.9" cy="465.0" r="1.5"/>
<circle cx="588.1" cy="467.3" r="1.5"/>
<circle cx="630.6" cy="463.5" r="1.5"/>
<circle cx="574.9" cy="466.6" r="1.5"/>
<circle cx="601.8" cy="480.8" r="1.5"/>
<circle cx="612.6" cy="467.1" r="1.5"/>
<circle cx="618.7" cy="477.1" r="1.5"/>
<circle cx="593.8" cy="473.5" r="1.5"/>
<circle cx="605.5" cy="470.5" r="1.5"/>
<circle cx="596.2" cy="468.5" r="1.5"/>
<circle cx="606.2" cy="468.9" r="1.5"/>
<circle cx="611.0" cy="474.3" r="1.5"/>
<circle cx="583.3" cy="472.6" r="1.5"/>
<circle cx="599.2" cy="474.5" r="1.5"/>
<circle cx="597.2" cy="476.2" r="1.5"/>
<circle cx="610.5" cy="475.2" r="1.5"/>
<circle cx="608.2" cy="465.2" r="1.5"/>
<circle cx="600.5" cy="475.9" r="1.5"/>
<circle cx="611.3" cy="473.9" r="1.5"/>
<circle cx="601.0" cy="470.8" r="1.5"/>
<circle cx="586.0" cy="463.0" r="1.5"/>
<circle cx="599.2" cy="474.7" r="1.5"/>
<circle cx="598.3" cy="468.7" r="1.5"/>
<circle cx="599.2" cy="476.9" r="1.5"/>
<circle cx="594.4" cy="470.6" r="1.5"/>
<circle cx="605.1" cy="475.8" r="1.5"/>
<circle cx="606.0" cy="469.0" r="1.5"/>
<circle cx="595.6" cy="466.0" r="1.5"/>
<circle cx="599.0" cy="475.3" r="1.5"/>
<circle cx="603.2" cy="469.2" r="1.5"/>
</g>
<g fill="#a5a5a5" fill-opacity="0.5">
<circle cx="574.0" cy="474.0" r="1.5"/>
<circle cx="572.0" cy="479.0" r="1.5"/>
<circle cx="577.0" cy="481.0" r="1.5"/>
<circle cx="583.0" cy="477.0" r="1.5"/>
<circle cx="585.0" cy="460.0" r="1.5"/>
<circle cx="594.0" cy="458.0" r="1.5"/>
<circle cx="598.0" cy="455.0" r="1.5"/>
<circle cx="615.0" cy="462.0" r="1.5"/>
<circle cx="618.0" cy="461.0" r="1.5"/>
<circle cx="626.0" cy="462.0" r="1.5"/>
<circle cx="631.0" cy="470.0" r="1.5"/>
<circle cx="632.0" cy="485.0" r="1.5"/>
<circle cx="625.0" cy="486.0" r="1.5"/>
<circle cx="610.0" cy="486.0" r="1.5"/>
<circle cx="608.0" cy="489.0" r="1.5"/>
<circle cx="600.0" cy="489.0" r="1.5"/>
<circle cx="590.0" cy="485.0" r="1.5"/>
<circle cx="583.0" cy="484.0" r="1.5"/>
<circle cx="589.0" cy="476.0" r="1.5"/>
</g>
<line x1="58.50" y1="472.50" x2="207.70" y2="472.50" stroke="#1a1a1a" stroke-width="1" />
<line x1="123.90" y1="397.50" x2="123.90" y2="528.40" stroke="#1a1a1a" stroke-width="1" />
<line x1="218.50" y1="472.50" x2="368.00" y2="472.50" stroke="#1a1a1a" stroke-width="1" />
<line x1="284.20" y1="397.50" x2="284.20" y2="528.40" stroke="#1a1a1a" stroke-width="1" />
<line x1="378.75" y1="472.50" x2="528.20" y2="472.50" stroke="#1a1a1a" stroke-width="1" />
<line x1="444.40" y1="397.50" x2="444.40" y2="528.40" stroke="#1a1a1a" stroke-width="1" />
<line x1="536.00" y1="472.50" x2="685.10" y2="472.50" stroke="#1a1a1a" stroke-width="1" />
<line x1="601.30" y1="397.50" x2="601.30" y2="528.40" stroke="#1a1a1a" stroke-width="1" />
<g fill="#000">
<circle cx="64.6" cy="457.6" r="1.65"/>
<circle cx="72.3" cy="460.4" r="1.65"/>
<circle cx="75.3" cy="461.3" r="1.65"/>
<circle cx="81.5" cy="455.8" r="1.65"/>
<circle cx="82.5" cy="454.3" r="1.65"/>
<circle cx="85.5" cy="452.3" r="1.65"/>
<circle cx="87.1" cy="451.8" r="1.65"/>
<circle cx="87.6" cy="453.3" r="1.65"/>
<circle cx="90.7" cy="452.8" r="1.65"/>
<circle cx="91.7" cy="452.3" r="1.65"/>
<circle cx="87.6" cy="459.4" r="1.65"/>
<circle cx="91.2" cy="458.4" r="1.65"/>
<circle cx="94.7" cy="448.0" r="1.65"/>
<circle cx="96.5" cy="449.4" r="1.65"/>
<circle cx="98.3" cy="450.3" r="1.65"/>
<circle cx="99.6" cy="448.9" r="1.65"/>
<circle cx="100.5" cy="450.7" r="1.65"/>
<circle cx="101.8" cy="452.1" r="1.65"/>
<circle cx="103.6" cy="452.9" r="1.65"/>
<circle cx="104.5" cy="451.6" r="1.65"/>
<circle cx="102.7" cy="453.4" r="1.65"/>
<circle cx="88.9" cy="452.5" r="1.65"/>
<circle cx="90.7" cy="453.4" r="1.65"/>
<circle cx="92.0" cy="452.5" r="1.65"/>
<circle cx="91.6" cy="458.3" r="1.65"/>
<circle cx="96.9" cy="458.8" r="1.65"/>
<circle cx="101.4" cy="459.2" r="1.65"/>
<circle cx="107.2" cy="454.7" r="1.65"/>
<circle cx="108.5" cy="456.5" r="1.65"/>
<circle cx="110.3" cy="457.4" r="1.65"/>
<circle cx="112.1" cy="457.0" r="1.65"/>
<circle cx="113.9" cy="457.9" r="1.65"/>
<circle cx="115.7" cy="458.8" r="1.65"/>
<circle cx="116.6" cy="459.6" r="1.65"/>
<circle cx="110.3" cy="451.2" r="1.65"/>
<circle cx="111.7" cy="448.9" r="1.65"/>
<circle cx="112.6" cy="448.0" r="1.65"/>
<circle cx="111.2" cy="452.5" r="1.65"/>
<circle cx="116.1" cy="445.8" r="1.65"/>
<circle cx="121.0" cy="447.6" r="1.65"/>
<circle cx="116.6" cy="451.6" r="1.65"/>
<circle cx="121.5" cy="456.5" r="1.65"/>
<circle cx="107.2" cy="456.5" r="1.65"/>
<circle cx="106.3" cy="458.3" r="1.65"/>
<circle cx="102.3" cy="461.4" r="1.65"/>
<circle cx="104.1" cy="460.5" r="1.65"/>
<circle cx="105.9" cy="461.4" r="1.65"/>
<circle cx="107.6" cy="462.3" r="1.65"/>
<circle cx="109.4" cy="463.2" r="1.65"/>
<circle cx="111.2" cy="462.3" r="1.65"/>
<circle cx="113.0" cy="461.4" r="1.65"/>
<circle cx="114.8" cy="462.3" r="1.65"/>
<circle cx="116.6" cy="464.1" r="1.65"/>
<circle cx="118.4" cy="465.9" r="1.65"/>
<circle cx="123.7" cy="465.4" r="1.65"/>
<circle cx="101.4" cy="464.1" r="1.65"/>
<circle cx="103.2" cy="463.2" r="1.65"/>
<circle cx="100.5" cy="465.9" r="1.65"/>
<circle cx="102.7" cy="466.3" r="1.65"/>
<circle cx="105.0" cy="465.9" r="1.65"/>
<circle cx="106.8" cy="465.0" r="1.65"/>
<circle cx="108.5" cy="465.4" r="1.65"/>
<circle cx="110.8" cy="465.0" r="1.65"/>
<circle cx="112.1" cy="466.8" r="1.65"/>
<circle cx="105.9" cy="468.6" r="1.65"/>
<circle cx="107.6" cy="469.5" r="1.65"/>
<circle cx="109.4" cy="468.6" r="1.65"/>
<circle cx="111.7" cy="469.5" r="1.65"/>
<circle cx="105.4" cy="470.8" r="1.65"/>
<circle cx="107.2" cy="472.1" r="1.65"/>
<circle cx="109.4" cy="471.2" r="1.65"/>
<circle cx="111.7" cy="471.7" r="1.65"/>
<circle cx="106.8" cy="473.9" r="1.65"/>
<circle cx="113.0" cy="473.9" r="1.65"/>
<circle cx="113.9" cy="475.7" r="1.65"/>
<circle cx="96.0" cy="473.9" r="1.65"/>
<circle cx="97.8" cy="474.4" r="1.65"/>
<circle cx="95.6" cy="475.7" r="1.65"/>
<circle cx="97.4" cy="476.6" r="1.65"/>
<circle cx="99.2" cy="475.7" r="1.65"/>
<circle cx="96.0" cy="477.5" r="1.65"/>
<circle cx="99.6" cy="478.4" r="1.65"/>
<circle cx="100.5" cy="480.2" r="1.65"/>
<circle cx="103.2" cy="478.4" r="1.65"/>
<circle cx="104.5" cy="478.8" r="1.65"/>
<circle cx="113.9" cy="485.1" r="1.65"/>
<circle cx="118.8" cy="484.2" r="1.65"/>
<circle cx="121.0" cy="483.8" r="1.65"/>
<circle cx="123.3" cy="483.8" r="1.65"/>
<circle cx="127.3" cy="465.9" r="1.65"/>
<circle cx="128.7" cy="465.7" r="1.65"/>
<circle cx="123.6" cy="465.2" r="1.65"/>
<circle cx="135.3" cy="471.3" r="1.65"/>
<circle cx="137.9" cy="471.1" r="1.65"/>
<circle cx="140.4" cy="470.3" r="1.65"/>
<circle cx="154.2" cy="468.3" r="1.65"/>
<circle cx="153.2" cy="472.6" r="1.65"/>
<circle cx="170.1" cy="475.4" r="1.65"/>
<circle cx="172.6" cy="473.9" r="1.65"/>
<circle cx="175.7" cy="475.2" r="1.65"/>
<circle cx="170.6" cy="477.0" r="1.65"/>
<circle cx="128.7" cy="479.5" r="1.65"/>
<circle cx="131.2" cy="479.3" r="1.65"/>
<circle cx="133.3" cy="479.5" r="1.65"/>
<circle cx="139.9" cy="479.0" r="1.65"/>
<circle cx="143.0" cy="479.3" r="1.65"/>
<circle cx="145.5" cy="479.5" r="1.65"/>
<circle cx="148.6" cy="478.5" r="1.65"/>
<circle cx="150.7" cy="481.4" r="1.65"/>
<circle cx="154.7" cy="481.1" r="1.65"/>
<circle cx="157.8" cy="480.0" r="1.65"/>
<circle cx="160.9" cy="479.5" r="1.65"/>
<circle cx="162.9" cy="478.5" r="1.65"/>
<circle cx="165.0" cy="478.0" r="1.65"/>
<circle cx="167.0" cy="480.0" r="1.65"/>
<circle cx="134.3" cy="481.4" r="1.65"/>
<circle cx="136.4" cy="481.8" r="1.65"/>
<circle cx="141.5" cy="481.8" r="1.65"/>
<circle cx="144.0" cy="481.6" r="1.65"/>
<circle cx="130.2" cy="484.6" r="1.65"/>
<circle cx="135.3" cy="484.6" r="1.65"/>
<circle cx="140.4" cy="485.1" r="1.65"/>
<circle cx="143.5" cy="485.1" r="1.65"/>
<circle cx="155.8" cy="484.1" r="1.65"/>
<circle cx="129.7" cy="488.2" r="1.65"/>
<circle cx="134.3" cy="487.2" r="1.65"/>
<circle cx="140.4" cy="486.7" r="1.65"/>
<circle cx="161.9" cy="487.5" r="1.65"/>
<circle cx="133.3" cy="491.3" r="1.65"/>
<circle cx="138.9" cy="491.3" r="1.65"/>
<circle cx="143.0" cy="489.7" r="1.65"/>
<circle cx="146.6" cy="492.8" r="1.65"/>
<circle cx="148.1" cy="494.9" r="1.65"/>
<circle cx="150.7" cy="491.8" r="1.65"/>
<circle cx="152.7" cy="490.8" r="1.65"/>
<circle cx="157.3" cy="491.3" r="1.65"/>
<circle cx="160.4" cy="491.8" r="1.65"/>
<circle cx="161.4" cy="493.8" r="1.65"/>
<circle cx="152.2" cy="496.7" r="1.65"/>
<circle cx="166.0" cy="496.9" r="1.65"/>
<circle cx="170.1" cy="498.1" r="1.65"/>
<circle cx="166.5" cy="501.5" r="1.65"/>
<circle cx="139.6" cy="478.8" r="1.65"/>
<circle cx="141.8" cy="480.2" r="1.65"/>
<circle cx="144.0" cy="481.0" r="1.65"/>
<circle cx="146.2" cy="481.7" r="1.65"/>
<circle cx="142.5" cy="483.9" r="1.65"/>
<circle cx="141.0" cy="485.3" r="1.65"/>
<circle cx="143.2" cy="485.3" r="1.65"/>
<circle cx="139.6" cy="487.5" r="1.65"/>
<circle cx="141.8" cy="487.5" r="1.65"/>
<circle cx="142.5" cy="489.7" r="1.65"/>
<circle cx="139.2" cy="491.2" r="1.65"/>
<circle cx="138.5" cy="492.3" r="1.65"/>
<circle cx="146.2" cy="492.6" r="1.65"/>
<circle cx="147.6" cy="494.1" r="1.65"/>
<circle cx="148.4" cy="495.5" r="1.65"/>
<circle cx="149.8" cy="491.9" r="1.65"/>
<circle cx="150.5" cy="493.4" r="1.65"/>
<circle cx="152.0" cy="491.9" r="1.65"/>
<circle cx="152.7" cy="490.4" r="1.65"/>
<circle cx="157.1" cy="491.2" r="1.65"/>
<circle cx="159.3" cy="491.9" r="1.65"/>
<circle cx="160.8" cy="493.4" r="1.65"/>
<circle cx="161.5" cy="491.9" r="1.65"/>
<circle cx="159.3" cy="479.5" r="1.65"/>
<circle cx="161.5" cy="479.5" r="1.65"/>
<circle cx="163.0" cy="478.8" r="1.65"/>
<circle cx="165.1" cy="478.0" r="1.65"/>
<circle cx="166.6" cy="479.5" r="1.65"/>
<circle cx="167.3" cy="481.0" r="1.65"/>
<circle cx="156.4" cy="480.2" r="1.65"/>
<circle cx="133.8" cy="481.0" r="1.65"/>
<circle cx="135.2" cy="481.7" r="1.65"/>
<circle cx="129.4" cy="479.5" r="1.65"/>
<circle cx="130.8" cy="479.5" r="1.65"/>
<circle cx="134.5" cy="486.8" r="1.65"/>
<circle cx="130.1" cy="488.2" r="1.65"/>
<circle cx="136.7" cy="484.6" r="1.65"/>
<circle cx="104.0" cy="463.0" r="1.65"/>
<circle cx="106.0" cy="467.0" r="1.65"/>
<circle cx="108.0" cy="460.0" r="1.65"/>
<circle cx="110.0" cy="467.5" r="1.65"/>
<circle cx="103.0" cy="469.0" r="1.65"/>
<circle cx="108.5" cy="471.0" r="1.65"/>
<circle cx="104.0" cy="474.0" r="1.65"/>
<circle cx="111.0" cy="474.5" r="1.65"/>
<circle cx="100.5" cy="462.5" r="1.65"/>
<circle cx="114.0" cy="460.0" r="1.65"/>
<circle cx="112.0" cy="464.0" r="1.65"/>
<circle cx="98.0" cy="455.0" r="1.65"/>
<circle cx="95.0" cy="453.0" r="1.65"/>
<circle cx="104.0" cy="456.0" r="1.65"/>
<circle cx="101.0" cy="456.5" r="1.65"/>
</g>
<g fill="#000">
<circle cx="303.6" cy="444.3" r="1.65"/>
<circle cx="303.9" cy="445.9" r="1.65"/>
<circle cx="295.5" cy="468.9" r="1.65"/>
<circle cx="296.6" cy="470.5" r="1.65"/>
<circle cx="298.2" cy="468.7" r="1.65"/>
<circle cx="299.8" cy="468.1" r="1.65"/>
<circle cx="300.9" cy="467.9" r="1.65"/>
<circle cx="297.1" cy="469.5" r="1.65"/>
<circle cx="270.3" cy="478.0" r="1.65"/>
<circle cx="273.5" cy="477.3" r="1.65"/>
<circle cx="275.1" cy="480.2" r="1.65"/>
<circle cx="277.8" cy="480.2" r="1.65"/>
<circle cx="280.5" cy="480.5" r="1.65"/>
<circle cx="283.2" cy="480.2" r="1.65"/>
<circle cx="285.9" cy="480.2" r="1.65"/>
<circle cx="286.9" cy="480.7" r="1.65"/>
<circle cx="271.4" cy="483.4" r="1.65"/>
<circle cx="273.0" cy="482.3" r="1.65"/>
<circle cx="277.3" cy="481.8" r="1.65"/>
<circle cx="279.4" cy="483.4" r="1.65"/>
<circle cx="278.9" cy="485.6" r="1.65"/>
<circle cx="280.5" cy="485.0" r="1.65"/>
<circle cx="278.4" cy="486.6" r="1.65"/>
<circle cx="282.1" cy="482.3" r="1.65"/>
</g>
<g fill="#000">
<circle cx="481.2" cy="446.9" r="1.65"/>
<circle cx="421.2" cy="458.1" r="1.65"/>
<circle cx="421.9" cy="459.4" r="1.65"/>
<circle cx="420.0" cy="461.2" r="1.65"/>
<circle cx="419.4" cy="463.1" r="1.65"/>
<circle cx="417.5" cy="465.0" r="1.65"/>
<circle cx="416.2" cy="465.6" r="1.65"/>
<circle cx="420.6" cy="463.8" r="1.65"/>
<circle cx="421.9" cy="465.0" r="1.65"/>
<circle cx="418.8" cy="465.6" r="1.65"/>
<circle cx="426.9" cy="466.9" r="1.65"/>
<circle cx="441.2" cy="465.6" r="1.65"/>
<circle cx="451.9" cy="456.2" r="1.65"/>
<circle cx="449.4" cy="460.6" r="1.65"/>
<circle cx="450.0" cy="465.6" r="1.65"/>
<circle cx="453.8" cy="463.1" r="1.65"/>
<circle cx="455.6" cy="461.9" r="1.65"/>
<circle cx="462.5" cy="459.4" r="1.65"/>
<circle cx="430.0" cy="482.2" r="1.65"/>
<circle cx="432.5" cy="482.5" r="1.65"/>
<circle cx="433.8" cy="482.2" r="1.65"/>
<circle cx="438.1" cy="481.9" r="1.65"/>
<circle cx="450.6" cy="481.9" r="1.65"/>
<circle cx="453.1" cy="486.2" r="1.65"/>
<circle cx="465.0" cy="476.2" r="1.65"/>
<circle cx="458.1" cy="478.1" r="1.65"/>
<circle cx="456.9" cy="480.0" r="1.65"/>
<circle cx="459.4" cy="480.0" r="1.65"/>
<circle cx="461.2" cy="479.4" r="1.65"/>
<circle cx="462.5" cy="481.2" r="1.65"/>
<circle cx="460.0" cy="483.1" r="1.65"/>
<circle cx="463.1" cy="484.4" r="1.65"/>
<circle cx="465.0" cy="482.5" r="1.65"/>
<circle cx="466.2" cy="485.0" r="1.65"/>
<circle cx="461.2" cy="486.2" r="1.65"/>
<circle cx="463.8" cy="487.5" r="1.65"/>
<circle cx="465.6" cy="488.8" r="1.65"/>
<circle cx="464.4" cy="491.2" r="1.65"/>
<circle cx="468.8" cy="479.4" r="1.65"/>
<circle cx="470.6" cy="479.0" r="1.65"/>
<circle cx="466.9" cy="480.0" r="1.65"/>
<circle cx="460.0" cy="499.4" r="1.65"/>
<circle cx="462.1" cy="481.9" r="1.65"/>
<circle cx="458.5" cy="488.3" r="1.65"/>
<circle cx="457.1" cy="483.5" r="1.65"/>
<circle cx="466.9" cy="478.1" r="1.65"/>
<circle cx="463.1" cy="485.0" r="1.65"/>
<circle cx="457.4" cy="481.9" r="1.65"/>
<circle cx="464.7" cy="482.9" r="1.65"/>
<circle cx="465.0" cy="479.0" r="1.65"/>
<circle cx="459.6" cy="478.4" r="1.65"/>
<circle cx="462.6" cy="489.0" r="1.65"/>
<circle cx="463.5" cy="487.1" r="1.65"/>
<circle cx="461.2" cy="486.7" r="1.65"/>
<circle cx="458.1" cy="480.8" r="1.65"/>
<circle cx="464.4" cy="486.4" r="1.65"/>
<circle cx="461.6" cy="478.1" r="1.65"/>
<circle cx="459.9" cy="479.7" r="1.65"/>
</g>
<g fill="#c8bde8">
<circle cx="452.5" cy="459.4" r="1.7"/>
<circle cx="454.4" cy="457.5" r="1.7"/>
<circle cx="456.2" cy="456.2" r="1.7"/>
<circle cx="458.1" cy="455.0" r="1.7"/>
<circle cx="460.0" cy="453.8" r="1.7"/>
<circle cx="461.2" cy="452.5" r="1.7"/>
<circle cx="465.6" cy="448.8" r="1.7"/>
<circle cx="466.2" cy="447.5" r="1.7"/>
<circle cx="453.5" cy="458.2" r="1.7"/>
<circle cx="457.2" cy="455.6" r="1.7"/>
</g>
<g fill="#f08a70">
<circle cx="473.8" cy="442.5" r="1.4"/>
<circle cx="475.6" cy="441.5" r="1.4"/>
</g>
<g fill="#6f6fbf">
<circle cx="407.5" cy="494.6" r="1.75"/>
<circle cx="388.7" cy="513.8" r="1.75"/>
<circle cx="390.0" cy="516.0" r="1.75"/>
<circle cx="392.0" cy="514.5" r="1.75"/>
<circle cx="394.5" cy="513.0" r="1.75"/>
<circle cx="397.0" cy="511.0" r="1.75"/>
<circle cx="399.5" cy="510.0" r="1.75"/>
<circle cx="400.8" cy="512.0" r="1.75"/>
<circle cx="389.5" cy="518.5" r="1.75"/>
<circle cx="391.5" cy="517.0" r="1.75"/>
</g>
<g fill="#4a4fa8">
<circle cx="499.8" cy="416.5" r="1.6"/>
<circle cx="501.5" cy="417.8" r="1.6"/>
<circle cx="502.6" cy="416.0" r="1.6"/>
<circle cx="503.8" cy="415.6" r="1.6"/>
</g>
<g fill="#2840a0">
<circle cx="521.2" cy="403.6" r="1.4"/>
</g>
<g fill="#e8232a">
<circle cx="506.0" cy="416.1" r="1.4"/>
</g>
<text x="489.90" y="406.60" font-size="9" text-anchor="start" fill="#4b4f9c" >R507H</text>
<text x="509.20" y="421.40" font-size="9" text-anchor="start" fill="#e8232a" >R377W</text>
<g fill="#000">
<circle cx="615.4" cy="474.4" r="1.65"/>
<circle cx="616.5" cy="473.3" r="1.65"/>
<circle cx="619.8" cy="474.0" r="1.65"/>
<circle cx="629.5" cy="473.3" r="1.65"/>
<circle cx="615.0" cy="475.5" r="1.65"/>
</g>
</svg>
</body></html>
